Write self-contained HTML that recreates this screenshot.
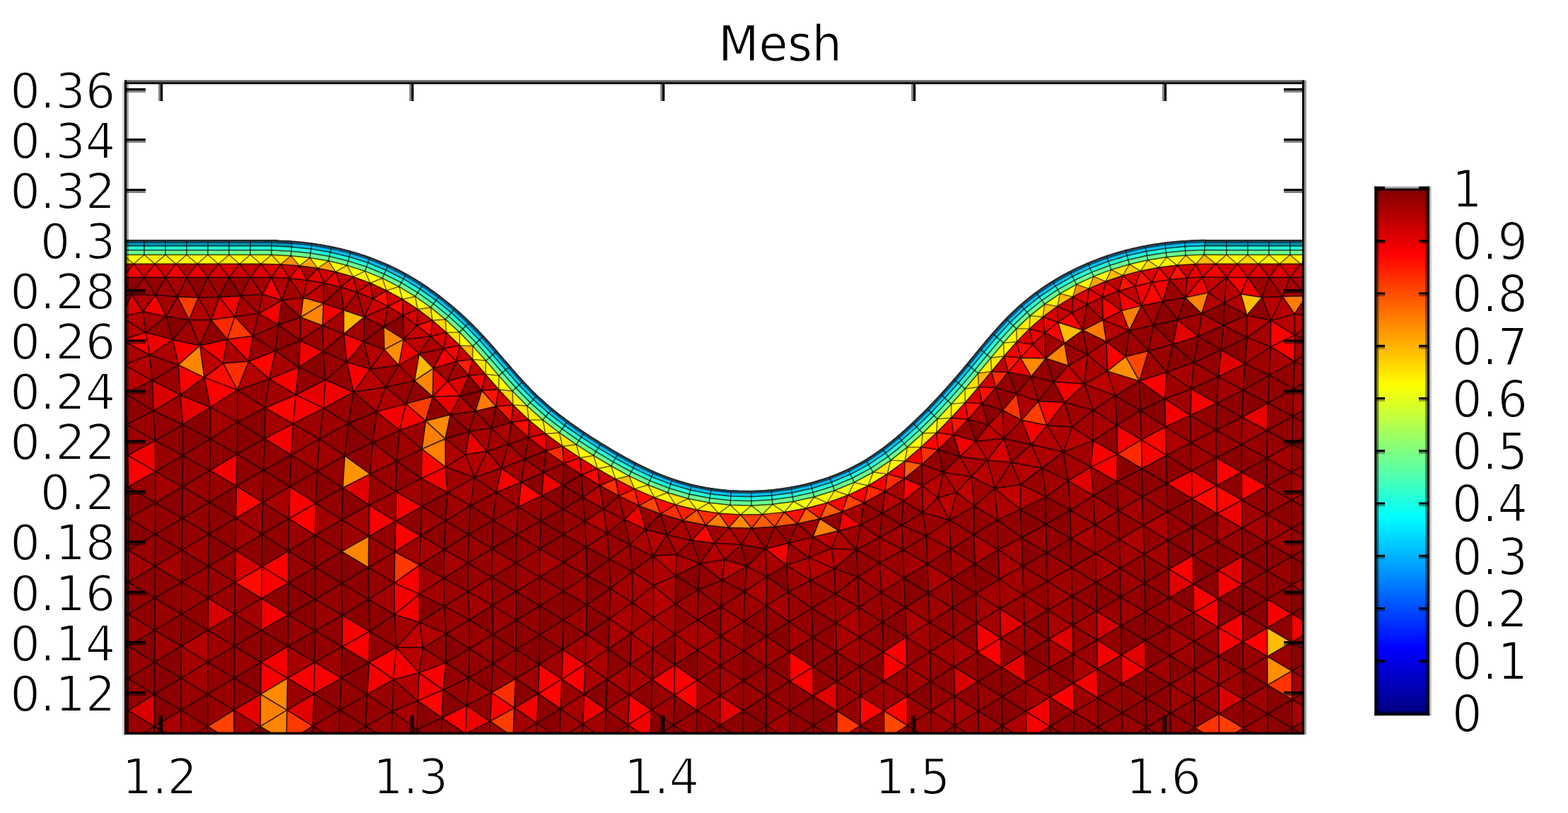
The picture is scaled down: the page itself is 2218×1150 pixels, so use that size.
<!DOCTYPE html>
<html lang="en">
<head>
<meta charset="utf-8">
<title>Mesh</title>
<style>
html,body{margin:0;padding:0;background:#fff;}
body{width:2218px;height:1150px;overflow:hidden;}
svg{display:block;}
</style>
</head>
<body>
<svg width="2218" height="1150" viewBox="0 0 2218 1150">
<defs>
<clipPath id="axclip"><rect x="177.5" y="117" width="1667" height="920.5"/></clipPath>
<filter id="softm" filterUnits="userSpaceOnUse" x="0" y="0" width="2218" height="1150" color-interpolation-filters="sRGB"><feGaussianBlur stdDeviation="0.5"/></filter>
<filter id="soft" filterUnits="userSpaceOnUse" x="0" y="0" width="2218" height="1150" color-interpolation-filters="sRGB"><feGaussianBlur stdDeviation="0.65"/></filter>
<linearGradient id="jet" x1="0" y1="0" x2="0" y2="1">
<stop offset="0" stop-color="#800000"/>
<stop offset="0.125" stop-color="#ff0000"/>
<stop offset="0.375" stop-color="#ffff00"/>
<stop offset="0.625" stop-color="#00ffff"/>
<stop offset="0.875" stop-color="#0000ff"/>
<stop offset="1" stop-color="#000080"/>
</linearGradient>
</defs>
<rect width="2218" height="1150" fill="#fff"/>
<g filter="url(#softm)">
<g clip-path="url(#axclip)">
<polygon fill="#900000" points="-50,339.3 -46,339.3 -42,339.3 -38,339.3 -34,339.3 -30,339.3 -26,339.3 -22,339.3 -18,339.3 -14,339.3 -10,339.3 -6,339.3 -2,339.3 2,339.3 6,339.3 10,339.3 14,339.3 18,339.3 22,339.3 26,339.3 30,339.3 34,339.3 38,339.3 42,339.3 46,339.3 50,339.3 54,339.3 58,339.3 62,339.3 66,339.3 70,339.3 74,339.3 78,339.3 82,339.3 86,339.3 90,339.3 94,339.3 98,339.3 102,339.3 106,339.3 110,339.3 114,339.3 118,339.3 122,339.3 126,339.3 130,339.3 134,339.3 138,339.3 142,339.3 146,339.3 150,339.3 154,339.3 158,339.3 162,339.3 166,339.3 170,339.3 174,339.3 178,339.3 182,339.3 186,339.3 190,339.3 194,339.3 198,339.3 202,339.3 206,339.3 210,339.3 214,339.3 218,339.3 222,339.3 226,339.3 230,339.3 234,339.3 238,339.3 242,339.3 246,339.3 250,339.3 254,339.3 258,339.3 262,339.3 266,339.3 270,339.3 274,339.3 278,339.3 282,339.3 286,339.3 290,339.3 294,339.3 298,339.3 302,339.3 306,339.3 310,339.3 314,339.3 318,339.3 322,339.3 326,339.3 330,339.3 334,339.3 338,339.3 342,339.3 346,339.3 350,339.3 354,339.3 358,339.3 362,339.3 366,339.3 370,339.3 374,339.3 378,339.3 382,339.3 386,339.3 390,339.3 393.8,339.8 397.8,340 401.8,340.2 405.8,340.4 409.8,340.6 413.8,340.9 417.8,341.2 421.8,341.6 425.7,341.9 429.7,342.4 433.7,342.8 437.7,343.3 441.6,343.8 445.6,344.4 449.6,345 453.5,345.6 457.4,346.3 461.4,347 465.3,347.7 469.2,348.5 473.1,349.3 477.1,350.2 480.9,351.1 484.8,352.1 488.7,353 492.6,354.1 496.4,355.1 500.3,356.2 504.1,357.4 507.9,358.5 511.8,359.8 515.5,361 519.3,362.3 523.1,363.7 526.9,365 530.6,366.5 534.3,367.9 538,369.4 541.7,371 545.4,372.6 549,374.2 552.7,375.9 556.3,377.6 559.9,379.3 563.4,381.1 567,383 570.5,384.9 574,386.8 577.5,388.7 581,390.7 584.4,392.8 587.9,394.8 591.3,396.9 594.7,399.1 598,401.2 601.4,403.4 604.7,405.7 608,407.9 611.2,410.2 614.5,412.6 617.7,414.9 620.9,417.3 624.1,419.7 627.3,422.2 630.4,424.7 633.5,427.2 636.6,429.7 639.7,432.3 642.7,434.9 645.7,437.5 648.7,440.2 651.7,442.8 654.7,445.5 657.6,448.2 660.5,451 663.4,453.8 666.3,456.6 669.1,459.4 671.9,462.2 674.7,465.1 677.5,467.9 680.3,470.8 683,473.8 685.7,476.7 688.4,479.6 691.1,482.6 693.7,485.6 696.4,488.6 699,491.6 701.7,494.6 704.3,497.6 706.9,500.7 709.5,503.7 712.1,506.7 714.7,509.8 717.3,512.8 719.9,515.8 722.6,518.8 725.2,521.9 727.8,524.9 730.5,527.9 733.1,530.9 735.8,533.8 738.5,536.8 741.2,539.7 743.9,542.7 746.7,545.6 749.5,548.5 752.2,551.3 755.1,554.2 757.9,557 760.8,559.7 763.7,562.5 766.7,565.2 769.6,567.9 772.6,570.5 775.7,573.1 778.7,575.7 781.8,578.3 784.9,580.8 788,583.3 791.2,585.8 794.3,588.2 797.5,590.6 800.7,593 803.9,595.4 807.2,597.7 810.4,600.1 813.7,602.4 817,604.6 820.3,606.9 823.6,609.1 826.9,611.4 830.3,613.6 833.6,615.7 837,617.9 840.4,620 843.7,622.2 847.1,624.3 850.5,626.4 854,628.5 857.4,630.6 860.8,632.6 864.2,634.7 867.7,636.7 871.1,638.8 874.6,640.8 878.1,642.8 881.5,644.7 885,646.7 888.5,648.6 892,650.5 895.6,652.4 899.1,654.2 902.7,656.1 906.3,657.9 909.8,659.6 913.4,661.4 917.1,663.1 920.7,664.7 924.4,666.4 928,668 931.7,669.5 935.4,671 939.1,672.5 942.9,673.9 946.6,675.3 950.4,676.6 954.2,677.9 958,679.2 961.8,680.3 965.6,681.5 969.5,682.6 973.4,683.6 977.2,684.6 981.1,685.5 985,686.4 988.9,687.3 992.9,688.1 996.8,688.8 1000.7,689.5 1004.7,690.1 1008.6,690.7 1012.6,691.3 1016.6,691.8 1020.5,692.2 1024.5,692.6 1028.5,693 1032.5,693.3 1036.5,693.5 1040.5,693.7 1044.5,693.9 1048.5,694 1052.5,694.1 1056.5,694.1 1060.5,694.1 1064.5,694 1068.5,693.9 1072.5,693.8 1076.5,693.6 1080.4,693.3 1084.4,693 1088.4,692.7 1092.4,692.3 1096.4,691.9 1100.4,691.4 1104.3,690.9 1108.3,690.4 1112.2,689.8 1116.2,689.1 1120.1,688.4 1124.1,687.7 1128,686.9 1131.9,686.1 1135.8,685.2 1139.7,684.3 1143.6,683.3 1147.4,682.3 1151.3,681.2 1155.1,680.1 1159,679 1162.8,677.8 1166.6,676.5 1170.4,675.2 1174.1,673.9 1177.9,672.5 1181.6,671 1185.3,669.5 1189,668 1192.7,666.4 1196.3,664.7 1199.9,663 1203.5,661.3 1207.1,659.5 1210.7,657.6 1214.2,655.7 1217.7,653.8 1221.1,651.8 1224.5,649.7 1228,647.6 1231.3,645.5 1234.7,643.3 1238,641 1241.3,638.7 1244.5,636.4 1247.8,634.1 1251,631.7 1254.1,629.2 1257.3,626.8 1260.4,624.3 1263.5,621.7 1266.6,619.2 1269.6,616.6 1272.7,614 1275.7,611.4 1278.7,608.7 1281.7,606 1284.6,603.3 1287.5,600.6 1290.5,597.9 1293.4,595.1 1296.2,592.4 1299.1,589.6 1302,586.8 1304.8,584 1307.6,581.1 1310.4,578.3 1313.2,575.4 1316,572.6 1318.8,569.7 1321.6,566.8 1324.3,563.9 1327,560.9 1329.7,558 1332.4,555 1335.1,552.1 1337.8,549.1 1340.5,546.1 1343.1,543.1 1345.8,540.1 1348.4,537.1 1351,534.1 1353.6,531 1356.2,528 1358.8,524.9 1361.4,521.9 1363.9,518.8 1366.5,515.7 1369,512.7 1371.6,509.6 1374.1,506.5 1376.7,503.4 1379.2,500.3 1381.7,497.2 1384.3,494.1 1386.8,491 1389.4,488 1392,484.9 1394.5,481.8 1397.1,478.8 1399.7,475.7 1402.3,472.7 1404.9,469.7 1407.6,466.7 1410.3,463.7 1412.9,460.7 1415.7,457.8 1418.4,454.9 1421.1,452 1423.9,449.1 1426.7,446.3 1429.6,443.5 1432.5,440.7 1435.4,437.9 1438.3,435.2 1441.3,432.5 1444.3,429.9 1447.3,427.3 1450.4,424.7 1453.5,422.2 1456.6,419.7 1459.8,417.3 1463,414.8 1466.2,412.5 1469.4,410.1 1472.7,407.8 1476,405.6 1479.3,403.3 1482.7,401.2 1486,399 1489.4,396.9 1492.9,394.8 1496.3,392.8 1499.8,390.8 1503.3,388.8 1506.8,386.9 1510.3,385.1 1513.9,383.2 1517.4,381.4 1521,379.6 1524.6,377.9 1528.3,376.2 1531.9,374.6 1535.6,373 1539.3,371.4 1542.9,369.9 1546.7,368.4 1550.4,366.9 1554.1,365.5 1557.9,364.1 1561.6,362.8 1565.4,361.5 1569.2,360.2 1573,359 1576.9,357.8 1580.7,356.7 1584.5,355.6 1588.4,354.5 1592.2,353.5 1596.1,352.5 1600,351.5 1603.9,350.6 1607.8,349.7 1611.7,348.9 1615.6,348.1 1619.6,347.3 1623.5,346.6 1627.4,345.9 1631.4,345.2 1635.3,344.6 1639.3,344 1643.2,343.5 1647.2,342.9 1651.2,342.5 1655.2,342 1659.1,341.6 1663.1,341.2 1667.1,340.9 1671.1,340.6 1675.1,340.3 1679.1,340 1683.1,339.8 1687.1,339.6 1691.1,339.5 1695.1,339.3 1699.1,339.2 1703.1,339.2 1707,339.3 1711,339.3 1715,339.3 1719,339.3 1723,339.3 1727,339.3 1731,339.3 1735,339.3 1739,339.3 1743,339.3 1747,339.3 1751,339.3 1755,339.3 1759,339.3 1763,339.3 1767,339.3 1771,339.3 1775,339.3 1779,339.3 1783,339.3 1787,339.3 1791,339.3 1795,339.3 1799,339.3 1803,339.3 1807,339.3 1811,339.3 1815,339.3 1819,339.3 1823,339.3 1827,339.3 1831,339.3 1835,339.3 1839,339.3 1843,339.3 1847,339.3 1851,339.3 1855,339.3 1859,339.3 1863,339.3 1867,339.3 1871,339.3 1875,339.3 1879,339.3 1883,339.3 1887,339.3 1891,339.3 1895,339.3 1899,339.3 1903,339.3 1907,339.3 1911,339.3 1915,339.3 1919,339.3 1923,339.3 1927,339.3 1931,339.3 1935,339.3 1939,339.3 1943,339.3 1947,339.3 1951,339.3 1955,339.3 1959,339.3 1963,339.3 1967,339.3 1971,339.3 1975,339.3 1979,339.3 1983,339.3 1987,339.3 1991,339.3 1995,339.3 1999,339.3 2003,339.3 2007,339.3 2011,339.3 2015,339.3 2019,339.3 2023,339.3 2027,339.3 2031,339.3 2035,339.3 2039,339.3 2043,339.3 2047,339.3 2051,339.3 2055,339.3 2059,339.3 2063,339.3 2067,339.3 2071,339.3 2071,1060 -50,1060"/>
<path fill="#ffbd00" d="M1792.7 928.5L1792.5 888L1827.2 908.4ZM1496.5 455.9L1531.7 467L1505.8 485.5ZM1755.3 415.9L1785.2 420.7L1763.8 445.9Z"/>
<path fill="#ffb800" d="M486.3 438.7L515.1 448.6L486.2 472.4ZM593 500.4L612.9 521L586.3 538.5Z"/>
<path fill="#ff9400" d="M487.7 644.5L523.4 670.4L484.9 690.1Z"/>
<path fill="#ff8f00" d="M425.4 448.7L429 421L457.6 429.3ZM543.5 494.4L571 480.1L564.1 516.7ZM1793 969.1L1792.7 928.5L1827.4 948.9ZM1592.5 504.5L1611.7 539L1566.3 525Z"/>
<path fill="#ff8a00" d="M571 480.1L543.5 494.4L542.8 462.3ZM405.9 1004.4L368.7 981.9L406.7 959.2ZM1443.5 506.1L1479.5 506.9L1458.7 532.5ZM602.1 595.5L637 586.6L629.9 620.6Z"/>
<path fill="#ff8500" d="M586.3 538.5L612.9 521L612.1 560.9ZM252.2 516.1L282.8 488.9L289 534ZM483.4 780.1L521.7 758.4L521.2 802.8ZM456.2 460.6L425.4 448.7L457.6 429.3ZM1511.2 517.3L1479.5 506.9L1505.8 485.5ZM1676.5 420.8L1709.2 414L1699.7 443.7ZM405.1 1050L368.3 1027.5L405.9 1004.4Z"/>
<path fill="#ff8000" d="M596.9 635.1L602.1 595.5L629.9 620.6ZM630.1 660.4L596.9 635.1L629.9 620.6ZM368.3 1027.5L368.7 981.9L405.9 1004.4ZM1186.4 750.9L1149.9 759.5L1159.9 733.8ZM1597.4 467.5L1586.5 439.5L1614.6 432.3Z"/>
<path fill="#ff7a00" d="M1531.7 467L1560.2 452.8L1565 483.3ZM701.4 574.8L672.6 581.6L681.5 552.4ZM1814.1 419.3L1848.1 418.6L1831.2 443.9Z"/>
<path fill="#ff4700" d="M1250.3 1005.4L1283.8 1026.2L1250.6 1047.1ZM1592.5 504.5L1624.6 496.4L1611.7 539Z"/>
<path fill="#ff4200" d="M331 1050.1L293.6 1027.4L331.1 1004.6Z"/>
<path fill="#ff3d00" d="M602.1 595.5L574.1 571.2L612.1 560.9ZM280.6 420.8L267.4 452.7L251.2 419.9ZM725.9 1042.5L693.3 1020.2L727.7 1001.3ZM1724.6 1050.2L1724.3 1009.4L1758.9 1029.9ZM1445 594.3L1468.6 567.4L1480.9 601.7Z"/>
<path fill="#ff3800" d="M593.6 799.3L557.8 824.5L558.5 780.5ZM332.3 447.7L357.9 475.4L321.3 479.8ZM1217.1 1026.2L1183.9 1047.2L1183.8 1005.6ZM405.1 1050L405.9 1004.4L442.6 1027.1Z"/>
<path fill="#ff3300" d="M1793 969.1L1827.4 948.9L1827.6 989.5ZM1724.6 1050.2L1690.1 1029.5L1724.3 1009.4ZM1438.2 557L1445 594.3L1418.3 580.3Z"/>
<path fill="#ff2e00" d="M315.6 513.8L351.8 511.1L335.8 551.7ZM727.7 1001.3L695.4 979.8L729.2 960Z"/>
<path fill="#ff2900" d="M332.3 447.7L321.3 479.8L298.5 452.5ZM1614.5 622L1615.5 662.8L1580.6 642.5Z"/>
<path fill="#ff0a00" d="M289 534L315.6 513.8L335.8 551.7ZM370 846.6L332.4 823.7L370.3 801.4ZM1686.1 705.5L1721 686.8L1721.5 726.4Z"/>
<path fill="#ff0500" d="M596.9 635.1L630.1 660.4L596 676.7ZM375 576.9L418.5 558.5L414.5 599.6ZM1644.9 426.4L1614.6 432.3L1629.7 399.3ZM389.7 496.2L381.1 536L351.8 511.1ZM761.4 981.2L794.7 960.6L793.1 1002.8ZM334.4 687.5L371.6 710.6L333.5 732.9ZM1250.3 1005.4L1283.4 984.6L1283.8 1026.2ZM1250.3 1005.4L1217.1 1026.2L1216.9 984.6ZM1614.5 622L1648.6 603.8L1649.8 643.9ZM626.9 975.8L625.1 1015.5L591 991.3ZM733.2 717L737.4 681.9L766.4 701.2ZM1468.6 567.4L1506.1 569.1L1480.9 601.7ZM633 539L650.9 560.2L612.1 560.9ZM1721.5 726.4L1721 686.8L1756.5 707.2ZM998.3 742.8L1010.8 768.3L978.5 764.3Z"/>
<path fill="#ff0000" d="M370.3 801.4L408 779.2L408 824.5ZM574.1 571.2L602.1 595.5L565.3 608.8ZM252.2 516.1L289 534L254.9 558.8ZM297.5 576.1L289 534L335.8 551.7ZM921.3 1004.4L888.6 1025.4L890.1 982.7ZM321.3 479.8L357.9 475.4L351.8 511.1ZM180.8 644.1L219.8 666.9L181.4 688.5ZM953.9 983.3L954.5 940.5L986.3 962.4ZM985.9 1004.9L953.9 983.3L986.3 962.4ZM1117.2 963.7L1116.8 921.8L1150.1 943.2ZM408.6 733.8L446.7 711.7L445.8 757.1ZM560.6 915.5L556.7 961.3L522.2 937ZM762.6 939.5L794.7 960.6L761.4 981.2ZM1687.4 785.7L1688 826.1L1653.2 805.1ZM1519 1007.4L1484.8 986.3L1518.5 966.2ZM1415.6 902.5L1416.5 943.9L1382.5 922.7ZM559.7 737.3L594.8 757.7L558.5 780.5ZM1586.5 439.5L1560.2 452.8L1559.4 420.4ZM514.6 483.4L490.5 512.1L486.2 472.4ZM826.2 982L794.7 960.6L827.8 939.5ZM1615.5 662.8L1614.5 622L1649.8 643.9ZM658.6 1038L625.1 1015.5L660.2 998.1ZM1647.6 564.2L1611.7 539L1650.3 526.4ZM1460.7 487.3L1479.5 506.9L1443.5 506.1ZM1496.5 455.9L1516.4 442.6L1531.7 467ZM1592.5 504.5L1566.3 525L1565 483.3ZM1831.5 474.1L1797.3 490.6L1797.6 453.5ZM1797.3 490.6L1831.5 474.1L1831.2 511.3ZM1304.6 687.4L1277.8 708.6L1279.2 676.8ZM1792.7 928.5L1758 908L1792.5 888ZM1756.5 707.2L1756.3 667.8L1791.8 687.6ZM1720.6 647.4L1756.3 667.8L1721 686.8ZM1580 681.6L1543.1 660.5L1580.6 642.5ZM1722.9 846.9L1688.6 866.7L1688 826.1Z"/>
<path fill="#fa0000" d="M370 846.6L370.3 801.4L408 824.5ZM522.9 893L484 914.7L484.2 870.3ZM484 914.7L522.9 893L522.2 937ZM1861.8 888.2L1827.2 908.4L1827.1 868ZM1282.8 942.9L1249.9 963.7L1249.3 922ZM1552.3 946.2L1552.8 987.2L1518.5 966.2ZM211.6 502.1L172.3 480.7L206.3 470.3ZM557.8 824.5L593.6 799.3L593.1 840.5ZM1654.3 395.5L1644.9 426.4L1629.7 399.3ZM315.6 513.8L282.8 488.9L321.3 479.8ZM422.6 519.3L418.5 558.5L381.1 536ZM1150.4 984.7L1117.2 963.7L1150.1 943.2ZM220.1 417.1L234.8 447.5L202.2 440.7ZM244.5 480.5L282.8 488.9L252.2 516.1ZM446.7 711.7L408.6 733.8L410 688.4ZM500.1 554.6L490.5 512.1L523.6 522.1ZM340.5 418.4L332.3 447.7L310.1 420.4ZM953.9 983.3L922.4 961.5L954.5 940.5ZM1792.5 888L1792.3 847.6L1827.1 868ZM1485.3 1027.5L1451.7 1047.9L1451.2 1006.5ZM522.1 714.6L559.7 737.3L521.7 758.4ZM630.9 937.2L626.9 975.8L592.6 951.8ZM445.1 936.8L444.1 981.6L406.7 959.2ZM444.1 981.6L445.1 936.8L482.8 959.1ZM693.3 1020.2L695.4 979.8L727.7 1001.3ZM1579.7 601.6L1614.5 622L1580.6 642.5ZM418.5 558.5L457.7 577.6L414.5 599.6ZM559.7 737.3L559.9 695.2L596.7 716.4ZM1478 470.8L1496.5 455.9L1505.8 485.5ZM1586.5 439.5L1582.2 411.8L1614.6 432.3ZM368.7 981.9L369.2 936.7L406.7 959.2ZM709.2 662.3L737.4 681.9L702.1 696.6ZM1755.3 415.9L1734.9 392.3L1764.9 392.3ZM1721.1 570.5L1684 587.5L1685.2 549.9ZM1506.1 569.1L1490.8 540.1L1534.1 543.2ZM1282 901.1L1282.8 942.9L1249.3 922ZM1721 686.8L1686.1 705.5L1685.4 665.7ZM1543.1 660.5L1546.2 623.3L1580.6 642.5ZM1723.7 928L1723.3 887.4L1758 908Z"/>
<path fill="#f50000" d="M761.4 981.2L759.7 1023L727.7 1001.3ZM407.8 869.4L369.6 891.6L370 846.6ZM888.6 1025.4L921.3 1004.4L920.1 1046.9ZM556.7 961.3L519.3 982.3L522.2 937ZM558 869.4L593.1 840.5L593.5 880.3ZM558 869.4L557.8 824.5L593.1 840.5ZM630.1 660.4L633.2 696.8L596 676.7ZM645.4 511.2L612.9 521L627.7 493ZM335.4 642.2L334.4 687.5L296.9 665.4ZM414.5 599.6L412 643.5L374.3 620.6ZM556.7 961.3L560.6 915.5L592.6 951.8ZM486.3 438.7L456.2 460.6L457.6 429.3ZM1614.6 432.3L1605.6 404.8L1629.7 399.3ZM827.8 939.5L794.7 960.6L795.9 918.7ZM532.7 582.3L574.1 571.2L565.3 608.8ZM398.8 424.7L371.4 416.2L384 392.3ZM365.8 443.5L398.8 424.7L393.6 459.5ZM422.6 519.3L424.4 481.7L457.2 497.2ZM1082.7 776.4L1115.8 768.2L1112.3 799.5ZM612.9 521L633 539L612.1 560.9ZM1586.2 926.3L1552.3 946.2L1551.7 905.3ZM1586.2 926.3L1620.7 947.2L1586.7 967.2ZM500.1 554.6L457.7 577.6L460.3 537.4ZM1709.2 414L1676.5 420.8L1700.8 392ZM406.7 959.2L369.2 936.7L407.4 914.3ZM1647.6 564.2L1684 587.5L1648.6 603.8ZM1757.4 827.2L1722.9 846.9L1722.4 806.6ZM1685.4 665.7L1686.1 705.5L1650.7 684.1ZM1191.4 724L1217.6 742.4L1186.4 750.9ZM1381.5 881.1L1415.6 902.5L1382.5 922.7ZM1458.7 628.9L1445 594.3L1480.9 601.7ZM1758 908L1723.3 887.4L1757.7 867.6ZM1723.3 887.4L1688.6 866.7L1722.9 846.9Z"/>
<path fill="#f00000" d="M1721.5 726.4L1756.5 707.2L1756.8 747ZM244.5 480.5L211.6 502.1L206.3 470.3ZM219.4 623.3L219.8 666.9L180.8 644.1ZM796.3 686.5L766.4 701.2L768.9 668.3ZM903.8 715.2L913.2 748.9L883.3 734.8ZM1484.8 986.3L1485.3 1027.5L1451.2 1006.5ZM592.6 951.8L626.9 975.8L591 991.3ZM1426.2 526.6L1443.5 506.1L1458.7 532.5ZM571 480.1L593 500.4L564.1 516.7ZM693.3 1020.2L658.6 1038L660.2 998.1ZM1380.5 624.1L1358 645.8L1348.7 615Z"/>
<path fill="#eb0000" d="M658.6 643.1L663.7 610.2L688.9 638.1ZM824.4 1024.5L826.2 982L857.4 1003.7ZM1785.2 420.7L1755.3 415.9L1764.9 392.3ZM650.9 560.2L637 586.6L612.1 560.9ZM1756.9 590.2L1793.6 570L1792.4 609Z"/>
<path fill="#e50000" d="M297.5 576.1L258.6 600.8L254.9 558.8ZM1051.3 1005.2L1018.4 1026L1018.6 984ZM1416.5 943.9L1449.8 923.9L1450.6 965.2ZM368.7 981.9L368.3 1027.5L331.1 1004.6ZM457.7 577.6L418.5 558.5L460.3 537.4ZM1665.7 452.3L1695.2 475.9L1659.2 486.7Z"/>
<path fill="#e00000" d="M1757.1 787L1757.4 827.2L1722.4 806.6ZM1183.5 964L1183.8 1005.6L1150.4 984.7ZM310.1 420.4L332.3 447.7L298.5 452.5ZM1688 826.1L1653.8 845.8L1653.2 805.1ZM1415.6 902.5L1414.6 861L1449 882.7ZM523.4 670.4L522.1 714.6L484.9 690.1ZM405.9 1004.4L444.1 981.6L442.6 1027.1ZM1517.8 925.2L1483.4 904L1517.2 884.2ZM1620.7 947.2L1586.2 926.3L1620.2 906.3ZM650.9 560.2L633 539L663.1 531.1ZM1727.4 495L1761.3 514.4L1723.4 532.8ZM1510.9 680.1L1543.1 660.5L1546.7 701.1Z"/>
<path fill="#db0000" d="M1350.1 984.8L1349.4 943.2L1383.3 964.3ZM171.8 448.4L185.9 416.6L202.2 440.7ZM217.1 581L215.6 538.4L254.9 558.8ZM1724.3 1009.4L1724 968.7L1758.6 989.3Z"/>
<path fill="#d60000" d="M294.5 846.1L332 868.9L294.1 891.4ZM218.4 1027.6L180.9 1005L218.5 982.2ZM332.4 823.7L332.9 778.4L370.3 801.4ZM1420 620.2L1430.3 653.8L1396.7 651.1Z"/>
<path fill="#d10000" d="M549 433.5L515.1 448.6L527.5 422.6ZM1551.1 864.4L1585.7 885.4L1551.7 905.3Z"/>
<path fill="#cc0000" d="M1676.5 420.8L1679.2 393.1L1700.8 392Z"/>
<path fill="#c70000" d="M429 421L434 396.3L458.3 400.4ZM609.2 476L571 480.1L589.9 460.3ZM1479.5 506.9L1460.7 487.3L1478 470.8Z"/>
<path fill="#c20000" d="M434 396.3L429 421L409.2 393.7ZM598.3 916.2L560.6 915.5L593.5 880.3ZM1443.1 720.8L1407.2 690.8L1443.8 685.3ZM175.2 516L137.5 491.5L172.3 480.7ZM1490.8 540.1L1511.2 517.3L1534.1 543.2ZM1614.6 432.3L1582.2 411.8L1605.6 404.8ZM1734.9 392.3L1709.2 414L1700.8 392ZM1420 620.2L1397.9 600.8L1418.3 580.3ZM1378.4 715.9L1353.2 696.5L1373.5 674.2Z"/>
<path fill="#bd0000" d="M429 421L458.3 400.4L457.6 429.3ZM282.8 488.9L315.6 513.8L289 534ZM140 455.1L171.8 448.4L172.3 480.7ZM486.3 438.7L482.1 406.1L505.2 413.6ZM955.8 814.3L923.6 786.7L956.9 784.2ZM1056.4 800.9L1021.3 820.9L1025 791.4ZM1149.9 759.5L1186.4 750.9L1176.1 775.8ZM1566.3 525L1577.8 559.8L1534.1 543.2ZM1586.5 439.5L1597.4 467.5L1560.2 452.8ZM593 500.4L571 480.1L609.2 476ZM1865.1 450.5L1831.5 474.1L1831.2 443.9ZM1380.5 624.1L1397.9 600.8L1420 620.2ZM1358 645.8L1380.5 624.1L1396.7 651.1ZM1879.9 417.7L1848.1 418.6L1854.9 392.3ZM1353.2 696.5L1343.1 735.9L1326.6 704.1Z"/>
<path fill="#b80000" d="M924.4 828.3L955.3 854.2L924.3 873.9ZM688.9 638.1L709.2 662.3L671.2 675.4ZM560.6 915.5L598.3 916.2L592.6 951.8ZM543.5 494.4L564.1 516.7L523.6 522.1ZM545.6 547.7L500.1 554.6L523.6 522.1ZM848.4 686.8L853.5 719.8L824.5 703.7ZM515.1 448.6L549 433.5L542.8 462.3ZM1511.2 517.3L1538.4 501.6L1534.1 543.2ZM1679.2 393.1L1676.5 420.8L1654.3 395.5ZM589.9 460.3L571 480.1L569.8 446.1ZM425.4 448.7L398.8 424.7L429 421ZM1373.5 674.2L1396.7 651.1L1407.2 690.8ZM1180.3 804.2L1144.1 789L1176.1 775.8ZM177.3 556.4L175.2 516L215.6 538.4ZM1831.2 443.9L1831.5 474.1L1797.6 453.5ZM1734.9 392.3L1755.3 415.9L1731.9 428.4ZM1814.1 419.3L1831.2 443.9L1797.6 453.5ZM1785.2 420.7L1814.1 419.3L1797.6 453.5ZM1531.7 467L1516.4 442.6L1537.4 430.7ZM1516.3 604.2L1546.2 623.3L1504.3 639.4ZM1304.6 687.4L1334.3 668.1L1326.6 704.1ZM1884.9 392.3L1879.9 417.7L1854.9 392.3ZM1304.9 725.2L1304.6 687.4L1326.6 704.1ZM1879.9 417.7L1898.7 439.6L1865.1 450.5ZM1248 726.3L1251.8 695.2L1277.8 708.6Z"/>
<path fill="#b30000" d="M351.8 511.1L381.1 536L335.8 551.7ZM171.8 448.4L202.2 440.7L206.3 470.3ZM172.3 480.7L171.8 448.4L206.3 470.3ZM556.7 961.3L592.6 951.8L591 991.3ZM631.3 896.5L598.3 916.2L593.5 880.3ZM630.1 660.4L658.6 643.1L671.2 675.4ZM658.6 643.1L688.9 638.1L671.2 675.4ZM175.2 516L211.6 502.1L215.6 538.4ZM1560.2 452.8L1537.4 430.7L1559.4 420.4ZM923.6 786.7L913.2 748.9L943.4 756.7ZM1144.1 789L1146.9 821L1112.3 799.5ZM267.4 452.7L280.6 420.8L298.5 452.5ZM515.1 448.6L505.2 413.6L527.5 422.6ZM1566.3 525L1538.4 501.6L1565 483.3ZM514.6 483.4L543.5 494.4L523.6 522.1ZM398.8 424.7L384 392.3L409.2 393.7ZM371.4 416.2L398.8 424.7L365.8 443.5ZM990.2 797.3L1010.8 768.3L1025 791.4ZM1010.8 768.3L1048.3 770.4L1025 791.4ZM1115.8 768.2L1149.9 759.5L1144.1 789ZM1797.6 453.5L1764.1 477.5L1763.8 445.9ZM858.9 754.3L827.3 737.6L853.5 719.8ZM1611.7 539L1577.8 559.8L1566.3 525ZM1211.2 777.6L1180.3 804.2L1176.1 775.8ZM1144.1 789L1180.3 804.2L1146.9 821ZM1582.2 411.8L1586.5 439.5L1559.4 420.4ZM1560.2 452.8L1597.4 467.5L1565 483.3ZM1709.2 414L1731.9 428.4L1699.7 443.7ZM1709.2 414L1734.9 392.3L1731.9 428.4ZM1010.8 768.3L1030.9 746.3L1048.3 770.4ZM1731.9 428.4L1755.3 415.9L1763.8 445.9ZM1479.5 702.7L1443.1 720.8L1443.8 685.3ZM293.8 936.6L256.3 914L294.1 891.4ZM1504.3 639.4L1458.7 628.9L1480.9 601.7ZM1380.5 624.1L1420 620.2L1396.7 651.1ZM1353.2 696.5L1334.3 668.1L1373.5 674.2ZM1334.3 668.1L1358 645.8L1373.5 674.2ZM1430.3 653.8L1474 662.3L1443.8 685.3ZM1430.3 653.8L1458.7 628.9L1474 662.3Z"/>
<path fill="#ad0000" d="M280.6 420.8L310.1 420.4L298.5 452.5ZM315.6 513.8L321.3 479.8L351.8 511.1ZM886.9 1067.8L888.6 1025.4L920.1 1046.9ZM174 392.3L185.9 416.6L155.3 421ZM955.8 814.3L955.3 854.2L924.4 828.3ZM1021.3 820.9L990.2 797.3L1025 791.4ZM990.2 797.3L955.8 814.3L956.9 784.2ZM1215 859L1215.9 901.1L1182.4 881.1ZM658.6 643.1L630.1 660.4L629.9 620.6ZM549 433.5L569.8 446.1L542.8 462.3ZM1652.3 764.6L1617.2 743.3L1651.3 724.2ZM1451.7 1047.9L1417.8 1026.8L1451.2 1006.5ZM185.9 416.6L220.1 417.1L202.2 440.7ZM211.6 502.1L175.2 516L172.3 480.7ZM211.6 502.1L244.5 480.5L252.2 516.1ZM171.8 448.4L140 455.1L155.3 421ZM140 455.1L126.5 418.8L155.3 421ZM371.4 416.2L340.5 418.4L354 392.3ZM913.2 748.9L923.6 786.7L891.1 770.4ZM923.6 786.7L955.8 814.3L924.4 828.3ZM943.4 756.7L978.5 764.3L956.9 784.2ZM1082.7 776.4L1048.3 770.4L1063.4 747.1ZM1648.6 603.8L1684.6 626.2L1649.8 643.9ZM1617.2 743.3L1618.3 784.1L1583.5 763.1ZM1186.4 750.9L1211.2 777.6L1176.1 775.8ZM1349.4 943.2L1348.5 901.5L1382.5 922.7ZM140 575.4L179 600.3L141.6 620.4ZM282.8 488.9L267.4 452.7L298.5 452.5ZM545.6 547.7L532.7 582.3L500.1 554.6ZM532.7 582.3L545.6 547.7L574.1 571.2ZM456.2 460.6L424.4 481.7L425.4 448.7ZM143.5 982.5L180.9 1005L143.5 1028.1ZM1862.1 1009.9L1827.7 1030.1L1827.6 989.5ZM593 500.4L609.2 476L627.7 493ZM564.1 516.7L593 500.4L586.3 538.5ZM923.4 918.1L892.9 896.2L924.3 873.9ZM892.9 896.2L862.1 875.2L894.4 852.4ZM860.6 918.1L827.8 939.5L829.2 897.3ZM1053.2 837L1084.6 815.7L1084.3 856.9ZM1445 594.3L1420 620.2L1418.3 580.3ZM1445 594.3L1438.2 557L1468.6 567.4ZM1443.1 720.8L1411 735.5L1407.2 690.8ZM695.5 605.7L723.5 597.4L719.3 628.5ZM637 586.6L650.9 560.2L672.6 581.6ZM143.6 936.9L143.7 891.5L181.2 914.1ZM1848.1 418.6L1824.9 392.3L1854.9 392.3ZM1824.9 392.3L1814.1 419.3L1794.9 392.3ZM1516.3 604.2L1504.3 639.4L1480.9 601.7ZM1474 662.3L1458.7 628.9L1504.3 639.4ZM966 736.4L978.5 764.3L943.4 756.7ZM1730.7 460.3L1695.2 475.9L1699.7 443.7ZM1280.6 859.2L1314.6 880.4L1282 901.1ZM1396.7 651.1L1430.3 653.8L1407.2 690.8ZM1379.1 798L1377.6 756.3L1411.9 777.6ZM1311.8 797.9L1346.2 818.3L1313.2 838.8Z"/>
<path fill="#a80000" d="M894.4 852.4L924.4 828.3L924.3 873.9ZM954.9 897.4L986.9 876.9L986.6 919.7ZM1756.8 747L1791.8 727.3L1791.9 767.3ZM888.6 1025.4L857.4 1003.7L890.1 982.7ZM628.3 777.3L661.8 796.5L627.7 817.8ZM445.1 936.8L406.7 959.2L407.4 914.3ZM954.5 940.5L954.9 897.4L986.6 919.7ZM955.3 854.2L954.9 897.4L924.3 873.9ZM1862.2 687L1862.7 647.1L1897.3 666.3ZM1514.7 762.1L1548.8 742.2L1549.6 782.9ZM1584.3 803.8L1550.4 823.7L1549.6 782.9ZM202.2 440.7L234.8 447.5L206.3 470.3ZM458.3 400.4L482.1 406.1L457.6 429.3ZM894.4 852.4L894.5 808.3L924.4 828.3ZM593.6 799.3L594.8 757.7L628.3 777.3ZM757.8 1064.8L725.9 1042.5L759.7 1023ZM1018.6 984L985.9 1004.9L986.3 962.4ZM954.9 897.4L923.4 918.1L924.3 873.9ZM986.9 876.9L1019.1 899.8L986.6 919.7ZM1215.9 901.1L1183.1 922.5L1182.4 881.1ZM1721.9 766.4L1721.5 726.4L1756.8 747ZM1517.8 925.2L1552.3 946.2L1518.5 966.2ZM456.2 460.6L486.2 472.4L457.2 497.2ZM545.6 547.7L564.1 516.7L586.3 538.5ZM332.3 447.7L340.5 418.4L365.8 443.5ZM357.9 475.4L332.3 447.7L365.8 443.5ZM389.7 496.2L422.6 519.3L381.1 536ZM763.7 776.2L797.1 795.5L763.6 816.5ZM665.7 715.2L633.2 696.8L671.2 675.4ZM853.5 1089L855.6 1046.4L886.9 1067.8ZM1827 707.4L1827.2 667.7L1862.2 687ZM903.8 715.2L883.3 734.8L875.3 701.6ZM709.2 662.3L719.3 628.5L742.5 649.6ZM1350.1 984.8L1383.9 1005.9L1350.6 1026.4ZM251.2 419.9L234 392.3L264 392.3ZM267.4 452.7L234.8 447.5L251.2 419.9ZM137.5 491.5L140 455.1L172.3 480.7ZM137.5 491.5L175.2 516L138.2 530.4ZM408.6 733.8L371.6 710.6L410 688.4ZM1538.4 501.6L1566.3 525L1534.1 543.2ZM1560.2 452.8L1531.7 467L1537.4 430.7ZM859 961L891.5 939.6L890.1 982.7ZM891.5 939.6L922.4 961.5L890.1 982.7ZM859 961L826.2 982L827.8 939.5ZM826.2 982L824.4 1024.5L793.1 1002.8ZM1018 1067.8L984.7 1089L985.3 1047.1ZM1115.4 837L1116.1 879.7L1084.3 856.9ZM1183.9 1047.2L1217.1 1026.2L1217.3 1067.7ZM1183.9 1047.2L1184 1088.8L1150.6 1067.8ZM1861.7 807.4L1861.8 847.8L1827 827.6ZM1685.2 549.9L1650.3 526.4L1688.8 512.7ZM663.7 610.2L695.5 605.7L688.9 638.1ZM1484.1 945.1L1483.4 904L1517.8 925.2ZM1517.2 884.2L1483.4 904L1482.6 863.1ZM175.2 516L177.3 556.4L138.2 530.4ZM523.4 670.4L527.4 625.9L561.3 652.5ZM612.9 521L593 500.4L627.7 493ZM1048.3 770.4L1030.9 746.3L1063.4 747.1ZM891.5 939.6L892.9 896.2L923.4 918.1ZM860.6 918.1L859 961L827.8 939.5ZM892.9 896.2L860.6 918.1L862.1 875.2ZM256 1004.6L256 1049.9L218.4 1027.6ZM657.5 1078.2L658.6 1038L691.8 1060.9ZM768.9 668.3L737.4 681.9L742.5 649.6ZM1084.6 815.7L1082.7 776.4L1112.3 799.5ZM1084.6 815.7L1056.4 800.9L1082.7 776.4ZM1831.5 474.1L1865.5 487L1831.2 511.3ZM1579.7 601.6L1546.2 623.3L1546.3 580.3ZM1397.9 600.8L1369.4 593.2L1389.2 570.9ZM1373.5 674.2L1358 645.8L1396.7 651.1ZM1631.5 460.1L1597.4 467.5L1614.6 432.3ZM589.9 1032.1L554.9 1006.1L591 991.3ZM1862.3 1050.6L1862.5 1091.4L1828 1070.8ZM1828.6 589L1829.9 550.1L1864.6 567.5ZM1831.5 474.1L1865.1 450.5L1865.5 487ZM1797.3 490.6L1831.2 511.3L1795.4 530.8ZM1797.3 490.6L1761.3 514.4L1764.1 477.5ZM1814.1 419.3L1824.9 392.3L1848.1 418.6ZM1506.1 569.1L1516.3 604.2L1480.9 601.7ZM1277.8 708.6L1251.8 695.2L1279.2 676.8ZM1217.6 742.4L1191.4 724L1222.1 711.2ZM1334.3 668.1L1353.2 696.5L1326.6 704.1ZM1411 735.5L1378.4 715.9L1407.2 690.8ZM966 736.4L998.3 742.8L978.5 764.3ZM1407.2 690.8L1430.3 653.8L1443.8 685.3ZM1413.4 819.4L1411.9 777.6L1446.6 800.7ZM1244.4 796.1L1278.4 817.6L1246.6 837.9ZM1378.4 715.9L1343.1 735.9L1353.2 696.5ZM1343.1 735.9L1304.9 725.2L1326.6 704.1ZM1688.6 866.7L1723.3 887.4L1689 907.3ZM1244.1 760.5L1277.4 777.8L1244.4 796.1Z"/>
<path fill="#a30000" d="M696 776.3L729.7 796.5L695.8 816.5ZM593.1 840.5L593.6 799.3L627.7 817.8ZM1018.6 984L1018.8 941.9L1051.4 963.2ZM1517.2 884.2L1551.1 864.4L1551.7 905.3ZM1447.9 841.6L1482.6 863.1L1449 882.7ZM1317 1005.5L1350.1 984.8L1350.6 1026.4ZM557.8 824.5L558 869.4L521.4 847.7ZM357.9 475.4L365.8 443.5L393.6 459.5ZM375 576.9L414.5 599.6L374.3 620.6ZM418.5 558.5L375 576.9L381.1 536ZM219.8 711.2L219.8 666.9L258.3 688.6ZM863.4 832.6L894.5 808.3L894.4 852.4ZM862.1 875.2L863.4 832.6L894.4 852.4ZM829.2 897.3L827.8 939.5L795.9 918.7ZM759.7 1023L725.9 1042.5L727.7 1001.3ZM369.6 891.6L332 868.9L370 846.6ZM257 823.5L219.4 800.9L257.4 778.3ZM1019.1 899.8L1018.8 941.9L986.6 919.7ZM1019.1 899.8L1019.8 858.3L1052.2 879.1ZM1827.4 948.9L1862 969.2L1827.6 989.5ZM1548.8 742.2L1546.7 701.1L1582 722.2ZM1615.8 702.8L1617.2 743.3L1582 722.2ZM1283.4 984.6L1282.8 942.9L1316.4 963.9ZM1117.4 1047.1L1084.2 1026.1L1117.3 1005.4ZM234.8 447.5L220.1 417.1L251.2 419.9ZM598.3 916.2L630.9 937.2L592.6 951.8ZM560.6 915.5L558 869.4L593.5 880.3ZM456.2 460.6L486.3 438.7L486.2 472.4ZM340.5 418.4L371.4 416.2L365.8 443.5ZM384 392.3L371.4 416.2L354 392.3ZM335.9 597.1L297.5 576.1L335.8 551.7ZM375 576.9L335.9 597.1L335.8 551.7ZM297.5 576.1L335.9 597.1L297.4 620.7ZM883.3 734.8L913.2 748.9L891.1 770.4ZM894.5 808.3L923.6 786.7L924.4 828.3ZM628.2 857.7L593.1 840.5L627.7 817.8ZM695.4 979.8L660.2 998.1L663 958.5ZM886.9 1067.8L855.6 1046.4L888.6 1025.4ZM219.4 800.9L181.5 823.4L181.7 778.3ZM1018.4 1026L985.9 1004.9L1018.6 984ZM922.4 961.5L923.4 918.1L954.5 940.5ZM1051.6 921.2L1019.1 899.8L1052.2 879.1ZM1215.9 901.1L1216.5 942.9L1183.1 922.5ZM1149.5 901.6L1116.8 921.8L1116.1 879.7ZM1827.7 628.2L1827.2 667.7L1791.9 648.2ZM1618.3 784.1L1584.3 803.8L1583.5 763.1ZM1618.3 784.1L1652.3 764.6L1653.2 805.1ZM1315.7 922.1L1348.5 901.5L1349.4 943.2ZM1450.6 965.2L1484.8 986.3L1451.2 1006.5ZM1484.1 945.1L1484.8 986.3L1450.6 965.2ZM1449.8 923.9L1415.6 902.5L1449 882.7ZM1553.3 1028.2L1553.7 1069.2L1519.5 1048.5ZM446.7 711.7L483.7 735.3L445.8 757.1ZM483.7 735.3L522.1 714.6L521.7 758.4ZM515.1 448.6L486.3 438.7L505.2 413.6ZM515.1 448.6L514.6 483.4L486.2 472.4ZM429 421L398.8 424.7L409.2 393.7ZM425.4 448.7L424.4 481.7L393.6 459.5ZM858.9 754.3L853.5 719.8L883.3 734.8ZM855.6 1046.4L824.4 1024.5L857.4 1003.7ZM370.7 756L332.9 778.4L333.5 732.9ZM143.9 800.7L143.9 755.4L181.7 778.3ZM1184 1088.8L1183.9 1047.2L1217.3 1067.7ZM695.5 605.7L719.3 628.5L688.9 638.1ZM645.4 511.2L633 539L612.9 521ZM663.1 531.1L633 539L645.4 511.2ZM1577.8 559.8L1546.3 580.3L1534.1 543.2ZM527.4 625.9L532.7 582.3L565.3 608.8ZM596.7 716.4L559.9 695.2L596 676.7ZM1479.5 506.9L1478 470.8L1505.8 485.5ZM892.9 896.2L894.4 852.4L924.3 873.9ZM696.8 856.6L663.9 876.5L662 836.7ZM791.2 1045.1L757.8 1064.8L759.7 1023ZM1056.4 800.9L1084.6 815.7L1053.2 837ZM1865.5 487L1865.6 527.6L1831.2 511.3ZM1758.5 552.1L1721.1 570.5L1723.4 532.8ZM1761.3 514.4L1758.5 552.1L1723.4 532.8ZM1546.3 580.3L1506.1 569.1L1534.1 543.2ZM1468.6 567.4L1438.2 557L1458.7 532.5ZM1631.5 460.1L1614.6 432.3L1644.9 426.4ZM293.7 1072.9L256 1049.9L293.6 1027.4ZM256.3 914L293.8 936.6L256.1 959.3ZM256.1 959.3L293.8 936.6L293.6 982ZM1848.1 418.6L1865.1 450.5L1831.2 443.9ZM1797.3 490.6L1764.1 477.5L1797.6 453.5ZM1756.9 590.2L1792.4 609L1756.3 628.7ZM1546.2 623.3L1516.3 604.2L1546.3 580.3ZM1415.6 902.5L1381.5 881.1L1414.6 861ZM1282 901.1L1314.6 880.4L1315.7 922.1ZM1510.9 680.1L1479.5 702.7L1474 662.3ZM1514.1 721.7L1510.9 680.1L1546.7 701.1ZM1445 594.3L1458.7 628.9L1420 620.2ZM1334.3 668.1L1304.6 687.4L1304.1 656.8ZM1411.9 777.6L1445.4 760.5L1446.6 800.7ZM1879.9 417.7L1865.1 450.5L1848.1 418.6ZM1764.1 477.5L1730.7 460.3L1763.8 445.9ZM1304.6 687.4L1304.9 725.2L1277.8 708.6ZM1546.2 623.3L1543.1 660.5L1504.3 639.4ZM1543.1 660.5L1510.9 680.1L1504.3 639.4ZM1413.4 819.4L1447.9 841.6L1414.6 861ZM1447.9 841.6L1413.4 819.4L1446.6 800.7ZM1380.4 839.6L1413.4 819.4L1414.6 861ZM1381.5 881.1L1380.4 839.6L1414.6 861ZM1689 907.3L1654.8 927.2L1654.3 886.5ZM1689.4 948L1723.7 928L1724 968.7ZM1688.6 866.7L1654.3 886.5L1653.8 845.8ZM1277.4 777.8L1311.8 797.9L1278.4 817.6ZM1217.6 742.4L1244.1 760.5L1211.2 777.6ZM1344.9 776.6L1379.1 798L1346.2 818.3ZM1343.1 735.9L1344.9 776.6L1310.5 758.4Z"/>
<path fill="#9e0000" d="M1516.4 843.4L1481.6 822.3L1515.6 802.7ZM1482.6 863.1L1481.6 822.3L1516.4 843.4ZM1317.4 1047.2L1317 1005.5L1350.6 1026.4ZM602.1 595.5L596.9 635.1L565.3 608.8ZM280.6 420.8L294 392.3L310.1 420.4ZM280.6 420.8L251.2 419.9L264 392.3ZM829.2 897.3L796.8 877.1L830.2 855.4ZM445.1 936.8L484 914.7L482.8 959.1ZM986.9 876.9L955.3 854.2L987.7 834.1ZM1549.6 782.9L1548.8 742.2L1583.5 763.1ZM1791.8 727.3L1826.9 747.3L1791.9 767.3ZM1826.9 747.3L1826.9 787.4L1791.9 767.3ZM1756.8 747L1756.5 707.2L1791.8 727.3ZM1517.2 884.2L1482.6 863.1L1516.4 843.4ZM1215 859L1182.4 881.1L1181.5 840.3ZM211.6 502.1L252.2 516.1L215.6 538.4ZM596.9 635.1L561.3 652.5L565.3 608.8ZM294 392.3L324 392.3L310.1 420.4ZM180.8 644.1L143 665.2L141.6 620.4ZM762.6 939.5L761.4 981.2L729.2 960ZM730 836.7L729.7 796.5L763.6 816.5ZM797.1 836.1L830.4 814.2L830.2 855.4ZM594.8 757.7L593.6 799.3L558.5 780.5ZM633.2 696.8L630.1 660.4L671.2 675.4ZM1051.3 1005.2L1018.6 984L1051.4 963.2ZM1052.2 879.1L1053.2 837L1084.3 856.9ZM1019.8 858.3L1053.2 837L1052.2 879.1ZM1183.8 1005.6L1183.5 964L1216.9 984.6ZM1861.8 888.2L1861.9 928.7L1827.2 908.4ZM671.2 675.4L709.2 662.3L702.1 696.6ZM1584.3 803.8L1619.1 824.8L1585 844.6ZM1282.8 942.9L1315.7 922.1L1316.4 963.9ZM1552.8 987.2L1519 1007.4L1518.5 966.2ZM1283.8 1026.2L1283.4 984.6L1317 1005.5ZM126.5 418.8L144 392.3L155.3 421ZM564.1 516.7L545.6 547.7L523.6 522.1ZM179 600.3L219.4 623.3L180.8 644.1ZM894.5 808.3L862.1 791.3L891.1 770.4ZM662 836.7L628.2 857.7L627.7 817.8ZM794.7 960.6L762.6 939.5L795.9 918.7ZM696.8 856.6L662 836.7L695.8 816.5ZM630.1 736.7L594.8 757.7L596.7 716.4ZM665.7 715.2L630.1 736.7L633.2 696.8ZM623.3 1096.3L589.1 1073.4L624 1055.7ZM295.5 755.6L294.9 800.9L257.4 778.3ZM181.4 868.8L218.9 891.4L181.2 914.1ZM181.5 823.4L181.4 868.8L143.8 846ZM953.9 983.3L953.1 1025.8L921.3 1004.4ZM1216.5 942.9L1215.9 901.1L1249.3 922ZM1793 969.1L1793.2 1009.8L1758.6 989.3ZM1656 1049.8L1690.5 1070.3L1656.3 1090.8ZM1862.2 687L1827.2 667.7L1862.7 647.1ZM883.3 734.8L853.5 719.8L875.3 701.6ZM719.3 628.5L709.2 662.3L688.9 638.1ZM1514.1 721.7L1548.8 742.2L1514.7 762.1ZM1384.4 1047.4L1383.9 1005.9L1417.8 1026.8ZM1553.3 1028.2L1519 1007.4L1552.8 987.2ZM220.1 417.1L234 392.3L251.2 419.9ZM204 392.3L220.1 417.1L185.9 416.6ZM244.5 480.5L267.4 452.7L282.8 488.9ZM371.6 710.6L370.7 756L333.5 732.9ZM451.9 621.1L412 643.5L414.5 599.6ZM412 643.5L451.9 621.1L448.7 666.3ZM483.4 780.1L483.7 735.3L521.7 758.4ZM1538.4 501.6L1511.2 517.3L1505.8 485.5ZM1538.4 501.6L1531.7 467L1565 483.3ZM258.6 600.8L217.1 581L254.9 558.8ZM858.9 754.3L862.1 791.3L829.5 774ZM368.3 1027.5L331 1050.1L331.1 1004.6ZM589.1 1073.4L589.9 1032.1L624 1055.7ZM693.3 1020.2L725.9 1042.5L691.8 1060.9ZM697.8 735.9L733.2 717L730.5 756.3ZM822.4 1067L824.4 1024.5L855.6 1046.4ZM181.5 823.4L143.9 800.7L181.7 778.3ZM1115.8 768.2L1082.7 776.4L1095.9 745.2ZM1115.8 768.2L1144.1 789L1112.3 799.5ZM1115.4 837L1146.9 821L1148.4 860.3ZM1146.9 821L1115.4 837L1112.3 799.5ZM1149.9 759.5L1128 740.8L1159.9 733.8ZM1144.1 789L1149.9 759.5L1176.1 775.8ZM1149.9 759.5L1115.8 768.2L1128 740.8ZM1084.2 900.1L1116.8 921.8L1084.2 942.4ZM1051.6 921.2L1084.2 900.1L1084.2 942.4ZM1249.9 963.7L1250.3 1005.4L1216.9 984.6ZM1283.4 984.6L1250.3 1005.4L1249.9 963.7ZM1759.2 1070.6L1724.6 1050.2L1758.9 1029.9ZM1723.4 532.8L1685.2 549.9L1688.8 512.7ZM827.3 737.6L858.9 754.3L829.5 774ZM1577.8 559.8L1579.7 601.6L1546.3 580.3ZM1648.6 603.8L1614.5 622L1613 580.6ZM1614.5 622L1579.7 601.6L1613 580.6ZM1580 681.6L1615.8 702.8L1582 722.2ZM1146.9 821L1180.3 804.2L1181.5 840.3ZM1351 1067.9L1317.6 1088.8L1317.4 1047.2ZM1552.3 946.2L1586.2 926.3L1586.7 967.2ZM1655.6 1008.9L1655.2 968L1689.8 988.7ZM177.3 556.4L140 575.4L138.2 530.4ZM457.7 577.6L451.9 621.1L414.5 599.6ZM451.9 621.1L457.7 577.6L493 598.9ZM451.9 621.1L487.7 644.5L448.7 666.3ZM559.9 695.2L559.7 737.3L522.1 714.6ZM1695.2 475.9L1665.7 452.3L1699.7 443.7ZM737.4 681.9L709.2 662.3L742.5 649.6ZM737.4 681.9L733.2 717L702.1 696.6ZM822.4 1067L791.2 1045.1L824.4 1024.5ZM824.4 1024.5L791.2 1045.1L793.1 1002.8ZM791.2 1045.1L788.9 1087.5L757.8 1064.8ZM256.3 914L218.7 936.8L218.9 891.4ZM1865.6 527.6L1829.9 550.1L1831.2 511.3ZM1794.9 392.3L1785.2 420.7L1764.9 392.3ZM1794.9 392.3L1814.1 419.3L1785.2 420.7ZM1685.2 549.9L1647.6 564.2L1650.3 526.4ZM1684 587.5L1647.6 564.2L1685.2 549.9ZM1619.7 865.6L1585.7 885.4L1585 844.6ZM998.3 742.8L1030.9 746.3L1010.8 768.3ZM405.1 1050L441.7 1073.1L404.9 1096ZM181.1 959.6L143.6 936.9L181.2 914.1ZM331.7 914L293.8 936.6L294.1 891.4ZM1761.3 514.4L1797.3 490.6L1795.4 530.8ZM1516.3 604.2L1506.1 569.1L1546.3 580.3ZM1217.6 742.4L1211.2 777.6L1186.4 750.9ZM1347.4 859.8L1314.6 880.4L1313.2 838.8ZM1378.4 715.9L1373.5 674.2L1407.2 690.8ZM1724 968.7L1758.3 948.6L1758.6 989.3ZM1720.6 647.4L1684.6 626.2L1720.3 608.6ZM1720.6 647.4L1685.4 665.7L1684.6 626.2ZM1624.6 496.4L1631.5 460.1L1659.2 486.7ZM1624.6 496.4L1592.5 504.5L1597.4 467.5ZM1611.7 539L1624.6 496.4L1650.3 526.4ZM1213.7 816L1244.4 796.1L1246.6 837.9ZM1689.4 948L1724 968.7L1689.8 988.7ZM1654.8 927.2L1655.2 968L1620.7 947.2ZM1654.8 927.2L1689 907.3L1689.4 948ZM1724 968.7L1723.7 928L1758.3 948.6ZM1244.1 760.5L1275.5 743L1277.4 777.8ZM1344.9 776.6L1311.8 797.9L1310.5 758.4ZM1344.9 776.6L1343.1 735.9L1377.6 756.3Z"/>
<path fill="#990000" d="M1549.6 782.9L1550.4 823.7L1515.6 802.7ZM1550.4 823.7L1516.4 843.4L1515.6 802.7ZM144 392.3L174 392.3L155.3 421ZM407.8 869.4L445.7 892.2L407.4 914.3ZM1621.6 1028.9L1587.6 1049.2L1587.2 1008.2ZM215.6 538.4L252.2 516.1L254.9 558.8ZM219.8 711.2L219.6 755.9L181.7 733.2ZM662 836.7L661.8 796.5L695.8 816.5ZM661.8 796.5L662.9 755.9L696 776.3ZM219.6 755.9L219.4 800.9L181.7 778.3ZM1018.8 941.9L986.3 962.4L986.6 919.7ZM1583.5 763.1L1548.8 742.2L1582 722.2ZM1826.9 787.4L1826.9 747.3L1861.8 767.2ZM1757.1 787L1721.9 766.4L1756.8 747ZM1584.3 803.8L1549.6 782.9L1583.5 763.1ZM1414.6 861L1447.9 841.6L1449 882.7ZM1447.9 841.6L1446.6 800.7L1481.6 822.3ZM1283.8 1026.2L1317 1005.5L1317.4 1047.2ZM1283.8 1026.2L1284.1 1067.7L1250.6 1047.1ZM1284.1 1067.7L1250.7 1088.7L1250.6 1047.1ZM185.9 416.6L171.8 448.4L155.3 421ZM521.2 802.8L521.7 758.4L558.5 780.5ZM557.8 824.5L521.2 802.8L558.5 780.5ZM219.8 666.9L219.8 711.2L181.4 688.5ZM143.6 710.3L143 665.2L181.4 688.5ZM696.8 938.7L730.1 918.6L729.2 960ZM695.4 979.8L696.8 938.7L729.2 960ZM918.8 1089.2L886.9 1067.8L920.1 1046.9ZM729.7 796.5L763.7 776.2L763.6 816.5ZM633.2 696.8L596.7 716.4L596 676.7ZM725.9 1042.5L724.2 1084L691.8 1060.9ZM725.9 1042.5L757.8 1064.8L724.2 1084ZM332 868.9L332.4 823.7L370 846.6ZM332.4 823.7L332 868.9L294.5 846.1ZM256.6 868.7L218.9 891.4L219.1 846.1ZM256.6 868.7L257 823.5L294.5 846.1ZM1019.8 858.3L986.9 876.9L987.7 834.1ZM1021.3 820.9L1019.8 858.3L987.7 834.1ZM1182.4 881.1L1148.4 860.3L1181.5 840.3ZM1862.2 687L1896.9 706.5L1861.9 727ZM1827 707.4L1862.2 687L1861.9 727ZM1827 707.4L1791.8 727.3L1791.8 687.6ZM1481.6 822.3L1480.7 781.9L1515.6 802.7ZM1792.1 807.4L1826.9 787.4L1827 827.6ZM1721.9 766.4L1687.4 785.7L1686.7 745.4ZM1517.8 925.2L1517.2 884.2L1551.7 905.3ZM1552.3 946.2L1517.8 925.2L1551.7 905.3ZM1417.8 1026.8L1451.7 1047.9L1418.2 1068.2ZM408 779.2L408.6 733.8L445.8 757.1ZM445.7 892.2L445.9 847.5L484.2 870.3ZM457.2 497.2L490.5 512.1L460.3 537.4ZM574.1 571.2L545.6 547.7L586.3 538.5ZM357.9 475.4L389.7 496.2L351.8 511.1ZM389.7 496.2L357.9 475.4L393.6 459.5ZM219.8 666.9L219.4 623.3L258.6 644.4ZM923.6 786.7L943.4 756.7L956.9 784.2ZM978.5 764.3L990.2 797.3L956.9 784.2ZM862.1 791.3L894.5 808.3L863.4 832.6ZM628.2 857.7L631.3 896.5L593.5 880.3ZM730.3 877.4L696.8 856.6L730 836.7ZM331.3 959.2L331.1 1004.6L293.6 982ZM764.8 736.8L766.4 701.2L796.4 719.9ZM830.4 814.2L797.1 795.5L829.5 774ZM665.7 715.2L671.2 675.4L702.1 696.6ZM218.7 936.8L181.1 959.6L181.2 914.1ZM294.9 800.9L332.4 823.7L294.5 846.1ZM257 823.5L294.9 800.9L294.5 846.1ZM953.1 1025.8L985.9 1004.9L985.3 1047.1ZM922.4 961.5L953.9 983.3L921.3 1004.4ZM1019.1 899.8L1051.6 921.2L1018.8 941.9ZM1018.8 941.9L1051.6 921.2L1051.4 963.2ZM1183.5 964L1216.5 942.9L1216.9 984.6ZM1084.3 984.3L1051.3 1005.2L1051.4 963.2ZM1793.7 1091.4L1793.4 1050.6L1828 1070.8ZM1793.2 1009.8L1793.4 1050.6L1758.9 1029.9ZM1827.2 667.7L1827.7 628.2L1862.7 647.1ZM1389.2 570.9L1408.2 548.5L1418.3 580.3ZM663.7 610.2L658.6 643.1L629.9 620.6ZM796.3 686.5L768.9 668.3L797.5 655.4ZM913.2 748.9L903.8 715.2L934.2 727.1ZM768.9 668.3L772.3 637.9L797.5 655.4ZM1514.1 721.7L1546.7 701.1L1548.8 742.2ZM1615.8 702.8L1650.7 684.1L1651.3 724.2ZM1248.3 880.1L1215.9 901.1L1215 859ZM1246.6 837.9L1248.3 880.1L1215 859ZM1383.9 1005.9L1384.4 1047.4L1350.6 1026.4ZM1417.2 985.4L1383.9 1005.9L1383.3 964.3ZM1449.8 923.9L1416.5 943.9L1415.6 902.5ZM296.2 710.4L258.3 688.6L296.9 665.4ZM334.4 687.5L296.2 710.4L296.9 665.4ZM371.6 710.6L334.4 687.5L372.9 665.3ZM408 779.2L445.7 802.3L408 824.5ZM660.2 998.1L626.9 975.8L663 958.5ZM1531.7 467L1538.4 501.6L1505.8 485.5ZM1676.5 420.8L1644.9 426.4L1654.3 395.5ZM490.5 512.1L514.6 483.4L523.6 522.1ZM424.4 481.7L456.2 460.6L457.2 497.2ZM217.1 581L219.4 623.3L179 600.3ZM862.1 791.3L858.9 754.3L891.1 770.4ZM922.4 961.5L891.5 939.6L923.4 918.1ZM794.7 960.6L826.2 982L793.1 1002.8ZM730.3 877.4L697.2 897.5L696.8 856.6ZM697.2 897.5L696.8 938.7L664.2 917.5ZM797.1 836.1L763.6 857.1L763.6 816.5ZM763.4 898.1L796.8 877.1L795.9 918.7ZM180.8 1050.4L180.9 1005L218.4 1027.6ZM331.1 1004.6L293.6 1027.4L293.6 982ZM444.1 981.6L405.9 1004.4L406.7 959.2ZM733.2 717L766.4 701.2L764.8 736.8ZM733.2 717L697.8 735.9L702.1 696.6ZM984.7 1089L952.2 1067.9L985.3 1047.1ZM657.5 1078.2L623.3 1096.3L624 1055.7ZM256 1004.6L256.1 959.3L293.6 982ZM294.9 800.9L332.9 778.4L332.4 823.7ZM1056.4 800.9L1053.2 837L1021.3 820.9ZM1115.4 837L1148.4 860.3L1116.1 879.7ZM1690.1 1029.5L1724.6 1050.2L1690.5 1070.3ZM1862.3 1050.6L1862.1 1009.9L1896.7 1030.1ZM1756.3 628.7L1792.4 609L1791.9 648.2ZM1490.8 540.1L1468.6 567.4L1458.7 532.5ZM1480.7 781.9L1445.4 760.5L1479.4 741.7ZM827.3 737.6L796.9 755.9L796.4 719.9ZM796.9 755.9L827.3 737.6L829.5 774ZM695.5 605.7L672.6 581.6L701.4 574.8ZM672.6 581.6L695.5 605.7L663.7 610.2ZM1792.7 928.5L1827.2 908.4L1827.4 948.9ZM1585.7 885.4L1551.1 864.4L1585 844.6ZM1483.4 904L1449.8 923.9L1449 882.7ZM140 575.4L177.3 556.4L179 600.3ZM493 598.9L457.7 577.6L500.1 554.6ZM559.9 695.2L523.4 670.4L561.3 652.5ZM523.4 670.4L559.9 695.2L522.1 714.6ZM1676.5 420.8L1665.7 452.3L1644.9 426.4ZM631.3 896.5L663.9 876.5L664.2 917.5ZM663.9 876.5L697.2 897.5L664.2 917.5ZM663.9 876.5L628.2 857.7L662 836.7ZM628.2 857.7L663.9 876.5L631.3 896.5ZM293.6 1027.4L256 1049.9L256 1004.6ZM331.7 914L369.2 936.7L331.3 959.2ZM658.6 1038L657.5 1078.2L624 1055.7ZM658.6 1038L693.3 1020.2L691.8 1060.9ZM1084.6 815.7L1115.4 837L1084.3 856.9ZM1865.6 527.6L1899.9 546L1864.6 567.5ZM1684 587.5L1684.6 626.2L1648.6 603.8ZM1684.6 626.2L1684 587.5L1720.3 608.6ZM822.8 671.6L848.4 686.8L824.5 703.7ZM1474 662.3L1479.5 702.7L1443.8 685.3ZM723.5 597.4L747.5 618.7L719.3 628.5ZM637 586.6L672.6 581.6L663.7 610.2ZM1758.3 948.6L1792.7 928.5L1793 969.1ZM1180.3 804.2L1213.7 816L1181.5 840.3ZM1213.7 816L1215 859L1181.5 840.3ZM1213.7 816L1246.6 837.9L1215 859ZM1451.7 1047.9L1452.1 1089.3L1418.2 1068.2ZM218.3 1072.9L180.8 1050.4L218.4 1027.6ZM368.1 1073.5L405.1 1050L404.9 1096ZM554.9 1006.1L556.7 961.3L591 991.3ZM556.7 961.3L554.9 1006.1L519.3 982.3ZM480.7 1004.3L479.2 1049.6L442.6 1027.1ZM441.7 1073.1L479.2 1049.6L478.2 1094.9ZM1756.9 590.2L1756.3 628.7L1720.3 608.6ZM1347.4 859.8L1381.5 881.1L1348.5 901.5ZM1479.5 702.7L1510.9 680.1L1514.1 721.7ZM1369.4 593.2L1380.5 624.1L1348.7 615ZM1689.8 988.7L1724 968.7L1724.3 1009.4ZM1758 908L1757.7 867.6L1792.5 888ZM1758.3 948.6L1758 908L1792.7 928.5ZM1756.3 628.7L1720.6 647.4L1720.3 608.6ZM1624.6 496.4L1659.2 486.7L1650.3 526.4ZM966 736.4L943.4 756.7L934.2 727.1ZM553.7 1050.1L554.9 1006.1L589.9 1032.1ZM554.9 1006.1L553.7 1050.1L517.4 1027.3ZM1865.1 450.5L1899.3 469.9L1865.5 487ZM1314.6 880.4L1280.6 859.2L1313.2 838.8ZM1543.1 660.5L1580 681.6L1546.7 701.1ZM1458.7 628.9L1430.3 653.8L1420 620.2ZM1655.2 968L1689.4 948L1689.8 988.7ZM1251.8 695.2L1248 726.3L1222.1 711.2ZM1304.9 725.2L1343.1 735.9L1310.5 758.4ZM1723.3 887.4L1723.7 928L1689 907.3ZM1277.4 777.8L1278.4 817.6L1244.4 796.1ZM1346.2 818.3L1347.4 859.8L1313.2 838.8ZM1275.5 743L1304.9 725.2L1310.5 758.4ZM1277.4 777.8L1275.5 743L1310.5 758.4ZM1248 726.3L1244.1 760.5L1217.6 742.4Z"/>
<path fill="#940000" d="M1586.7 967.2L1621.2 988L1587.2 1008.2ZM1621.9 1069.8L1588 1090.3L1587.6 1049.2ZM289 534L297.5 576.1L254.9 558.8ZM219.6 755.9L219.8 711.2L257.9 733.3ZM258.6 644.4L297.4 620.7L296.9 665.4ZM661.8 796.5L696 776.3L695.8 816.5ZM662.9 755.9L661.8 796.5L628.3 777.3ZM484 914.7L445.1 936.8L445.7 892.2ZM955.3 854.2L986.9 876.9L954.9 897.4ZM1018.8 941.9L1018.6 984L986.3 962.4ZM1826.9 747.3L1861.9 727L1861.8 767.2ZM1791.8 727.3L1756.5 707.2L1791.8 687.6ZM1652.3 764.6L1651.3 724.2L1686.7 745.4ZM1551.1 864.4L1517.2 884.2L1516.4 843.4ZM1482.6 863.1L1447.9 841.6L1481.6 822.3ZM1383.3 964.3L1349.4 943.2L1382.5 922.7ZM1350.1 984.8L1317 1005.5L1316.4 963.9ZM1552.8 987.2L1586.7 967.2L1587.2 1008.2ZM1552.8 987.2L1552.3 946.2L1586.7 967.2ZM1656 1049.8L1621.9 1069.8L1621.6 1028.9ZM1117.3 1088.8L1117.4 1047.1L1150.6 1067.8ZM561.3 652.5L596.9 635.1L596 676.7ZM448.7 666.3L446.7 711.7L410 688.4ZM521.2 802.8L557.8 824.5L521.4 847.7ZM483.4 825.2L521.4 847.7L484.2 870.3ZM340.5 418.4L324 392.3L354 392.3ZM381.1 536L375 576.9L335.8 551.7ZM418.5 558.5L422.6 519.3L460.3 537.4ZM143 665.2L180.8 644.1L181.4 688.5ZM990.2 797.3L1021.3 820.9L987.7 834.1ZM730.1 918.6L762.6 939.5L729.2 960ZM863.4 832.6L862.1 875.2L830.2 855.4ZM696.8 938.7L663 958.5L664.2 917.5ZM763.7 776.2L729.7 796.5L730.5 756.3ZM764.8 736.8L763.7 776.2L730.5 756.3ZM1053.2 837L1019.8 858.3L1021.3 820.9ZM1183.5 964L1150.4 984.7L1150.1 943.2ZM1861.9 928.7L1861.8 888.2L1896.5 908.4ZM1861.9 928.7L1862 969.2L1827.4 948.9ZM1826.9 747.3L1827 707.4L1861.9 727ZM1446.6 800.7L1480.7 781.9L1481.6 822.3ZM1514.7 762.1L1480.7 781.9L1479.4 741.7ZM1792.3 847.6L1827 827.6L1827.1 868ZM1792.1 807.4L1792.3 847.6L1757.4 827.2ZM1687.4 785.7L1721.9 766.4L1722.4 806.6ZM1653.8 845.8L1619.1 824.8L1653.2 805.1ZM1617.2 743.3L1615.8 702.8L1651.3 724.2ZM1617.2 743.3L1583.5 763.1L1582 722.2ZM1315.7 922.1L1349.4 943.2L1316.4 963.9ZM1417.2 985.4L1450.6 965.2L1451.2 1006.5ZM1283.4 984.6L1249.9 963.7L1282.8 942.9ZM1250.7 1088.7L1217.3 1067.7L1250.6 1047.1ZM1117.3 1088.8L1084.1 1067.8L1117.4 1047.1ZM1084.1 1067.8L1084.2 1026.1L1117.4 1047.1ZM234.8 447.5L244.5 480.5L206.3 470.3ZM295.5 755.6L257.4 778.3L257.9 733.3ZM412 643.5L372.9 665.3L374.3 620.6ZM445.9 847.5L483.4 825.2L484.2 870.3ZM663 958.5L630.9 937.2L664.2 917.5ZM631.3 896.5L630.9 937.2L598.3 916.2ZM522.9 893L560.6 915.5L522.2 937ZM558 869.4L560.6 915.5L522.9 893ZM519.3 982.3L480.7 1004.3L482.8 959.1ZM482.1 406.1L486.3 438.7L457.6 429.3ZM490.5 512.1L500.1 554.6L460.3 537.4ZM335.9 597.1L335.4 642.2L297.4 620.7ZM143.9 755.4L181.7 733.2L181.7 778.3ZM143.9 755.4L143.6 710.3L181.7 733.2ZM923.6 786.7L894.5 808.3L891.1 770.4ZM830.4 814.2L862.1 791.3L863.4 832.6ZM857.4 1003.7L859 961L890.1 982.7ZM730 836.7L696.8 856.6L695.8 816.5ZM797.1 836.1L797.1 795.5L830.4 814.2ZM630.1 736.7L662.9 755.9L628.3 777.3ZM630.1 736.7L665.7 715.2L662.9 755.9ZM697.8 735.9L665.7 715.2L702.1 696.6ZM143.7 891.5L181.4 868.8L181.2 914.1ZM181.4 868.8L181.5 823.4L219.1 846.1ZM953.1 1025.8L952.2 1067.9L920.1 1046.9ZM1095.9 745.2L1082.7 776.4L1063.4 747.1ZM1148.4 860.3L1146.9 821L1181.5 840.3ZM1216.5 942.9L1249.9 963.7L1216.9 984.6ZM1149.5 901.6L1183.1 922.5L1150.1 943.2ZM1148.4 860.3L1149.5 901.6L1116.1 879.7ZM1084.3 984.3L1117.2 963.7L1117.3 1005.4ZM1084.2 1026.1L1084.3 984.3L1117.3 1005.4ZM1084.2 942.4L1084.3 984.3L1051.4 963.2ZM1117.2 963.7L1084.3 984.3L1084.2 942.4ZM1217.1 1026.2L1183.8 1005.6L1216.9 984.6ZM1217.3 1067.7L1217.1 1026.2L1250.6 1047.1ZM1117.4 1047.1L1150.6 1026.3L1150.6 1067.8ZM1861.7 807.4L1826.9 787.4L1861.8 767.2ZM1827.2 667.7L1827 707.4L1791.8 687.6ZM853.5 719.8L848.4 686.8L875.3 701.6ZM1650.7 684.1L1615.5 662.8L1649.8 643.9ZM1618.3 784.1L1619.1 824.8L1584.3 803.8ZM1618.3 784.1L1617.2 743.3L1652.3 764.6ZM1215.9 901.1L1248.3 880.1L1249.3 922ZM1384.7 1089L1384.4 1047.4L1418.2 1068.2ZM1587.6 1049.2L1553.3 1028.2L1587.2 1008.2ZM1485.3 1027.5L1519 1007.4L1519.5 1048.5ZM1485.3 1027.5L1484.8 986.3L1519 1007.4ZM204 392.3L234 392.3L220.1 417.1ZM258.3 688.6L296.2 710.4L257.9 733.3ZM296.2 710.4L295.5 755.6L257.9 733.3ZM370.7 756L408.6 733.8L408 779.2ZM483.7 735.3L446.7 711.7L484.9 690.1ZM521.7 758.4L559.7 737.3L558.5 780.5ZM483.4 780.1L445.7 802.3L445.8 757.1ZM626.9 975.8L630.9 937.2L663 958.5ZM389.7 496.2L424.4 481.7L422.6 519.3ZM219.4 623.3L217.1 581L258.6 600.8ZM978.5 764.3L1010.8 768.3L990.2 797.3ZM763.6 857.1L730 836.7L763.6 816.5ZM763.6 857.1L763.4 898.1L730.3 877.4ZM180.9 1005L181.1 959.6L218.5 982.2ZM181.1 959.6L180.9 1005L143.5 982.5ZM332 868.9L331.7 914L294.1 891.4ZM693.3 1020.2L660.2 998.1L695.4 979.8ZM733.2 717L764.8 736.8L730.5 756.3ZM822.4 1067L855.6 1046.4L853.5 1089ZM1050.9 1088.9L1018 1067.8L1051.1 1047.1ZM143.9 800.7L181.5 823.4L143.8 846ZM1128 740.8L1115.8 768.2L1095.9 745.2ZM1048.3 770.4L1056.4 800.9L1025 791.4ZM1116.1 879.7L1084.2 900.1L1084.3 856.9ZM1217.1 1026.2L1250.3 1005.4L1250.6 1047.1ZM1150.6 1026.3L1183.9 1047.2L1150.6 1067.8ZM1827.7 1030.1L1862.3 1050.6L1828 1070.8ZM1862.1 1009.9L1862.3 1050.6L1827.7 1030.1ZM1864.6 567.5L1899 586L1863.4 607.3ZM1792.4 609L1827.7 628.2L1791.9 648.2ZM824.5 703.7L827.3 737.6L796.4 719.9ZM747.5 618.7L772.3 637.9L742.5 649.6ZM719.3 628.5L747.5 618.7L742.5 649.6ZM1684.6 626.2L1685.4 665.7L1649.8 643.9ZM1351 1067.9L1317.4 1047.2L1350.6 1026.4ZM1384.4 1047.4L1351 1067.9L1350.6 1026.4ZM1585.7 885.4L1586.2 926.3L1551.7 905.3ZM1655.6 1008.9L1690.1 1029.5L1656 1049.8ZM217.1 581L177.3 556.4L215.6 538.4ZM448.7 666.3L487.7 644.5L484.9 690.1ZM487.7 644.5L451.9 621.1L493 598.9ZM559.9 695.2L561.3 652.5L596 676.7ZM1479.5 506.9L1490.8 540.1L1458.7 532.5ZM860.6 918.1L892.9 896.2L891.5 939.6ZM331 1050.1L368.1 1073.5L331.2 1095.6ZM791.2 1045.1L822.4 1067L788.9 1087.5ZM1831.2 511.3L1829.9 550.1L1795.4 530.8ZM1865.6 527.6L1865.5 487L1900.4 506.1ZM1684 587.5L1721.1 570.5L1720.3 608.6ZM1408.2 548.5L1438.2 557L1418.3 580.3ZM1426.2 526.6L1438.2 557L1408.2 548.5ZM1546.2 623.3L1579.7 601.6L1580.6 642.5ZM1282 901.1L1315.7 922.1L1282.8 942.9ZM1445.4 760.5L1411 735.5L1443.1 720.8ZM1686.1 705.5L1721.5 726.4L1686.7 745.4ZM1654.3 886.5L1619.7 865.6L1653.8 845.8ZM1619.1 824.8L1619.7 865.6L1585 844.6ZM1519.9 1089.8L1485.8 1068.7L1519.5 1048.5ZM1597.4 467.5L1592.5 504.5L1565 483.3ZM293.7 1072.9L293.6 1027.4L331 1050.1ZM554.9 1006.1L517.4 1027.3L519.3 982.3ZM516.1 1072.1L479.2 1049.6L517.4 1027.3ZM479.2 1049.6L516.1 1072.1L478.2 1094.9ZM293.8 936.6L331.3 959.2L293.6 982ZM1896.8 1070.7L1862.5 1091.4L1862.3 1050.6ZM1792.4 609L1828.6 589L1827.7 628.2ZM1827.7 628.2L1828.6 589L1863.4 607.3ZM1727.4 495L1723.4 532.8L1688.8 512.7ZM1314.6 880.4L1347.4 859.8L1348.5 901.5ZM1314.6 880.4L1348.5 901.5L1315.7 922.1ZM1510.9 680.1L1474 662.3L1504.3 639.4ZM1334.3 668.1L1304.1 656.8L1327.1 636.1ZM1411.9 777.6L1411 735.5L1445.4 760.5ZM1756.3 667.8L1756.3 628.7L1791.9 648.2ZM1720.6 647.4L1721 686.8L1685.4 665.7ZM1631.5 460.1L1624.6 496.4L1597.4 467.5ZM1793.6 570L1828.6 589L1792.4 609ZM1793.6 570L1758.5 552.1L1795.4 530.8ZM1829.9 550.1L1793.6 570L1795.4 530.8ZM1828.6 589L1793.6 570L1829.9 550.1ZM1727.4 495L1730.7 460.3L1764.1 477.5ZM1244.4 796.1L1213.7 816L1211.2 777.6ZM1280.6 859.2L1248.3 880.1L1246.6 837.9ZM1377.6 756.3L1378.4 715.9L1411 735.5ZM1411.9 777.6L1377.6 756.3L1411 735.5ZM1278.4 817.6L1280.6 859.2L1246.6 837.9ZM1248 726.3L1217.6 742.4L1222.1 711.2ZM1377.6 756.3L1343.1 735.9L1378.4 715.9ZM1304.9 725.2L1275.5 743L1277.8 708.6ZM1275.5 743L1248 726.3L1277.8 708.6ZM1311.8 797.9L1277.4 777.8L1310.5 758.4ZM1275.5 743L1244.1 760.5L1248 726.3ZM1244.1 760.5L1244.4 796.1L1211.2 777.6Z"/>
<path fill="#8f0000" d="M1550.4 823.7L1551.1 864.4L1516.4 843.4ZM696 776.3L697.8 735.9L730.5 756.3ZM407.8 869.4L370 846.6L408 824.5ZM1514.7 762.1L1549.6 782.9L1515.6 802.7ZM1621.6 1028.9L1621.9 1069.8L1587.6 1049.2ZM574.1 571.2L586.3 538.5L612.1 560.9ZM294 392.3L280.6 420.8L264 392.3ZM257.4 778.3L219.6 755.9L257.9 733.3ZM258.3 688.6L258.6 644.4L296.9 665.4ZM796.8 877.1L829.2 897.3L795.9 918.7ZM593.6 799.3L628.3 777.3L627.7 817.8ZM696 776.3L662.9 755.9L697.8 735.9ZM661.8 796.5L662 836.7L627.7 817.8ZM759.7 1023L761.4 981.2L793.1 1002.8ZM369.6 891.6L407.8 869.4L407.4 914.3ZM219.4 800.9L219.6 755.9L257.4 778.3ZM484 914.7L445.7 892.2L484.2 870.3ZM1861.9 727L1896.7 746.8L1861.8 767.2ZM1757.1 787L1756.8 747L1791.9 767.3ZM1550.4 823.7L1584.3 803.8L1585 844.6ZM1349.4 943.2L1350.1 984.8L1316.4 963.9ZM297.4 620.7L335.4 642.2L296.9 665.4ZM372.9 665.3L335.4 642.2L374.3 620.6ZM483.4 825.2L521.2 802.8L521.4 847.7ZM558 869.4L522.9 893L521.4 847.7ZM321.3 479.8L282.8 488.9L298.5 452.5ZM219.8 666.9L258.6 644.4L258.3 688.6ZM729.7 796.5L730 836.7L695.8 816.5ZM952.2 1067.9L918.8 1089.2L920.1 1046.9ZM256.6 868.7L294.5 846.1L294.1 891.4ZM257 823.5L219.1 846.1L219.4 800.9ZM257 823.5L256.6 868.7L219.1 846.1ZM954.5 940.5L923.4 918.1L954.9 897.4ZM1019.8 858.3L1019.1 899.8L986.9 876.9ZM1117.2 963.7L1150.4 984.7L1117.3 1005.4ZM1827.2 908.4L1861.9 928.7L1827.4 948.9ZM1862 969.2L1861.9 928.7L1896.5 948.9ZM1827 707.4L1826.9 747.3L1791.8 727.3ZM1480.7 781.9L1514.7 762.1L1515.6 802.7ZM1792.3 847.6L1792.1 807.4L1827 827.6ZM1757.1 787L1792.1 807.4L1757.4 827.2ZM1687.4 785.7L1652.3 764.6L1686.7 745.4ZM1317.6 1088.8L1284.1 1067.7L1317.4 1047.2ZM1588 1090.3L1553.7 1069.2L1587.6 1049.2ZM1724.3 1009.4L1758.6 989.3L1758.9 1029.9ZM1084.2 1026.1L1084.1 1067.8L1051.1 1047.1ZM334.4 687.5L335.4 642.2L372.9 665.3ZM412 643.5L448.7 666.3L410 688.4ZM486.2 472.4L490.5 512.1L457.2 497.2ZM219.4 623.3L258.6 600.8L258.6 644.4ZM943.4 756.7L913.2 748.9L934.2 727.1ZM797.1 795.5L797.1 836.1L763.6 816.5ZM797.1 795.5L763.7 776.2L796.9 755.9ZM594.8 757.7L630.1 736.7L628.3 777.3ZM662.9 755.9L665.7 715.2L697.8 735.9ZM888.6 1025.4L855.6 1046.4L857.4 1003.7ZM181.1 959.6L218.7 936.8L218.5 982.2ZM218.9 891.4L181.4 868.8L219.1 846.1ZM219.1 846.1L181.5 823.4L219.4 800.9ZM953.1 1025.8L953.9 983.3L985.9 1004.9ZM952.2 1067.9L953.1 1025.8L985.3 1047.1ZM1018.4 1026L1051.3 1005.2L1051.1 1047.1ZM985.9 1004.9L1018.4 1026L985.3 1047.1ZM1018.4 1026L1018 1067.8L985.3 1047.1ZM922.4 961.5L921.3 1004.4L890.1 982.7ZM1216.5 942.9L1183.5 964L1183.1 922.5ZM1183.1 922.5L1149.5 901.6L1182.4 881.1ZM1149.5 901.6L1148.4 860.3L1182.4 881.1ZM1150.6 1026.3L1117.4 1047.1L1117.3 1005.4ZM1150.4 984.7L1150.6 1026.3L1117.3 1005.4ZM1758.6 989.3L1793.2 1009.8L1758.9 1029.9ZM1793.4 1050.6L1793.2 1009.8L1827.7 1030.1ZM1863.4 607.3L1898 626.1L1862.7 647.1ZM1791.9 648.2L1827.2 667.7L1791.8 687.6ZM772.3 637.9L768.9 668.3L742.5 649.6ZM1191.4 724L1186.4 750.9L1159.9 733.8ZM1827.2 908.4L1792.5 888L1827.1 868ZM1615.5 662.8L1650.7 684.1L1615.8 702.8ZM1619.1 824.8L1618.3 784.1L1653.2 805.1ZM1383.9 1005.9L1350.1 984.8L1383.3 964.3ZM1484.8 986.3L1484.1 945.1L1518.5 966.2ZM1553.3 1028.2L1552.8 987.2L1587.2 1008.2ZM1519 1007.4L1553.3 1028.2L1519.5 1048.5ZM1485.8 1068.7L1485.3 1027.5L1519.5 1048.5ZM1485.3 1027.5L1485.8 1068.7L1451.7 1047.9ZM1690.1 1029.5L1690.5 1070.3L1656 1049.8ZM1690.1 1029.5L1689.8 988.7L1724.3 1009.4ZM204 392.3L185.9 416.6L174 392.3ZM295.5 755.6L296.2 710.4L333.5 732.9ZM370.7 756L371.6 710.6L408.6 733.8ZM371.6 710.6L372.9 665.3L410 688.4ZM483.7 735.3L483.4 780.1L445.8 757.1ZM594.8 757.7L559.7 737.3L596.7 716.4ZM445.9 847.5L445.7 802.3L483.4 825.2ZM543.5 494.4L514.6 483.4L542.8 462.3ZM514.6 483.4L515.1 448.6L542.8 462.3ZM532.7 582.3L493 598.9L500.1 554.6ZM424.4 481.7L389.7 496.2L393.6 459.5ZM858.9 754.3L883.3 734.8L891.1 770.4ZM697.2 897.5L730.3 877.4L730.1 918.6ZM696.8 938.7L697.2 897.5L730.1 918.6ZM763.6 857.1L797.1 836.1L796.8 877.1ZM730.3 877.4L763.4 898.1L730.1 918.6ZM293.6 1027.4L256 1004.6L293.6 982ZM444.1 981.6L480.7 1004.3L442.6 1027.1ZM480.7 1004.3L444.1 981.6L482.8 959.1ZM331.7 914L332 868.9L369.6 891.6ZM331.3 959.2L368.7 981.9L331.1 1004.6ZM143.4 1073.9L180.8 1050.4L180.7 1095.7ZM256.1 959.3L256 1004.6L218.5 982.2ZM332.9 778.4L370.7 756L370.3 801.4ZM332.9 778.4L295.5 755.6L333.5 732.9ZM1082.7 776.4L1056.4 800.9L1048.3 770.4ZM1084.2 900.1L1051.6 921.2L1052.2 879.1ZM1084.2 900.1L1052.2 879.1L1084.3 856.9ZM1183.9 1047.2L1150.6 1026.3L1183.8 1005.6ZM1862 969.2L1862.1 1009.9L1827.6 989.5ZM1861.8 847.8L1861.7 807.4L1896.5 827.5ZM1827 827.6L1861.8 847.8L1827.1 868ZM1785.2 420.7L1797.6 453.5L1763.8 445.9ZM853.5 719.8L827.3 737.6L824.5 703.7ZM1579.7 601.6L1577.8 559.8L1613 580.6ZM1685.4 665.7L1650.7 684.1L1649.8 643.9ZM1580 681.6L1615.5 662.8L1615.8 702.8ZM1577.8 559.8L1611.7 539L1613 580.6ZM1655.6 1008.9L1621.6 1028.9L1621.2 988ZM1655.2 968L1655.6 1008.9L1621.2 988ZM1655.6 1008.9L1689.8 988.7L1690.1 1029.5ZM1655.6 1008.9L1656 1049.8L1621.6 1028.9ZM177.3 556.4L217.1 581L179 600.3ZM532.7 582.3L527.4 625.9L493 598.9ZM561.3 652.5L527.4 625.9L565.3 608.8ZM487.7 644.5L527.4 625.9L523.4 670.4ZM1490.8 540.1L1479.5 506.9L1511.2 517.3ZM1659.2 486.7L1695.2 475.9L1688.8 512.7ZM860.6 918.1L891.5 939.6L859 961ZM862.1 875.2L860.6 918.1L829.2 897.3ZM368.3 1027.5L368.1 1073.5L331 1050.1ZM369.2 936.7L369.6 891.6L407.4 914.3ZM369.2 936.7L331.7 914L369.6 891.6ZM589.9 1032.1L625.1 1015.5L624 1055.7ZM517.4 1027.3L480.7 1004.3L519.3 982.3ZM625.1 1015.5L658.6 1038L624 1055.7ZM256.6 868.7L256.3 914L218.9 891.4ZM1721.1 570.5L1685.2 549.9L1723.4 532.8ZM1758.5 552.1L1761.3 514.4L1795.4 530.8ZM1506.1 569.1L1468.6 567.4L1490.8 540.1ZM1248.3 880.1L1282 901.1L1249.3 922ZM1479.5 702.7L1514.1 721.7L1479.4 741.7ZM637 586.6L602.1 595.5L612.1 560.9ZM1651.3 724.2L1686.1 705.5L1686.7 745.4ZM1213.7 816L1180.3 804.2L1211.2 777.6ZM1485.8 1068.7L1452.1 1089.3L1451.7 1047.9ZM1665.7 452.3L1631.5 460.1L1644.9 426.4ZM256 1049.9L218.3 1072.9L218.4 1027.6ZM180.8 1050.4L218.3 1072.9L180.7 1095.7ZM405.1 1050L368.1 1073.5L368.3 1027.5ZM441.7 1073.1L405.1 1050L442.6 1027.1ZM517.4 1027.3L479.2 1049.6L480.7 1004.3ZM293.8 936.6L331.7 914L331.3 959.2ZM1828.6 589L1864.6 567.5L1863.4 607.3ZM1721.1 570.5L1756.9 590.2L1720.3 608.6ZM1756.9 590.2L1721.1 570.5L1758.5 552.1ZM1695.2 475.9L1727.4 495L1688.8 512.7ZM1348.5 901.5L1381.5 881.1L1382.5 922.7ZM1721 686.8L1756.3 667.8L1756.5 707.2ZM256 1094.8L218.3 1072.9L256 1049.9ZM293.7 1072.9L256 1094.8L256 1049.9ZM553.7 1050.1L516.1 1072.1L517.4 1027.3ZM553.7 1050.1L589.9 1032.1L589.1 1073.4ZM1730.7 460.3L1731.9 428.4L1763.8 445.9ZM1730.7 460.3L1727.4 495L1695.2 475.9ZM552.9 1093.6L553.7 1050.1L589.1 1073.4ZM553.7 1050.1L552.9 1093.6L516.1 1072.1ZM1380.4 839.6L1381.5 881.1L1347.4 859.8ZM1654.8 927.2L1620.2 906.3L1654.3 886.5ZM1346.2 818.3L1380.4 839.6L1347.4 859.8ZM1688.6 866.7L1689 907.3L1654.3 886.5ZM1379.1 798L1344.9 776.6L1377.6 756.3ZM1311.8 797.9L1344.9 776.6L1346.2 818.3Z"/>
<path fill="#8a0000" d="M1551.1 864.4L1550.4 823.7L1585 844.6ZM1621.2 988L1621.6 1028.9L1587.2 1008.2ZM522.2 937L519.3 982.3L482.8 959.1ZM521.4 847.7L522.9 893L484.2 870.3ZM219.8 711.2L181.7 733.2L181.4 688.5ZM219.8 711.2L258.3 688.6L257.9 733.3ZM181.7 733.2L219.6 755.9L181.7 778.3ZM761.4 981.2L727.7 1001.3L729.2 960ZM830.4 814.2L863.4 832.6L830.2 855.4ZM729.7 796.5L696 776.3L730.5 756.3ZM445.7 892.2L445.1 936.8L407.4 914.3ZM484 914.7L522.2 937L482.8 959.1ZM986.3 962.4L954.5 940.5L986.6 919.7ZM1721.9 766.4L1757.1 787L1722.4 806.6ZM1621.9 1069.8L1656 1049.8L1656.3 1090.8ZM1284.1 1067.7L1283.8 1026.2L1317.4 1047.2ZM446.7 711.7L448.7 666.3L484.9 690.1ZM324 392.3L340.5 418.4L310.1 420.4ZM422.6 519.3L457.2 497.2L460.3 537.4ZM258.6 644.4L258.6 600.8L297.4 620.7ZM258.6 600.8L297.5 576.1L297.4 620.7ZM181.7 733.2L143.6 710.3L181.4 688.5ZM955.3 854.2L955.8 814.3L987.7 834.1ZM955.8 814.3L990.2 797.3L987.7 834.1ZM862.1 875.2L829.2 897.3L830.2 855.4ZM696.8 938.7L695.4 979.8L663 958.5ZM796.9 755.9L764.8 736.8L796.4 719.9ZM796.8 877.1L797.1 836.1L830.2 855.4ZM763.7 776.2L764.8 736.8L796.9 755.9ZM1183.1 922.5L1183.5 964L1150.1 943.2ZM1116.8 921.8L1117.2 963.7L1084.2 942.4ZM1826.9 787.4L1792.1 807.4L1791.9 767.3ZM1792.1 807.4L1757.1 787L1791.9 767.3ZM1652.3 764.6L1687.4 785.7L1653.2 805.1ZM1721.5 726.4L1721.9 766.4L1686.7 745.4ZM1417.8 1026.8L1417.2 985.4L1451.2 1006.5ZM1317 1005.5L1283.4 984.6L1316.4 963.9ZM1051.3 1005.2L1084.2 1026.1L1051.1 1047.1ZM372.9 665.3L412 643.5L410 688.4ZM483.4 825.2L483.4 780.1L521.2 802.8ZM445.9 847.5L445.7 892.2L407.8 869.4ZM445.9 847.5L407.8 869.4L408 824.5ZM630.9 937.2L631.3 896.5L664.2 917.5ZM335.4 642.2L335.9 597.1L374.3 620.6ZM335.9 597.1L375 576.9L374.3 620.6ZM179 600.3L180.8 644.1L141.6 620.4ZM862.1 791.3L830.4 814.2L829.5 774ZM593.1 840.5L628.2 857.7L593.5 880.3ZM797.1 795.5L796.9 755.9L829.5 774ZM633.2 696.8L630.1 736.7L596.7 716.4ZM218.9 891.4L218.7 936.8L181.2 914.1ZM294.9 800.9L257 823.5L257.4 778.3ZM143.8 846L181.4 868.8L143.7 891.5ZM921.3 1004.4L953.1 1025.8L920.1 1046.9ZM1018 1067.8L1018.4 1026L1051.1 1047.1ZM1051.6 921.2L1084.2 942.4L1051.4 963.2ZM1249.9 963.7L1216.5 942.9L1249.3 922ZM1116.8 921.8L1149.5 901.6L1150.1 943.2ZM1084.3 984.3L1084.2 1026.1L1051.3 1005.2ZM1183.8 1005.6L1150.6 1026.3L1150.4 984.7ZM1827.7 1030.1L1793.2 1009.8L1827.6 989.5ZM1793.2 1009.8L1793 969.1L1827.6 989.5ZM1793.4 1050.6L1827.7 1030.1L1828 1070.8ZM1793.4 1050.6L1793.7 1091.4L1759.2 1070.6ZM1793.4 1050.6L1759.2 1070.6L1758.9 1029.9ZM1896.5 787.1L1861.7 807.4L1861.8 767.2ZM1826.9 787.4L1861.7 807.4L1827 827.6ZM1827.7 628.2L1863.4 607.3L1862.7 647.1ZM796.3 686.5L824.5 703.7L796.4 719.9ZM766.4 701.2L796.3 686.5L796.4 719.9ZM1514.1 721.7L1514.7 762.1L1479.4 741.7ZM1688 826.1L1687.4 785.7L1722.4 806.6ZM1384.4 1047.4L1417.8 1026.8L1418.2 1068.2ZM1417.8 1026.8L1383.9 1005.9L1417.2 985.4ZM1484.1 945.1L1517.8 925.2L1518.5 966.2ZM1449.8 923.9L1484.1 945.1L1450.6 965.2ZM1416.5 943.9L1417.2 985.4L1383.3 964.3ZM1416.5 943.9L1450.6 965.2L1417.2 985.4ZM1416.5 943.9L1383.3 964.3L1382.5 922.7ZM1553.7 1069.2L1553.3 1028.2L1587.6 1049.2ZM1586.7 967.2L1620.7 947.2L1621.2 988ZM267.4 452.7L244.5 480.5L234.8 447.5ZM296.2 710.4L334.4 687.5L333.5 732.9ZM370.7 756L408 779.2L370.3 801.4ZM522.1 714.6L483.7 735.3L484.9 690.1ZM445.7 802.3L483.4 780.1L483.4 825.2ZM445.7 802.3L445.9 847.5L408 824.5ZM445.7 802.3L408 779.2L445.8 757.1ZM1650.3 526.4L1659.2 486.7L1688.8 512.7ZM569.8 446.1L571 480.1L542.8 462.3ZM398.8 424.7L425.4 448.7L393.6 459.5ZM826.2 982L859 961L857.4 1003.7ZM763.6 857.1L730.3 877.4L730 836.7ZM763.4 898.1L763.6 857.1L796.8 877.1ZM762.6 939.5L763.4 898.1L795.9 918.7ZM763.4 898.1L762.6 939.5L730.1 918.6ZM180.9 1005L180.8 1050.4L143.5 1028.1ZM256 1004.6L218.4 1027.6L218.5 982.2ZM1084.1 1067.8L1050.9 1088.9L1051.1 1047.1ZM180.8 1050.4L143.4 1073.9L143.5 1028.1ZM218.7 936.8L256.1 959.3L218.5 982.2ZM332.9 778.4L294.9 800.9L295.5 755.6ZM1116.8 921.8L1084.2 900.1L1116.1 879.7ZM1724.9 1091.2L1724.6 1050.2L1759.2 1070.6ZM1724.6 1050.2L1724.9 1091.2L1690.5 1070.3ZM1862.1 1009.9L1862 969.2L1896.6 989.5ZM1861.8 847.8L1861.8 888.2L1827.1 868ZM1861.8 847.8L1896.4 867.9L1861.8 888.2ZM1445.4 760.5L1443.1 720.8L1479.4 741.7ZM1445.4 760.5L1480.7 781.9L1446.6 800.7ZM1792.3 847.6L1757.7 867.6L1757.4 827.2ZM1792.5 888L1757.7 867.6L1792.3 847.6ZM1615.5 662.8L1580 681.6L1580.6 642.5ZM1546.7 701.1L1580 681.6L1582 722.2ZM1351 1067.9L1384.4 1047.4L1384.7 1089ZM1449.8 923.9L1483.4 904L1484.1 945.1ZM1482.6 863.1L1483.4 904L1449 882.7ZM1586.2 926.3L1585.7 885.4L1620.2 906.3ZM1620.7 947.2L1655.2 968L1621.2 988ZM527.4 625.9L487.7 644.5L493 598.9ZM1665.7 452.3L1676.5 420.8L1699.7 443.7ZM697.2 897.5L663.9 876.5L696.8 856.6ZM369.2 936.7L368.7 981.9L331.3 959.2ZM625.1 1015.5L589.9 1032.1L591 991.3ZM625.1 1015.5L626.9 975.8L660.2 998.1ZM766.4 701.2L737.4 681.9L768.9 668.3ZM791.2 1045.1L759.7 1023L793.1 1002.8ZM256.3 914L256.1 959.3L218.7 936.8ZM256.3 914L256.6 868.7L294.1 891.4ZM1115.4 837L1084.6 815.7L1112.3 799.5ZM1829.9 550.1L1865.6 527.6L1864.6 567.5ZM1647.6 564.2L1648.6 603.8L1613 580.6ZM1611.7 539L1647.6 564.2L1613 580.6ZM822.8 671.6L796.3 686.5L797.5 655.4ZM796.3 686.5L822.8 671.6L824.5 703.7ZM1438.2 557L1426.2 526.6L1458.7 532.5ZM1443.1 720.8L1479.5 702.7L1479.4 741.7ZM1397.9 600.8L1389.2 570.9L1418.3 580.3ZM1358 645.8L1327.1 636.1L1348.7 615ZM723.5 597.4L695.5 605.7L701.4 574.8ZM637 586.6L663.7 610.2L629.9 620.6ZM672.6 581.6L650.9 560.2L681.5 552.4ZM650.9 560.2L663.1 531.1L681.5 552.4ZM1758.3 948.6L1793 969.1L1758.6 989.3ZM1757.7 867.6L1722.9 846.9L1757.4 827.2ZM1722.9 846.9L1688 826.1L1722.4 806.6ZM1650.7 684.1L1686.1 705.5L1651.3 724.2ZM1620.2 906.3L1619.7 865.6L1654.3 886.5ZM1585.7 885.4L1619.7 865.6L1620.2 906.3ZM1619.7 865.6L1619.1 824.8L1653.8 845.8ZM1553.7 1069.2L1519.9 1089.8L1519.5 1048.5ZM1631.5 460.1L1665.7 452.3L1659.2 486.7ZM293.7 1072.9L331 1050.1L331.2 1095.6ZM479.2 1049.6L441.7 1073.1L442.6 1027.1ZM143.6 936.9L181.1 959.6L143.5 982.5ZM1761.3 514.4L1727.4 495L1764.1 477.5ZM1304.1 656.8L1304.6 687.4L1279.2 676.8ZM1397.9 600.8L1380.5 624.1L1369.4 593.2ZM1358 645.8L1334.3 668.1L1327.1 636.1ZM1756.3 667.8L1791.9 648.2L1791.8 687.6ZM1756.3 667.8L1720.6 647.4L1756.3 628.7ZM1793.6 570L1756.9 590.2L1758.5 552.1ZM1731.9 428.4L1730.7 460.3L1699.7 443.7ZM1280.6 859.2L1282 901.1L1248.3 880.1ZM1280.6 859.2L1278.4 817.6L1313.2 838.8ZM1654.8 927.2L1689.4 948L1655.2 968ZM1654.8 927.2L1620.7 947.2L1620.2 906.3ZM1723.7 928L1758 908L1758.3 948.6ZM1689 907.3L1723.7 928L1689.4 948ZM1723.3 887.4L1722.9 846.9L1757.7 867.6ZM1688 826.1L1688.6 866.7L1653.8 845.8ZM1413.4 819.4L1379.1 798L1411.9 777.6ZM1380.4 839.6L1379.1 798L1413.4 819.4ZM1346.2 818.3L1379.1 798L1380.4 839.6ZM1278.4 817.6L1311.8 797.9L1313.2 838.8Z"/>
<path fill="#ffff00" d="M-36 360.3L-6 360.3L-21 373.3ZM-6 360.3L24 360.3L9 373.3ZM24 360.3L54 360.3L39 373.3ZM84 360.3L114 360.3L99 373.3ZM144 360.3L174 360.3L159 373.3ZM174 360.3L204 360.3L189 373.3ZM234 360.3L264 360.3L249 373.3ZM264 360.3L294 360.3L279 373.3ZM294 360.3L324 360.3L309 373.3ZM324 360.3L354 360.3L339 373.3ZM411.5 361.8L438.3 364.6L423.6 375.9ZM438.3 364.6L464.7 369L449.4 379.4ZM464.7 369L490.8 375.3L474.8 384.6ZM490.8 375.3L516.2 383.5L499.6 391.5ZM516.2 383.5L540.8 393.5L523.7 400.3ZM564.5 405.5L587.3 419.3L569.3 423.3ZM587.3 419.3L609.2 434.8L590.9 437.5ZM630.1 451.8L650 470L631.4 470.3ZM650 470L668.9 489.5L650.3 488.7ZM668.9 489.5L687.3 510.1L668.4 508.3ZM687.3 510.1L705.7 531.5L686.6 529.2ZM705.7 531.5L724.9 553.1L705.5 550.9ZM815.2 628.8L839.6 644.3L820.4 647.6ZM890 673.2L916.7 685.9L897.6 691.5ZM973.6 705.3L1003.1 711.1L985.8 721.3ZM1003.1 711.1L1033 714.3L1016.6 726ZM1033 714.3L1062.9 715.1L1047.6 728ZM1122.4 709.3L1151.7 702.9L1139.9 719.1ZM1151.7 702.9L1180.5 693.9L1170 711.2ZM1283.4 632.5L1305.2 612.9L1303.1 632.4ZM1305.2 612.9L1325.9 592.5L1324.7 612.1ZM1345.8 571.5L1365 550L1365.2 569.5ZM1419.4 485L1437.7 465L1438.1 483.6ZM1477.6 430.2L1499.6 415.3L1495.7 433.3ZM1499.6 415.3L1522.8 402.3L1517.4 419.9ZM1522.8 402.3L1546.9 391L1540.2 408.2ZM1546.9 391L1571.9 381.5L1563.9 398.1ZM1597.5 373.8L1623.7 367.9L1613.4 383.3ZM1623.7 367.9L1650.3 363.7L1639 378.4ZM1650.3 363.7L1677.1 361.2L1664.9 375.2ZM1677.1 361.2L1703.3 360.1L1691.6 373.5ZM1734.9 360.3L1764.9 360.3L1749.9 373.3ZM1764.9 360.3L1794.9 360.3L1779.9 373.3ZM1794.9 360.3L1824.9 360.3L1809.9 373.3ZM1824.9 360.3L1854.9 360.3L1839.9 373.3ZM1854.9 360.3L1884.9 360.3L1869.9 373.3ZM1884.9 360.3L1914.9 360.3L1899.9 373.3ZM1914.9 360.3L1944.9 360.3L1929.9 373.3ZM1944.9 360.3L1974.9 360.3L1959.9 373.3ZM1974.9 360.3L2004.9 360.3L1989.9 373.3ZM2034.9 360.3L2064.9 360.3L2049.9 373.3Z"/>
<path fill="#fff500" d="M-21 373.3L9 373.3L-6 360.3ZM159 373.3L189 373.3L174 360.3ZM189 373.3L219 373.3L204 360.3ZM219 373.3L249 373.3L234 360.3ZM249 373.3L279 373.3L264 360.3ZM279 373.3L309 373.3L294 360.3ZM546.9 410.9L569.3 423.3L564.5 405.5ZM686.6 529.2L705.5 550.9L705.7 531.5ZM748 594.1L771.5 613.5L767.9 594ZM845.2 662.9L870.8 677.7L864.4 659.1ZM1078.6 727.5L1109.4 724.5L1092.8 713.4ZM1199.5 700.4L1228.1 686.9L1208.4 682.3ZM1255.1 670.5L1280.1 652.1L1260.1 651ZM1365.2 569.5L1384.3 547.4L1365 550ZM1779.9 373.3L1809.9 373.3L1794.9 360.3ZM1869.9 373.3L1899.9 373.3L1884.9 360.3ZM1929.9 373.3L1959.9 373.3L1944.9 360.3ZM2019.9 373.3L2049.9 373.3L2034.9 360.3Z"/>
<path fill="#ffe500" d="M9 373.3L39 373.3L24 360.3ZM99 373.3L129 373.3L114 360.3ZM129 373.3L159 373.3L144 360.3ZM309 373.3L339 373.3L324 360.3ZM523.7 400.3L546.9 410.9L540.8 393.5ZM569.3 423.3L590.9 437.5L587.3 419.3ZM631.4 470.3L650.3 488.7L650 470ZM795.7 631.3L820.4 647.6L815.2 628.8ZM955.3 713.9L985.8 721.3L973.6 705.3ZM1280.1 652.1L1303.1 632.4L1283.4 632.5ZM1303.1 632.4L1324.7 612.1L1305.2 612.9ZM1402.6 525.3L1420.4 503.9L1401.5 506.2ZM1719.9 373.3L1749.9 373.3L1734.9 360.3ZM1959.9 373.3L1989.9 373.3L1974.9 360.3ZM1989.9 373.3L2019.9 373.3L2004.9 360.3Z"/>
<path fill="#ffb800" d="M39 373.3L69 373.3L54 360.3ZM650.3 488.7L668.4 508.3L668.9 489.5ZM1691.6 373.5L1719.9 373.3L1703.3 360.1ZM1839.9 373.3L1869.9 373.3L1854.9 360.3Z"/>
<path fill="#ffe000" d="M54 360.3L84 360.3L69 373.3ZM384 360.3L411.5 361.8L396.8 374ZM944.6 696.9L973.6 705.3L955.3 713.9ZM1235.1 667.9L1260.1 651L1255.1 670.5ZM1571.9 381.5L1597.5 373.8L1588.4 389.9Z"/>
<path fill="#ffd600" d="M69 373.3L99 373.3L84 360.3ZM590.9 437.5L611.6 453.2L609.2 434.8ZM611.6 453.2L631.4 470.3L630.1 451.8ZM705.5 550.9L725.7 572.8L724.9 553.1ZM1664.9 375.2L1691.6 373.5L1677.1 361.2ZM1749.9 373.3L1779.9 373.3L1764.9 360.3ZM1809.9 373.3L1839.9 373.3L1824.9 360.3ZM1899.9 373.3L1929.9 373.3L1914.9 360.3Z"/>
<path fill="#fff000" d="M114 360.3L144 360.3L129 373.3ZM204 360.3L234 360.3L219 373.3ZM354 360.3L384 360.3L369 373.3ZM540.8 393.5L564.5 405.5L546.9 410.9ZM609.2 434.8L630.1 451.8L611.6 453.2ZM724.9 553.1L745.6 574.2L725.7 572.8ZM745.6 574.2L767.9 594L748 594.1ZM767.9 594L791.2 612.1L771.5 613.5ZM916.7 685.9L944.6 696.9L925.7 703.8ZM1383.6 528L1401.5 506.2L1402.6 525.3ZM1401.5 506.2L1419.4 485L1420.4 503.9ZM1437.7 465L1456.9 446.7L1456.2 465ZM1456.9 446.7L1477.6 430.2L1475.2 448.4ZM1703.3 360.1L1734.9 360.3L1719.9 373.3ZM2004.9 360.3L2034.9 360.3L2019.9 373.3Z"/>
<path fill="#fff400" d="M339 373.3L369 373.3L354 360.3Z"/>
<path fill="#ffde00" d="M369 373.3L396.8 374L384 360.3ZM1438.1 483.6L1456.2 465L1437.7 465Z"/>
<path fill="#ff8f00" d="M396.8 374L423.6 375.9L411.5 361.8Z"/>
<path fill="#ffa500" d="M423.6 375.9L449.4 379.4L438.3 364.6ZM449.4 379.4L474.8 384.6L464.7 369Z"/>
<path fill="#ffdd00" d="M474.8 384.6L499.6 391.5L490.8 375.3Z"/>
<path fill="#fff100" d="M499.6 391.5L523.7 400.3L516.2 383.5Z"/>
<path fill="#ffe600" d="M668.4 508.3L686.6 529.2L687.3 510.1ZM725.7 572.8L748 594.1L745.6 574.2Z"/>
<path fill="#ffe700" d="M771.5 613.5L795.7 631.3L791.2 612.1ZM1324.7 612.1L1345.4 591.1L1325.9 592.5Z"/>
<path fill="#ffe300" d="M791.2 612.1L815.2 628.8L795.7 631.3ZM1456.2 465L1475.2 448.4L1456.9 446.7Z"/>
<path fill="#ffe800" d="M820.4 647.6L845.2 662.9L839.6 644.3ZM1170 711.2L1199.5 700.4L1180.5 693.9Z"/>
<path fill="#fff800" d="M839.6 644.3L864.4 659.1L845.2 662.9Z"/>
<path fill="#f9ff06" d="M864.4 659.1L890 673.2L870.8 677.7Z"/>
<path fill="#ffbe00" d="M870.8 677.7L897.6 691.5L890 673.2Z"/>
<path fill="#ffe900" d="M897.6 691.5L925.7 703.8L916.7 685.9Z"/>
<path fill="#fbff04" d="M925.7 703.8L955.3 713.9L944.6 696.9Z"/>
<path fill="#ffee00" d="M985.8 721.3L1016.6 726L1003.1 711.1Z"/>
<path fill="#edff12" d="M1016.6 726L1047.6 728L1033 714.3Z"/>
<path fill="#dcff23" d="M1047.6 728L1078.6 727.5L1062.9 715.1Z"/>
<path fill="#c3ff3c" d="M1062.9 715.1L1092.8 713.4L1078.6 727.5Z"/>
<path fill="#e7ff18" d="M1092.8 713.4L1122.4 709.3L1109.4 724.5Z"/>
<path fill="#eeff11" d="M1109.4 724.5L1139.9 719.1L1122.4 709.3Z"/>
<path fill="#ffed00" d="M1139.9 719.1L1170 711.2L1151.7 702.9Z"/>
<path fill="#f2ff0d" d="M1180.5 693.9L1208.4 682.3L1199.5 700.4Z"/>
<path fill="#f6ff09" d="M1208.4 682.3L1235.1 667.9L1228.1 686.9Z"/>
<path fill="#fff700" d="M1228.1 686.9L1255.1 670.5L1235.1 667.9Z"/>
<path fill="#f8ff07" d="M1260.1 651L1283.4 632.5L1280.1 652.1Z"/>
<path fill="#feff01" d="M1325.9 592.5L1345.8 571.5L1345.4 591.1Z"/>
<path fill="#fff600" d="M1345.4 591.1L1365.2 569.5L1345.8 571.5Z"/>
<path fill="#ffe100" d="M1365 550L1383.6 528L1384.3 547.4Z"/>
<path fill="#ffb700" d="M1384.3 547.4L1402.6 525.3L1383.6 528Z"/>
<path fill="#fff200" d="M1420.4 503.9L1438.1 483.6L1419.4 485ZM1639 378.4L1664.9 375.2L1650.3 363.7Z"/>
<path fill="#ffc200" d="M1475.2 448.4L1495.7 433.3L1477.6 430.2Z"/>
<path fill="#ffba00" d="M1495.7 433.3L1517.4 419.9L1499.6 415.3ZM1563.9 398.1L1588.4 389.9L1571.9 381.5Z"/>
<path fill="#ff8800" d="M1517.4 419.9L1540.2 408.2L1522.8 402.3Z"/>
<path fill="#ffa600" d="M1540.2 408.2L1563.9 398.1L1546.9 391Z"/>
<path fill="#ffc600" d="M1588.4 389.9L1613.4 383.3L1597.5 373.8Z"/>
<path fill="#ffda00" d="M1613.4 383.3L1639 378.4L1623.7 367.9Z"/>
<path fill="#e50000" d="M-21 373.3L9 373.3L-6 392.3ZM84 392.3L114 392.3L99 373.3ZM384 392.3L409.2 393.7L396.8 374ZM1324.7 612.1L1345.4 591.1L1348.7 615ZM1537.4 430.7L1559.4 420.4L1540.2 408.2ZM1764.9 392.3L1794.9 392.3L1779.9 373.3ZM1794.9 392.3L1824.9 392.3L1809.9 373.3Z"/>
<path fill="#ff0500" d="M-6 392.3L24 392.3L9 373.3ZM822.8 671.6L848.4 686.8L845.2 662.9ZM897.6 691.5L925.7 703.8L903.8 715.2ZM1170 711.2L1199.5 700.4L1191.4 724ZM1303.1 632.4L1324.7 612.1L1327.1 636.1ZM1629.7 399.3L1654.3 395.5L1639 378.4ZM1944.9 392.3L1974.9 392.3L1959.9 373.3Z"/>
<path fill="#d60000" d="M9 373.3L39 373.3L24 392.3ZM569.8 446.1L589.9 460.3L590.9 437.5ZM631.4 470.3L650.3 488.7L627.7 493ZM705.5 550.9L725.7 572.8L701.4 574.8ZM1365.2 569.5L1384.3 547.4L1389.2 570.9ZM1749.9 373.3L1779.9 373.3L1764.9 392.3ZM1899.9 373.3L1929.9 373.3L1914.9 392.3ZM1989.9 373.3L2019.9 373.3L2004.9 392.3Z"/>
<path fill="#fa0000" d="M24 392.3L54 392.3L39 373.3ZM54 392.3L84 392.3L69 373.3ZM627.7 493L645.4 511.2L650.3 488.7ZM797.5 655.4L822.8 671.6L820.4 647.6ZM1734.9 392.3L1764.9 392.3L1749.9 373.3Z"/>
<path fill="#d10000" d="M39 373.3L69 373.3L54 392.3ZM189 373.3L219 373.3L204 392.3ZM219 373.3L249 373.3L234 392.3ZM324 392.3L354 392.3L339 373.3ZM449.4 379.4L474.8 384.6L458.3 400.4ZM546.9 410.9L569.3 423.3L549 433.5ZM611.6 453.2L631.4 470.3L609.2 476ZM1384.3 547.4L1402.6 525.3L1408.2 548.5ZM1809.9 373.3L1839.9 373.3L1824.9 392.3ZM1959.9 373.3L1989.9 373.3L1974.9 392.3Z"/>
<path fill="#db0000" d="M69 373.3L99 373.3L84 392.3ZM294 392.3L324 392.3L309 373.3ZM309 373.3L339 373.3L324 392.3ZM369 373.3L396.8 374L384 392.3ZM482.1 406.1L505.2 413.6L499.6 391.5ZM505.2 413.6L527.5 422.6L523.7 400.3ZM795.7 631.3L820.4 647.6L797.5 655.4ZM820.4 647.6L845.2 662.9L822.8 671.6ZM1438.1 483.6L1456.2 465L1460.7 487.3ZM1456.2 465L1475.2 448.4L1478 470.8ZM1475.2 448.4L1495.7 433.3L1496.5 455.9ZM1517.4 419.9L1540.2 408.2L1537.4 430.7ZM1540.2 408.2L1563.9 398.1L1559.4 420.4ZM1588.4 389.9L1613.4 383.3L1605.6 404.8ZM1639 378.4L1664.9 375.2L1654.3 395.5ZM1884.9 392.3L1914.9 392.3L1899.9 373.3Z"/>
<path fill="#c70000" d="M99 373.3L129 373.3L114 392.3ZM396.8 374L423.6 375.9L409.2 393.7ZM650.3 488.7L668.4 508.3L645.4 511.2ZM725.7 572.8L748 594.1L723.5 597.4ZM845.2 662.9L870.8 677.7L848.4 686.8ZM1496.5 455.9L1516.4 442.6L1495.7 433.3Z"/>
<path fill="#ff1a00" d="M114 392.3L144 392.3L129 373.3ZM1016.6 726L1047.6 728L1030.9 746.3Z"/>
<path fill="#cc0000" d="M129 373.3L159 373.3L144 392.3ZM569.3 423.3L590.9 437.5L569.8 446.1ZM748 594.1L771.5 613.5L747.5 618.7ZM1516.4 442.6L1537.4 430.7L1517.4 419.9ZM1664.9 375.2L1691.6 373.5L1679.2 393.1ZM1719.9 373.3L1749.9 373.3L1734.9 392.3ZM1824.9 392.3L1854.9 392.3L1839.9 373.3ZM1869.9 373.3L1899.9 373.3L1884.9 392.3ZM1929.9 373.3L1959.9 373.3L1944.9 392.3Z"/>
<path fill="#ff0a00" d="M144 392.3L174 392.3L159 373.3ZM549 433.5L569.8 446.1L569.3 423.3ZM589.9 460.3L609.2 476L611.6 453.2ZM723.5 597.4L747.5 618.7L748 594.1ZM925.7 703.8L955.3 713.9L934.2 727.1ZM1443.5 506.1L1460.7 487.3L1438.1 483.6Z"/>
<path fill="#b30000" d="M159 373.3L189 373.3L174 392.3ZM249 373.3L279 373.3L264 392.3ZM1839.9 373.3L1869.9 373.3L1854.9 392.3Z"/>
<path fill="#ff0000" d="M174 392.3L204 392.3L189 373.3ZM409.2 393.7L434 396.3L423.6 375.9ZM1199.5 700.4L1228.1 686.9L1222.1 711.2ZM1700.8 392L1734.9 392.3L1719.9 373.3ZM1854.9 392.3L1884.9 392.3L1869.9 373.3Z"/>
<path fill="#f50000" d="M204 392.3L234 392.3L219 373.3ZM234 392.3L264 392.3L249 373.3ZM663.1 531.1L681.5 552.4L686.6 529.2ZM1228.1 686.9L1255.1 670.5L1251.8 695.2Z"/>
<path fill="#f00000" d="M264 392.3L294 392.3L279 373.3ZM458.3 400.4L482.1 406.1L474.8 384.6ZM747.5 618.7L772.3 637.9L771.5 613.5ZM1255.1 670.5L1280.1 652.1L1279.2 676.8ZM1280.1 652.1L1303.1 632.4L1304.1 656.8ZM1345.4 591.1L1365.2 569.5L1369.4 593.2ZM1420.4 503.9L1438.1 483.6L1443.5 506.1ZM1478 470.8L1496.5 455.9L1475.2 448.4Z"/>
<path fill="#bd0000" d="M279 373.3L309 373.3L294 392.3ZM474.8 384.6L499.6 391.5L482.1 406.1ZM771.5 613.5L795.7 631.3L772.3 637.9ZM1402.6 525.3L1420.4 503.9L1426.2 526.6ZM1779.9 373.3L1809.9 373.3L1794.9 392.3Z"/>
<path fill="#c20000" d="M339 373.3L369 373.3L354 392.3ZM499.6 391.5L523.7 400.3L505.2 413.6ZM590.9 437.5L611.6 453.2L589.9 460.3ZM668.4 508.3L686.6 529.2L663.1 531.1ZM686.6 529.2L705.5 550.9L681.5 552.4ZM1495.7 433.3L1517.4 419.9L1516.4 442.6ZM1563.9 398.1L1588.4 389.9L1582.2 411.8Z"/>
<path fill="#e00000" d="M354 392.3L384 392.3L369 373.3ZM609.2 476L627.7 493L631.4 470.3ZM1613.4 383.3L1639 378.4L1629.7 399.3ZM1691.6 373.5L1719.9 373.3L1700.8 392Z"/>
<path fill="#a80000" d="M423.6 375.9L449.4 379.4L434 396.3ZM2019.9 373.3L2049.9 373.3L2034.9 392.3Z"/>
<path fill="#eb0000" d="M434 396.3L458.3 400.4L449.4 379.4ZM870.8 677.7L897.6 691.5L875.3 701.6ZM1460.7 487.3L1478 470.8L1456.2 465ZM1559.4 420.4L1582.2 411.8L1563.9 398.1ZM1679.2 393.1L1700.8 392L1691.6 373.5ZM1914.9 392.3L1944.9 392.3L1929.9 373.3Z"/>
<path fill="#b80000" d="M523.7 400.3L546.9 410.9L527.5 422.6Z"/>
<path fill="#ff0f00" d="M527.5 422.6L549 433.5L546.9 410.9ZM701.4 574.8L723.5 597.4L725.7 572.8ZM1109.4 724.5L1139.9 719.1L1128 740.8ZM1327.1 636.1L1348.7 615L1324.7 612.1ZM1369.4 593.2L1389.2 570.9L1365.2 569.5ZM1389.2 570.9L1408.2 548.5L1384.3 547.4ZM1605.6 404.8L1629.7 399.3L1613.4 383.3Z"/>
<path fill="#ff1f00" d="M645.4 511.2L663.1 531.1L668.4 508.3ZM955.3 713.9L985.8 721.3L966 736.4ZM2004.9 392.3L2034.9 392.3L2019.9 373.3Z"/>
<path fill="#ff1400" d="M681.5 552.4L701.4 574.8L705.5 550.9ZM1139.9 719.1L1170 711.2L1159.9 733.8ZM1348.7 615L1369.4 593.2L1345.4 591.1ZM1426.2 526.6L1443.5 506.1L1420.4 503.9ZM1582.2 411.8L1605.6 404.8L1588.4 389.9ZM1654.3 395.5L1679.2 393.1L1664.9 375.2ZM1974.9 392.3L2004.9 392.3L1989.9 373.3Z"/>
<path fill="#ff2900" d="M772.3 637.9L797.5 655.4L795.7 631.3ZM1222.1 711.2L1251.8 695.2L1228.1 686.9ZM1251.8 695.2L1279.2 676.8L1255.1 670.5ZM1408.2 548.5L1426.2 526.6L1402.6 525.3Z"/>
<path fill="#ff2e00" d="M848.4 686.8L875.3 701.6L870.8 677.7ZM934.2 727.1L966 736.4L955.3 713.9ZM985.8 721.3L1016.6 726L998.3 742.8ZM1304.1 656.8L1327.1 636.1L1303.1 632.4Z"/>
<path fill="#ff2400" d="M875.3 701.6L903.8 715.2L897.6 691.5Z"/>
<path fill="#ff4700" d="M903.8 715.2L934.2 727.1L925.7 703.8Z"/>
<path fill="#ff5700" d="M966 736.4L998.3 742.8L985.8 721.3ZM1095.9 745.2L1128 740.8L1109.4 724.5Z"/>
<path fill="#ff8000" d="M998.3 742.8L1030.9 746.3L1016.6 726Z"/>
<path fill="#ff8a00" d="M1030.9 746.3L1063.4 747.1L1047.6 728Z"/>
<path fill="#ff3d00" d="M1047.6 728L1078.6 727.5L1063.4 747.1Z"/>
<path fill="#ff5c00" d="M1063.4 747.1L1095.9 745.2L1078.6 727.5ZM1159.9 733.8L1191.4 724L1170 711.2ZM1279.2 676.8L1304.1 656.8L1280.1 652.1Z"/>
<path fill="#ff4200" d="M1078.6 727.5L1109.4 724.5L1095.9 745.2ZM1191.4 724L1222.1 711.2L1199.5 700.4Z"/>
<path fill="#ff6600" d="M1128 740.8L1159.9 733.8L1139.9 719.1Z"/>
<polygon fill="#00607f" points="-36,339.3 -6,339.3 24,339.3 54,339.3 84,339.3 114,339.3 144,339.3 174,339.3 204,339.3 234,339.3 264,339.3 294,339.3 324,339.3 354,339.3 384,339.3 413,340.9 412.8,344.4 384,342.8 354,342.8 324,342.8 294,342.8 264,342.8 234,342.8 204,342.8 174,342.8 144,342.8 114,342.8 84,342.8 54,342.8 24,342.8 -6,342.8 -36,342.8"/>
<polygon fill="#0078b4" points="413,340.9 441.1,343.7 469,348.5 496.4,355.1 523.3,363.7 549.5,374.4 574.7,387.1 598.9,401.8 621.9,418.1 643.9,435.9 664.7,455 684.4,475.2 703.2,496.3 721.6,517.7 740.4,538.9 760.1,559.1 781.2,577.8 803.6,595.1 826.8,611.2 850.6,626.4 874.9,640.9 899.6,654.5 925.1,666.7 951.4,677 978.5,684.9 1006.2,690.4 1034.3,693.4 1062.6,694.1 1090.8,692.5 1118.8,688.7 1146.3,682.6 1173.3,674.2 1199.4,663.3 1224.2,649.9 1247.7,634.1 1269.7,616.5 1290.7,597.6 1310.9,577.8 1330.4,557.3 1349.1,536.2 1367.4,514.7 1385.4,492.8 1403.6,471.3 1422.7,450.4 1443.1,430.9 1465.1,413.2 1488.5,397.4 1513.2,383.6 1538.7,371.6 1565.2,361.6 1592.2,353.5 1619.8,347.3 1647.7,342.9 1675.8,340.2 1704.9,339.2 1704.6,342.7 1676,343.7 1648.1,346.4 1620.4,350.7 1593.1,356.9 1566.3,364.9 1540.1,374.8 1514.8,386.7 1490.4,400.4 1467.2,416.1 1445.4,433.6 1425.2,452.9 1406.2,473.6 1388,495.1 1370.1,516.9 1351.8,538.5 1332.9,559.7 1313.4,580.3 1293.1,600.2 1272,619.2 1249.7,636.9 1226.1,652.9 1200.9,666.5 1174.5,677.5 1147.2,686 1119.4,692.1 1091.1,696 1062.6,697.6 1034.1,696.9 1005.7,693.8 977.7,688.3 950.3,680.3 923.7,669.9 898,657.6 873.1,644 848.8,629.4 824.8,614.2 801.5,598 779,580.5 757.7,561.6 737.8,541.2 719,520 700.5,498.6 681.8,477.6 662.2,457.5 641.6,438.5 619.8,420.9 596.9,404.7 573,390.2 548,377.6 522.1,367 495.5,358.5 468.3,351.9 440.6,347.2 412.8,344.4"/>
<polygon fill="#00607f" points="1704.9,339.2 1734.9,339.3 1764.9,339.3 1794.9,339.3 1824.9,339.3 1854.9,339.3 1884.9,339.3 1914.9,339.3 1944.9,339.3 1974.9,339.3 2004.9,339.3 2034.9,339.3 2064.9,339.3 2064.9,342.8 2034.9,342.8 2004.9,342.8 1974.9,342.8 1944.9,342.8 1914.9,342.8 1884.9,342.8 1854.9,342.8 1824.9,342.8 1794.9,342.8 1764.9,342.8 1734.9,342.8 1704.6,342.7"/>
<polygon fill="#0092b4" points="-36,342.8 -6,342.8 24,342.8 54,342.8 84,342.8 114,342.8 144,342.8 174,342.8 204,342.8 234,342.8 264,342.8 294,342.8 324,342.8 354,342.8 384,342.8 412.8,344.4 412.4,349.3 384,347.8 354,347.8 324,347.8 294,347.8 264,347.8 234,347.8 204,347.8 174,347.8 144,347.8 114,347.8 84,347.8 54,347.8 24,347.8 -6,347.8 -36,347.8"/>
<polygon fill="#00bff0" points="412.8,344.4 440.6,347.2 468.3,351.9 495.5,358.5 522.1,367 548,377.6 573,390.2 596.9,404.7 619.8,420.9 641.6,438.5 662.2,457.5 681.8,477.6 700.5,498.6 719,520 737.8,541.2 757.7,561.6 779,580.5 801.5,598 824.8,614.2 848.8,629.4 873.1,644 898,657.6 923.7,669.9 950.3,680.3 977.7,688.3 1005.7,693.8 1034.1,696.9 1062.6,697.6 1091.1,696 1119.4,692.1 1147.2,686 1174.5,677.5 1200.9,666.5 1226.1,652.9 1249.7,636.9 1272,619.2 1293.1,600.2 1313.4,580.3 1332.9,559.7 1351.8,538.5 1370.1,516.9 1388,495.1 1406.2,473.6 1425.2,452.9 1445.4,433.6 1467.2,416.1 1490.4,400.4 1514.8,386.7 1540.1,374.8 1566.3,364.9 1593.1,356.9 1620.4,350.7 1648.1,346.4 1676,343.7 1704.6,342.7 1704.3,347.7 1676.3,348.7 1648.7,351.3 1621.4,355.6 1594.4,361.7 1567.9,369.6 1542.1,379.5 1517,391.1 1493,404.7 1470.2,420.1 1448.7,437.3 1428.8,456.3 1410,476.8 1391.9,498.3 1373.9,520.1 1355.6,541.8 1336.6,563.1 1317,583.8 1296.6,603.8 1275.3,623 1252.7,641 1228.6,657.2 1203,671 1176.2,682.2 1148.5,690.8 1120.2,697 1091.6,700.9 1062.7,702.6 1033.8,701.9 1005,698.8 976.5,693.2 948.7,685 921.7,674.5 895.7,662 870.6,648.3 846.1,633.7 822.1,618.3 798.6,602 775.8,584.4 754.2,565.2 734.1,544.6 715.2,523.3 696.7,501.9 678.1,481 658.7,461.1 638.3,442.3 616.8,424.9 594.2,408.9 570.6,394.6 545.9,382.1 520.4,371.7 494.1,363.3 467.3,356.8 440,352.2 412.4,349.3"/>
<polygon fill="#0092b4" points="1704.6,342.7 1734.9,342.8 1764.9,342.8 1794.9,342.8 1824.9,342.8 1854.9,342.8 1884.9,342.8 1914.9,342.8 1944.9,342.8 1974.9,342.8 2004.9,342.8 2034.9,342.8 2064.9,342.8 2064.9,347.8 2034.9,347.8 2004.9,347.8 1974.9,347.8 1944.9,347.8 1914.9,347.8 1884.9,347.8 1854.9,347.8 1824.9,347.8 1794.9,347.8 1764.9,347.8 1734.9,347.8 1704.3,347.7"/>
<polygon fill="#25ffda" points="-36,347.8 -6,347.8 24,347.8 54,347.8 84,347.8 114,347.8 144,347.8 174,347.8 204,347.8 234,347.8 264,347.8 294,347.8 324,347.8 354,347.8 384,347.8 412.4,349.3 412,355.3 384,353.8 354,353.8 324,353.8 294,353.8 264,353.8 234,353.8 204,353.8 174,353.8 144,353.8 114,353.8 84,353.8 54,353.8 24,353.8 -6,353.8 -36,353.8"/>
<polygon fill="#25ffda" points="412.4,349.3 440,352.2 467.3,356.8 494.1,363.3 520.4,371.7 545.9,382.1 570.6,394.6 594.2,408.9 616.8,424.9 638.3,442.3 658.7,461.1 678.1,481 696.7,501.9 715.2,523.3 734.1,544.6 754.2,565.2 775.8,584.4 798.6,602 822.1,618.3 846.1,633.7 870.6,648.3 895.7,662 921.7,674.5 948.7,685 976.5,693.2 1005,698.8 1033.8,701.9 1062.7,702.6 1091.6,700.9 1120.2,697 1148.5,690.8 1176.2,682.2 1203,671 1228.6,657.2 1252.7,641 1275.3,623 1296.6,603.8 1317,583.8 1336.6,563.1 1355.6,541.8 1373.9,520.1 1391.9,498.3 1410,476.8 1428.8,456.3 1448.7,437.3 1470.2,420.1 1493,404.7 1517,391.1 1542.1,379.5 1567.9,369.6 1594.4,361.7 1621.4,355.6 1648.7,351.3 1676.3,348.7 1704.3,347.7 1703.8,353.7 1676.7,354.7 1649.5,357.3 1622.5,361.5 1595.9,367.5 1569.8,375.3 1544.4,385 1519.8,396.5 1496.2,409.8 1473.7,424.9 1452.7,441.8 1433.1,460.5 1414.5,480.8 1396.5,502.1 1378.6,523.9 1360.1,545.7 1341,567.1 1321.2,588 1300.7,608.1 1279.2,627.6 1256.3,645.8 1231.8,662.3 1205.6,676.4 1178.2,687.8 1150,696.6 1121.3,702.9 1092.2,706.9 1062.8,708.6 1033.4,707.9 1004.1,704.7 975.1,699 946.7,690.7 919.3,680 893,667.4 867.6,653.5 843,638.8 818.8,623.3 795,606.8 772,589 750.1,569.5 729.7,548.7 710.6,527.2 692.2,505.8 673.7,485.1 654.6,465.4 634.4,446.9 613.1,429.6 590.9,413.9 567.6,399.8 543.5,387.6 518.4,377.4 492.5,369.1 466.1,362.7 439.2,358.1 412,355.3"/>
<polygon fill="#25ffda" points="1704.3,347.7 1734.9,347.8 1764.9,347.8 1794.9,347.8 1824.9,347.8 1854.9,347.8 1884.9,347.8 1914.9,347.8 1944.9,347.8 1974.9,347.8 2004.9,347.8 2034.9,347.8 2064.9,347.8 2064.9,353.8 2034.9,353.8 2004.9,353.8 1974.9,353.8 1944.9,353.8 1914.9,353.8 1884.9,353.8 1854.9,353.8 1824.9,353.8 1794.9,353.8 1764.9,353.8 1734.9,353.8 1703.8,353.7"/>
<polygon fill="#6dff92" points="-36,353.8 -6,353.8 24,353.8 54,353.8 84,353.8 114,353.8 144,353.8 174,353.8 204,353.8 234,353.8 264,353.8 294,353.8 324,353.8 354,353.8 384,353.8 412,355.3 411.5,361.8 384,360.3 354,360.3 324,360.3 294,360.3 264,360.3 234,360.3 204,360.3 174,360.3 144,360.3 114,360.3 84,360.3 54,360.3 24,360.3 -6,360.3 -36,360.3"/>
<polygon fill="#6dff92" points="412,355.3 439.2,358.1 466.1,362.7 492.5,369.1 518.4,377.4 543.5,387.6 567.6,399.8 590.9,413.9 613.1,429.6 634.4,446.9 654.6,465.4 673.7,485.1 692.2,505.8 710.6,527.2 729.7,548.7 750.1,569.5 772,589 795,606.8 818.8,623.3 843,638.8 867.6,653.5 893,667.4 919.3,680 946.7,690.7 975.1,699 1004.1,704.7 1033.4,707.9 1062.8,708.6 1092.2,706.9 1121.3,702.9 1150,696.6 1178.2,687.8 1205.6,676.4 1231.8,662.3 1256.3,645.8 1279.2,627.6 1300.7,608.1 1321.2,588 1341,567.1 1360.1,545.7 1378.6,523.9 1396.5,502.1 1414.5,480.8 1433.1,460.5 1452.7,441.8 1473.7,424.9 1496.2,409.8 1519.8,396.5 1544.4,385 1569.8,375.3 1595.9,367.5 1622.5,361.5 1649.5,357.3 1676.7,354.7 1703.8,353.7 1703.3,360.1 1677.1,361.2 1650.3,363.7 1623.7,367.9 1597.5,373.8 1571.9,381.5 1546.9,391 1522.8,402.3 1499.6,415.3 1477.6,430.2 1456.9,446.7 1437.7,465 1419.4,485 1401.5,506.2 1383.6,528 1365,550 1345.8,571.5 1325.9,592.5 1305.2,612.9 1283.4,632.5 1260.1,651 1235.1,667.9 1208.4,682.3 1180.5,693.9 1151.7,702.9 1122.4,709.3 1092.8,713.4 1062.9,715.1 1033,714.3 1003.1,711.1 973.6,705.3 944.6,696.9 916.7,685.9 890,673.2 864.4,659.1 839.6,644.3 815.2,628.8 791.2,612.1 767.9,594 745.6,574.2 724.9,553.1 705.7,531.5 687.3,510.1 668.9,489.5 650,470 630.1,451.8 609.2,434.8 587.3,419.3 564.5,405.5 540.8,393.5 516.2,383.5 490.8,375.3 464.7,369 438.3,364.6 411.5,361.8"/>
<polygon fill="#6dff92" points="1703.8,353.7 1734.9,353.8 1764.9,353.8 1794.9,353.8 1824.9,353.8 1854.9,353.8 1884.9,353.8 1914.9,353.8 1944.9,353.8 1974.9,353.8 2004.9,353.8 2034.9,353.8 2064.9,353.8 2064.9,360.3 2034.9,360.3 2004.9,360.3 1974.9,360.3 1944.9,360.3 1914.9,360.3 1884.9,360.3 1854.9,360.3 1824.9,360.3 1794.9,360.3 1764.9,360.3 1734.9,360.3 1703.3,360.1"/>
<path fill="none" stroke="#000" stroke-opacity="0.72" stroke-width="1.7" d="M144 392.3L174 392.3M144 392.3L155.3 421M174 392.3L204 392.3M174 392.3L155.3 421M174 392.3L185.9 416.6M204 392.3L234 392.3M204 392.3L185.9 416.6M204 392.3L220.1 417.1M234 392.3L264 392.3M234 392.3L220.1 417.1M234 392.3L251.2 419.9M264 392.3L294 392.3M264 392.3L251.2 419.9M264 392.3L280.6 420.8M294 392.3L324 392.3M294 392.3L280.6 420.8M294 392.3L310.1 420.4M324 392.3L354 392.3M324 392.3L310.1 420.4M324 392.3L340.5 418.4M354 392.3L384 392.3M354 392.3L340.5 418.4M354 392.3L371.4 416.2M384 392.3L409.2 393.7M384 392.3L371.4 416.2M384 392.3L398.8 424.7M409.2 393.7L434 396.3M409.2 393.7L398.8 424.7M409.2 393.7L429 421M434 396.3L458.3 400.4M434 396.3L429 421M458.3 400.4L482.1 406.1M458.3 400.4L429 421M458.3 400.4L457.6 429.3M482.1 406.1L505.2 413.6M482.1 406.1L457.6 429.3M482.1 406.1L486.3 438.7M505.2 413.6L527.5 422.6M505.2 413.6L486.3 438.7M505.2 413.6L515.1 448.6M527.5 422.6L549 433.5M527.5 422.6L515.1 448.6M549 433.5L569.8 446.1M549 433.5L515.1 448.6M549 433.5L542.8 462.3M569.8 446.1L589.9 460.3M569.8 446.1L542.8 462.3M569.8 446.1L571 480.1M589.9 460.3L609.2 476M589.9 460.3L571 480.1M609.2 476L627.7 493M609.2 476L571 480.1M609.2 476L593 500.4M627.7 493L645.4 511.2M627.7 493L593 500.4M627.7 493L612.9 521M645.4 511.2L663.1 531.1M645.4 511.2L612.9 521M645.4 511.2L633 539M663.1 531.1L681.5 552.4M663.1 531.1L633 539M663.1 531.1L650.9 560.2M681.5 552.4L701.4 574.8M681.5 552.4L650.9 560.2M681.5 552.4L672.6 581.6M701.4 574.8L723.5 597.4M701.4 574.8L672.6 581.6M701.4 574.8L695.5 605.7M723.5 597.4L747.5 618.7M723.5 597.4L695.5 605.7M723.5 597.4L719.3 628.5M747.5 618.7L772.3 637.9M747.5 618.7L719.3 628.5M747.5 618.7L742.5 649.6M772.3 637.9L797.5 655.4M772.3 637.9L742.5 649.6M772.3 637.9L768.9 668.3M797.5 655.4L822.8 671.6M797.5 655.4L768.9 668.3M797.5 655.4L796.3 686.5M822.8 671.6L848.4 686.8M822.8 671.6L796.3 686.5M822.8 671.6L824.5 703.7M848.4 686.8L875.3 701.6M848.4 686.8L824.5 703.7M848.4 686.8L853.5 719.8M875.3 701.6L903.8 715.2M875.3 701.6L853.5 719.8M875.3 701.6L883.3 734.8M903.8 715.2L934.2 727.1M903.8 715.2L883.3 734.8M903.8 715.2L913.2 748.9M934.2 727.1L966 736.4M934.2 727.1L913.2 748.9M934.2 727.1L943.4 756.7M966 736.4L998.3 742.8M966 736.4L943.4 756.7M966 736.4L978.5 764.3M998.3 742.8L1030.9 746.3M998.3 742.8L978.5 764.3M998.3 742.8L1010.8 768.3M1030.9 746.3L1063.4 747.1M1030.9 746.3L1010.8 768.3M1030.9 746.3L1048.3 770.4M1063.4 747.1L1095.9 745.2M1063.4 747.1L1048.3 770.4M1063.4 747.1L1082.7 776.4M1095.9 745.2L1128 740.8M1095.9 745.2L1082.7 776.4M1095.9 745.2L1115.8 768.2M1128 740.8L1159.9 733.8M1128 740.8L1115.8 768.2M1128 740.8L1149.9 759.5M1159.9 733.8L1191.4 724M1159.9 733.8L1149.9 759.5M1159.9 733.8L1186.4 750.9M1191.4 724L1222.1 711.2M1191.4 724L1186.4 750.9M1191.4 724L1217.6 742.4M1222.1 711.2L1251.8 695.2M1222.1 711.2L1217.6 742.4M1222.1 711.2L1248 726.3M1251.8 695.2L1279.2 676.8M1251.8 695.2L1248 726.3M1251.8 695.2L1277.8 708.6M1279.2 676.8L1304.1 656.8M1279.2 676.8L1277.8 708.6M1279.2 676.8L1304.6 687.4M1304.1 656.8L1327.1 636.1M1304.1 656.8L1304.6 687.4M1304.1 656.8L1334.3 668.1M1327.1 636.1L1348.7 615M1327.1 636.1L1334.3 668.1M1327.1 636.1L1358 645.8M1348.7 615L1369.4 593.2M1348.7 615L1358 645.8M1348.7 615L1380.5 624.1M1369.4 593.2L1389.2 570.9M1369.4 593.2L1380.5 624.1M1369.4 593.2L1397.9 600.8M1389.2 570.9L1408.2 548.5M1389.2 570.9L1397.9 600.8M1389.2 570.9L1418.3 580.3M1408.2 548.5L1426.2 526.6M1408.2 548.5L1418.3 580.3M1408.2 548.5L1438.2 557M1426.2 526.6L1443.5 506.1M1426.2 526.6L1438.2 557M1426.2 526.6L1458.7 532.5M1443.5 506.1L1460.7 487.3M1443.5 506.1L1458.7 532.5M1443.5 506.1L1479.5 506.9M1460.7 487.3L1478 470.8M1460.7 487.3L1479.5 506.9M1478 470.8L1496.5 455.9M1478 470.8L1479.5 506.9M1478 470.8L1505.8 485.5M1496.5 455.9L1516.4 442.6M1496.5 455.9L1505.8 485.5M1496.5 455.9L1531.7 467M1516.4 442.6L1537.4 430.7M1516.4 442.6L1531.7 467M1537.4 430.7L1559.4 420.4M1537.4 430.7L1531.7 467M1537.4 430.7L1560.2 452.8M1559.4 420.4L1582.2 411.8M1559.4 420.4L1560.2 452.8M1559.4 420.4L1586.5 439.5M1582.2 411.8L1605.6 404.8M1582.2 411.8L1586.5 439.5M1582.2 411.8L1614.6 432.3M1605.6 404.8L1629.7 399.3M1605.6 404.8L1614.6 432.3M1629.7 399.3L1654.3 395.5M1629.7 399.3L1614.6 432.3M1629.7 399.3L1644.9 426.4M1654.3 395.5L1679.2 393.1M1654.3 395.5L1644.9 426.4M1654.3 395.5L1676.5 420.8M1679.2 393.1L1700.8 392M1679.2 393.1L1676.5 420.8M1700.8 392L1734.9 392.3M1700.8 392L1676.5 420.8M1700.8 392L1709.2 414M1734.9 392.3L1764.9 392.3M1734.9 392.3L1709.2 414M1734.9 392.3L1731.9 428.4M1734.9 392.3L1755.3 415.9M1764.9 392.3L1794.9 392.3M1764.9 392.3L1755.3 415.9M1764.9 392.3L1785.2 420.7M1794.9 392.3L1824.9 392.3M1794.9 392.3L1785.2 420.7M1794.9 392.3L1814.1 419.3M1824.9 392.3L1854.9 392.3M1824.9 392.3L1814.1 419.3M1824.9 392.3L1848.1 418.6M1854.9 392.3L1884.9 392.3M1854.9 392.3L1848.1 418.6M1854.9 392.3L1879.9 417.7M1884.9 392.3L1879.9 417.7M126.5 418.8L155.3 421M155.3 421L185.9 416.6M155.3 421L140 455.1M155.3 421L171.8 448.4M185.9 416.6L202.2 440.7M185.9 416.6L220.1 417.1M185.9 416.6L171.8 448.4M202.2 440.7L220.1 417.1M202.2 440.7L171.8 448.4M202.2 440.7L206.3 470.3M202.2 440.7L234.8 447.5M220.1 417.1L251.2 419.9M220.1 417.1L234.8 447.5M251.2 419.9L280.6 420.8M251.2 419.9L234.8 447.5M251.2 419.9L267.4 452.7M280.6 420.8L310.1 420.4M280.6 420.8L267.4 452.7M280.6 420.8L298.5 452.5M310.1 420.4L340.5 418.4M310.1 420.4L298.5 452.5M310.1 420.4L332.3 447.7M340.5 418.4L371.4 416.2M340.5 418.4L332.3 447.7M340.5 418.4L365.8 443.5M371.4 416.2L398.8 424.7M371.4 416.2L365.8 443.5M398.8 424.7L429 421M398.8 424.7L393.6 459.5M398.8 424.7L365.8 443.5M398.8 424.7L425.4 448.7M429 421L457.6 429.3M429 421L425.4 448.7M457.6 429.3L486.3 438.7M457.6 429.3L425.4 448.7M457.6 429.3L456.2 460.6M486.3 438.7L515.1 448.6M486.3 438.7L456.2 460.6M486.3 438.7L486.2 472.4M515.1 448.6L542.8 462.3M515.1 448.6L486.2 472.4M515.1 448.6L514.6 483.4M542.8 462.3L571 480.1M542.8 462.3L514.6 483.4M542.8 462.3L543.5 494.4M571 480.1L593 500.4M571 480.1L543.5 494.4M571 480.1L564.1 516.7M593 500.4L612.9 521M593 500.4L564.1 516.7M593 500.4L586.3 538.5M612.9 521L633 539M612.9 521L586.3 538.5M612.9 521L612.1 560.9M633 539L650.9 560.2M633 539L612.1 560.9M650.9 560.2L672.6 581.6M650.9 560.2L612.1 560.9M650.9 560.2L637 586.6M672.6 581.6L695.5 605.7M672.6 581.6L637 586.6M672.6 581.6L663.7 610.2M695.5 605.7L719.3 628.5M695.5 605.7L663.7 610.2M695.5 605.7L688.9 638.1M719.3 628.5L742.5 649.6M719.3 628.5L688.9 638.1M719.3 628.5L709.2 662.3M742.5 649.6L768.9 668.3M742.5 649.6L709.2 662.3M742.5 649.6L737.4 681.9M768.9 668.3L796.3 686.5M768.9 668.3L737.4 681.9M768.9 668.3L766.4 701.2M796.3 686.5L824.5 703.7M796.3 686.5L766.4 701.2M796.3 686.5L796.4 719.9M824.5 703.7L853.5 719.8M824.5 703.7L796.4 719.9M824.5 703.7L827.3 737.6M853.5 719.8L883.3 734.8M853.5 719.8L827.3 737.6M853.5 719.8L858.9 754.3M883.3 734.8L913.2 748.9M883.3 734.8L858.9 754.3M883.3 734.8L891.1 770.4M913.2 748.9L943.4 756.7M913.2 748.9L891.1 770.4M913.2 748.9L923.6 786.7M943.4 756.7L978.5 764.3M943.4 756.7L923.6 786.7M943.4 756.7L956.9 784.2M978.5 764.3L1010.8 768.3M978.5 764.3L956.9 784.2M978.5 764.3L990.2 797.3M1010.8 768.3L1025 791.4M1010.8 768.3L1048.3 770.4M1010.8 768.3L990.2 797.3M1025 791.4L1048.3 770.4M1025 791.4L990.2 797.3M1025 791.4L1021.3 820.9M1025 791.4L1056.4 800.9M1048.3 770.4L1082.7 776.4M1048.3 770.4L1056.4 800.9M1082.7 776.4L1115.8 768.2M1082.7 776.4L1056.4 800.9M1082.7 776.4L1084.6 815.7M1082.7 776.4L1112.3 799.5M1115.8 768.2L1149.9 759.5M1115.8 768.2L1112.3 799.5M1115.8 768.2L1144.1 789M1149.9 759.5L1176.1 775.8M1149.9 759.5L1186.4 750.9M1149.9 759.5L1144.1 789M1176.1 775.8L1186.4 750.9M1176.1 775.8L1144.1 789M1176.1 775.8L1180.3 804.2M1176.1 775.8L1211.2 777.6M1186.4 750.9L1217.6 742.4M1186.4 750.9L1211.2 777.6M1217.6 742.4L1248 726.3M1217.6 742.4L1211.2 777.6M1217.6 742.4L1244.1 760.5M1248 726.3L1277.8 708.6M1248 726.3L1244.1 760.5M1248 726.3L1275.5 743M1277.8 708.6L1304.6 687.4M1277.8 708.6L1275.5 743M1277.8 708.6L1304.9 725.2M1304.6 687.4L1334.3 668.1M1304.6 687.4L1304.9 725.2M1304.6 687.4L1326.6 704.1M1334.3 668.1L1358 645.8M1334.3 668.1L1326.6 704.1M1334.3 668.1L1353.2 696.5M1334.3 668.1L1373.5 674.2M1358 645.8L1380.5 624.1M1358 645.8L1373.5 674.2M1358 645.8L1396.7 651.1M1380.5 624.1L1397.9 600.8M1380.5 624.1L1396.7 651.1M1380.5 624.1L1420 620.2M1397.9 600.8L1418.3 580.3M1397.9 600.8L1420 620.2M1418.3 580.3L1438.2 557M1418.3 580.3L1420 620.2M1418.3 580.3L1445 594.3M1438.2 557L1458.7 532.5M1438.2 557L1445 594.3M1438.2 557L1468.6 567.4M1458.7 532.5L1479.5 506.9M1458.7 532.5L1468.6 567.4M1458.7 532.5L1490.8 540.1M1479.5 506.9L1505.8 485.5M1479.5 506.9L1490.8 540.1M1479.5 506.9L1511.2 517.3M1505.8 485.5L1531.7 467M1505.8 485.5L1511.2 517.3M1505.8 485.5L1538.4 501.6M1531.7 467L1560.2 452.8M1531.7 467L1538.4 501.6M1531.7 467L1565 483.3M1560.2 452.8L1586.5 439.5M1560.2 452.8L1565 483.3M1560.2 452.8L1597.4 467.5M1586.5 439.5L1614.6 432.3M1586.5 439.5L1597.4 467.5M1614.6 432.3L1644.9 426.4M1614.6 432.3L1597.4 467.5M1614.6 432.3L1631.5 460.1M1644.9 426.4L1676.5 420.8M1644.9 426.4L1631.5 460.1M1644.9 426.4L1665.7 452.3M1676.5 420.8L1709.2 414M1676.5 420.8L1665.7 452.3M1676.5 420.8L1699.7 443.7M1709.2 414L1731.9 428.4M1709.2 414L1699.7 443.7M1731.9 428.4L1755.3 415.9M1731.9 428.4L1699.7 443.7M1731.9 428.4L1730.7 460.3M1731.9 428.4L1763.8 445.9M1755.3 415.9L1785.2 420.7M1755.3 415.9L1763.8 445.9M1785.2 420.7L1814.1 419.3M1785.2 420.7L1763.8 445.9M1785.2 420.7L1797.6 453.5M1814.1 419.3L1848.1 418.6M1814.1 419.3L1797.6 453.5M1814.1 419.3L1831.2 443.9M1848.1 418.6L1879.9 417.7M1848.1 418.6L1831.2 443.9M1848.1 418.6L1865.1 450.5M1879.9 417.7L1865.1 450.5M140 455.1L171.8 448.4M140 455.1L137.5 491.5M140 455.1L172.3 480.7M171.8 448.4L206.3 470.3M171.8 448.4L172.3 480.7M206.3 470.3L234.8 447.5M206.3 470.3L172.3 480.7M206.3 470.3L211.6 502.1M206.3 470.3L244.5 480.5M234.8 447.5L267.4 452.7M234.8 447.5L244.5 480.5M267.4 452.7L298.5 452.5M267.4 452.7L244.5 480.5M267.4 452.7L282.8 488.9M298.5 452.5L332.3 447.7M298.5 452.5L282.8 488.9M298.5 452.5L321.3 479.8M332.3 447.7L365.8 443.5M332.3 447.7L321.3 479.8M332.3 447.7L357.9 475.4M393.6 459.5L365.8 443.5M393.6 459.5L425.4 448.7M393.6 459.5L357.9 475.4M393.6 459.5L389.7 496.2M393.6 459.5L424.4 481.7M365.8 443.5L357.9 475.4M425.4 448.7L456.2 460.6M425.4 448.7L424.4 481.7M456.2 460.6L486.2 472.4M456.2 460.6L424.4 481.7M456.2 460.6L457.2 497.2M486.2 472.4L514.6 483.4M486.2 472.4L457.2 497.2M486.2 472.4L490.5 512.1M514.6 483.4L543.5 494.4M514.6 483.4L490.5 512.1M514.6 483.4L523.6 522.1M543.5 494.4L564.1 516.7M543.5 494.4L523.6 522.1M564.1 516.7L586.3 538.5M564.1 516.7L523.6 522.1M564.1 516.7L545.6 547.7M586.3 538.5L612.1 560.9M586.3 538.5L545.6 547.7M586.3 538.5L574.1 571.2M612.1 560.9L637 586.6M612.1 560.9L574.1 571.2M612.1 560.9L602.1 595.5M637 586.6L663.7 610.2M637 586.6L602.1 595.5M637 586.6L629.9 620.6M663.7 610.2L688.9 638.1M663.7 610.2L629.9 620.6M663.7 610.2L658.6 643.1M688.9 638.1L709.2 662.3M688.9 638.1L658.6 643.1M688.9 638.1L671.2 675.4M709.2 662.3L737.4 681.9M709.2 662.3L702.1 696.6M709.2 662.3L671.2 675.4M737.4 681.9L766.4 701.2M737.4 681.9L702.1 696.6M737.4 681.9L733.2 717M766.4 701.2L796.4 719.9M766.4 701.2L733.2 717M766.4 701.2L764.8 736.8M796.4 719.9L827.3 737.6M796.4 719.9L764.8 736.8M796.4 719.9L796.9 755.9M827.3 737.6L858.9 754.3M827.3 737.6L796.9 755.9M827.3 737.6L829.5 774M858.9 754.3L891.1 770.4M858.9 754.3L829.5 774M858.9 754.3L862.1 791.3M891.1 770.4L923.6 786.7M891.1 770.4L862.1 791.3M891.1 770.4L894.5 808.3M923.6 786.7L956.9 784.2M923.6 786.7L894.5 808.3M923.6 786.7L924.4 828.3M923.6 786.7L955.8 814.3M956.9 784.2L990.2 797.3M956.9 784.2L955.8 814.3M990.2 797.3L1021.3 820.9M990.2 797.3L955.8 814.3M990.2 797.3L987.7 834.1M1021.3 820.9L1056.4 800.9M1021.3 820.9L987.7 834.1M1021.3 820.9L1019.8 858.3M1021.3 820.9L1053.2 837M1056.4 800.9L1084.6 815.7M1056.4 800.9L1053.2 837M1084.6 815.7L1112.3 799.5M1084.6 815.7L1053.2 837M1084.6 815.7L1084.3 856.9M1084.6 815.7L1115.4 837M1112.3 799.5L1144.1 789M1112.3 799.5L1115.4 837M1112.3 799.5L1146.9 821M1144.1 789L1180.3 804.2M1144.1 789L1146.9 821M1180.3 804.2L1211.2 777.6M1180.3 804.2L1146.9 821M1180.3 804.2L1181.5 840.3M1180.3 804.2L1213.7 816M1211.2 777.6L1244.1 760.5M1211.2 777.6L1213.7 816M1211.2 777.6L1244.4 796.1M1244.1 760.5L1275.5 743M1244.1 760.5L1244.4 796.1M1244.1 760.5L1277.4 777.8M1275.5 743L1304.9 725.2M1275.5 743L1277.4 777.8M1275.5 743L1310.5 758.4M1304.9 725.2L1326.6 704.1M1304.9 725.2L1310.5 758.4M1304.9 725.2L1343.1 735.9M1326.6 704.1L1353.2 696.5M1326.6 704.1L1343.1 735.9M1353.2 696.5L1373.5 674.2M1353.2 696.5L1343.1 735.9M1353.2 696.5L1378.4 715.9M1373.5 674.2L1396.7 651.1M1373.5 674.2L1378.4 715.9M1373.5 674.2L1407.2 690.8M1396.7 651.1L1420 620.2M1396.7 651.1L1407.2 690.8M1396.7 651.1L1430.3 653.8M1420 620.2L1445 594.3M1420 620.2L1430.3 653.8M1420 620.2L1458.7 628.9M1445 594.3L1468.6 567.4M1445 594.3L1458.7 628.9M1445 594.3L1480.9 601.7M1468.6 567.4L1490.8 540.1M1468.6 567.4L1480.9 601.7M1468.6 567.4L1506.1 569.1M1490.8 540.1L1511.2 517.3M1490.8 540.1L1506.1 569.1M1490.8 540.1L1534.1 543.2M1511.2 517.3L1538.4 501.6M1511.2 517.3L1534.1 543.2M1538.4 501.6L1565 483.3M1538.4 501.6L1534.1 543.2M1538.4 501.6L1566.3 525M1565 483.3L1597.4 467.5M1565 483.3L1566.3 525M1565 483.3L1592.5 504.5M1597.4 467.5L1631.5 460.1M1597.4 467.5L1592.5 504.5M1597.4 467.5L1624.6 496.4M1631.5 460.1L1665.7 452.3M1631.5 460.1L1624.6 496.4M1631.5 460.1L1659.2 486.7M1665.7 452.3L1699.7 443.7M1665.7 452.3L1659.2 486.7M1665.7 452.3L1695.2 475.9M1699.7 443.7L1730.7 460.3M1699.7 443.7L1695.2 475.9M1730.7 460.3L1763.8 445.9M1730.7 460.3L1695.2 475.9M1730.7 460.3L1727.4 495M1730.7 460.3L1764.1 477.5M1763.8 445.9L1797.6 453.5M1763.8 445.9L1764.1 477.5M1797.6 453.5L1831.2 443.9M1797.6 453.5L1764.1 477.5M1797.6 453.5L1797.3 490.6M1797.6 453.5L1831.5 474.1M1831.2 443.9L1865.1 450.5M1831.2 443.9L1831.5 474.1M1865.1 450.5L1898.7 439.6M1865.1 450.5L1831.5 474.1M1865.1 450.5L1865.5 487M1865.1 450.5L1899.3 469.9M137.5 491.5L172.3 480.7M137.5 491.5L175.2 516M137.5 491.5L138.2 530.4M172.3 480.7L211.6 502.1M172.3 480.7L175.2 516M211.6 502.1L244.5 480.5M211.6 502.1L175.2 516M211.6 502.1L252.2 516.1M211.6 502.1L215.6 538.4M244.5 480.5L282.8 488.9M244.5 480.5L252.2 516.1M282.8 488.9L321.3 479.8M282.8 488.9L252.2 516.1M282.8 488.9L315.6 513.8M282.8 488.9L289 534M321.3 479.8L357.9 475.4M321.3 479.8L351.8 511.1M321.3 479.8L315.6 513.8M357.9 475.4L351.8 511.1M357.9 475.4L389.7 496.2M351.8 511.1L389.7 496.2M351.8 511.1L315.6 513.8M351.8 511.1L335.8 551.7M351.8 511.1L381.1 536M389.7 496.2L424.4 481.7M389.7 496.2L422.6 519.3M389.7 496.2L381.1 536M424.4 481.7L457.2 497.2M424.4 481.7L422.6 519.3M457.2 497.2L490.5 512.1M457.2 497.2L422.6 519.3M457.2 497.2L460.3 537.4M490.5 512.1L523.6 522.1M490.5 512.1L460.3 537.4M490.5 512.1L500.1 554.6M523.6 522.1L545.6 547.7M523.6 522.1L500.1 554.6M545.6 547.7L574.1 571.2M545.6 547.7L500.1 554.6M545.6 547.7L532.7 582.3M574.1 571.2L602.1 595.5M574.1 571.2L532.7 582.3M574.1 571.2L565.3 608.8M602.1 595.5L629.9 620.6M602.1 595.5L565.3 608.8M602.1 595.5L596.9 635.1M629.9 620.6L658.6 643.1M629.9 620.6L596.9 635.1M629.9 620.6L630.1 660.4M658.6 643.1L630.1 660.4M658.6 643.1L671.2 675.4M702.1 696.6L733.2 717M702.1 696.6L671.2 675.4M702.1 696.6L665.7 715.2M702.1 696.6L697.8 735.9M733.2 717L764.8 736.8M733.2 717L697.8 735.9M733.2 717L730.5 756.3M764.8 736.8L796.9 755.9M764.8 736.8L730.5 756.3M764.8 736.8L763.7 776.2M796.9 755.9L829.5 774M796.9 755.9L763.7 776.2M796.9 755.9L797.1 795.5M829.5 774L862.1 791.3M829.5 774L797.1 795.5M829.5 774L830.4 814.2M862.1 791.3L894.5 808.3M862.1 791.3L830.4 814.2M862.1 791.3L863.4 832.6M894.5 808.3L924.4 828.3M894.5 808.3L863.4 832.6M894.5 808.3L894.4 852.4M924.4 828.3L955.8 814.3M924.4 828.3L894.4 852.4M924.4 828.3L955.3 854.2M924.4 828.3L924.3 873.9M955.8 814.3L987.7 834.1M955.8 814.3L955.3 854.2M987.7 834.1L1019.8 858.3M987.7 834.1L955.3 854.2M987.7 834.1L986.9 876.9M1019.8 858.3L1053.2 837M1019.8 858.3L986.9 876.9M1019.8 858.3L1019.1 899.8M1019.8 858.3L1052.2 879.1M1053.2 837L1084.3 856.9M1053.2 837L1052.2 879.1M1084.3 856.9L1115.4 837M1084.3 856.9L1052.2 879.1M1084.3 856.9L1084.2 900.1M1084.3 856.9L1116.1 879.7M1115.4 837L1146.9 821M1115.4 837L1148.4 860.3M1115.4 837L1116.1 879.7M1146.9 821L1181.5 840.3M1146.9 821L1148.4 860.3M1181.5 840.3L1213.7 816M1181.5 840.3L1148.4 860.3M1181.5 840.3L1215 859M1181.5 840.3L1182.4 881.1M1213.7 816L1244.4 796.1M1213.7 816L1215 859M1213.7 816L1246.6 837.9M1244.4 796.1L1277.4 777.8M1244.4 796.1L1278.4 817.6M1244.4 796.1L1246.6 837.9M1277.4 777.8L1310.5 758.4M1277.4 777.8L1278.4 817.6M1277.4 777.8L1311.8 797.9M1310.5 758.4L1343.1 735.9M1310.5 758.4L1344.9 776.6M1310.5 758.4L1311.8 797.9M1343.1 735.9L1378.4 715.9M1343.1 735.9L1344.9 776.6M1343.1 735.9L1377.6 756.3M1378.4 715.9L1407.2 690.8M1378.4 715.9L1411 735.5M1378.4 715.9L1377.6 756.3M1407.2 690.8L1430.3 653.8M1407.2 690.8L1443.8 685.3M1407.2 690.8L1411 735.5M1407.2 690.8L1443.1 720.8M1430.3 653.8L1458.7 628.9M1430.3 653.8L1474 662.3M1430.3 653.8L1443.8 685.3M1458.7 628.9L1480.9 601.7M1458.7 628.9L1474 662.3M1458.7 628.9L1504.3 639.4M1480.9 601.7L1506.1 569.1M1480.9 601.7L1516.3 604.2M1480.9 601.7L1504.3 639.4M1506.1 569.1L1534.1 543.2M1506.1 569.1L1546.3 580.3M1506.1 569.1L1516.3 604.2M1534.1 543.2L1566.3 525M1534.1 543.2L1546.3 580.3M1534.1 543.2L1577.8 559.8M1566.3 525L1592.5 504.5M1566.3 525L1611.7 539M1566.3 525L1577.8 559.8M1592.5 504.5L1624.6 496.4M1592.5 504.5L1611.7 539M1624.6 496.4L1659.2 486.7M1624.6 496.4L1611.7 539M1624.6 496.4L1650.3 526.4M1659.2 486.7L1695.2 475.9M1659.2 486.7L1688.8 512.7M1659.2 486.7L1650.3 526.4M1695.2 475.9L1727.4 495M1695.2 475.9L1688.8 512.7M1727.4 495L1764.1 477.5M1727.4 495L1688.8 512.7M1727.4 495L1761.3 514.4M1727.4 495L1723.4 532.8M1764.1 477.5L1797.3 490.6M1764.1 477.5L1761.3 514.4M1797.3 490.6L1831.5 474.1M1797.3 490.6L1761.3 514.4M1797.3 490.6L1831.2 511.3M1797.3 490.6L1795.4 530.8M1831.5 474.1L1865.5 487M1831.5 474.1L1831.2 511.3M1865.5 487L1899.3 469.9M1865.5 487L1831.2 511.3M1865.5 487L1900.4 506.1M1865.5 487L1865.6 527.6M175.2 516L138.2 530.4M175.2 516L177.3 556.4M175.2 516L215.6 538.4M252.2 516.1L215.6 538.4M252.2 516.1L254.9 558.8M252.2 516.1L289 534M315.6 513.8L289 534M315.6 513.8L335.8 551.7M422.6 519.3L381.1 536M422.6 519.3L418.5 558.5M422.6 519.3L460.3 537.4M138.2 530.4L177.3 556.4M138.2 530.4L140 575.4M177.3 556.4L215.6 538.4M177.3 556.4L140 575.4M177.3 556.4L179 600.3M177.3 556.4L217.1 581M215.6 538.4L254.9 558.8M215.6 538.4L217.1 581M254.9 558.8L289 534M254.9 558.8L217.1 581M254.9 558.8L258.6 600.8M254.9 558.8L297.5 576.1M289 534L335.8 551.7M289 534L297.5 576.1M335.8 551.7L381.1 536M335.8 551.7L297.5 576.1M335.8 551.7L335.9 597.1M335.8 551.7L375 576.9M381.1 536L418.5 558.5M381.1 536L375 576.9M418.5 558.5L460.3 537.4M418.5 558.5L375 576.9M418.5 558.5L414.5 599.6M418.5 558.5L457.7 577.6M460.3 537.4L500.1 554.6M460.3 537.4L457.7 577.6M500.1 554.6L457.7 577.6M500.1 554.6L493 598.9M500.1 554.6L532.7 582.3M140 575.4L179 600.3M140 575.4L141.6 620.4M179 600.3L217.1 581M179 600.3L141.6 620.4M179 600.3L180.8 644.1M179 600.3L219.4 623.3M217.1 581L258.6 600.8M217.1 581L219.4 623.3M258.6 600.8L297.5 576.1M258.6 600.8L219.4 623.3M258.6 600.8L258.6 644.4M258.6 600.8L297.4 620.7M297.5 576.1L335.9 597.1M297.5 576.1L297.4 620.7M335.9 597.1L375 576.9M335.9 597.1L297.4 620.7M335.9 597.1L335.4 642.2M335.9 597.1L374.3 620.6M375 576.9L414.5 599.6M375 576.9L374.3 620.6M414.5 599.6L457.7 577.6M414.5 599.6L374.3 620.6M414.5 599.6L412 643.5M414.5 599.6L451.9 621.1M457.7 577.6L493 598.9M457.7 577.6L451.9 621.1M493 598.9L532.7 582.3M493 598.9L451.9 621.1M493 598.9L487.7 644.5M493 598.9L527.4 625.9M532.7 582.3L565.3 608.8M532.7 582.3L527.4 625.9M565.3 608.8L527.4 625.9M565.3 608.8L561.3 652.5M565.3 608.8L596.9 635.1M141.6 620.4L180.8 644.1M141.6 620.4L143 665.2M180.8 644.1L219.4 623.3M180.8 644.1L143 665.2M180.8 644.1L181.4 688.5M180.8 644.1L219.8 666.9M219.4 623.3L258.6 644.4M219.4 623.3L219.8 666.9M258.6 644.4L297.4 620.7M258.6 644.4L219.8 666.9M258.6 644.4L258.3 688.6M258.6 644.4L296.9 665.4M297.4 620.7L335.4 642.2M297.4 620.7L296.9 665.4M335.4 642.2L374.3 620.6M335.4 642.2L296.9 665.4M335.4 642.2L334.4 687.5M335.4 642.2L372.9 665.3M374.3 620.6L412 643.5M374.3 620.6L372.9 665.3M412 643.5L451.9 621.1M412 643.5L372.9 665.3M412 643.5L410 688.4M412 643.5L448.7 666.3M451.9 621.1L487.7 644.5M451.9 621.1L448.7 666.3M487.7 644.5L527.4 625.9M487.7 644.5L448.7 666.3M487.7 644.5L484.9 690.1M487.7 644.5L523.4 670.4M527.4 625.9L561.3 652.5M527.4 625.9L523.4 670.4M561.3 652.5L523.4 670.4M561.3 652.5L559.9 695.2M561.3 652.5L596.9 635.1M561.3 652.5L596 676.7M143 665.2L181.4 688.5M143 665.2L143.6 710.3M181.4 688.5L219.8 666.9M181.4 688.5L143.6 710.3M181.4 688.5L181.7 733.2M181.4 688.5L219.8 711.2M219.8 666.9L258.3 688.6M219.8 666.9L219.8 711.2M258.3 688.6L296.9 665.4M258.3 688.6L219.8 711.2M258.3 688.6L257.9 733.3M258.3 688.6L296.2 710.4M296.9 665.4L334.4 687.5M296.9 665.4L296.2 710.4M334.4 687.5L372.9 665.3M334.4 687.5L296.2 710.4M334.4 687.5L333.5 732.9M334.4 687.5L371.6 710.6M372.9 665.3L410 688.4M372.9 665.3L371.6 710.6M410 688.4L448.7 666.3M410 688.4L371.6 710.6M410 688.4L408.6 733.8M410 688.4L446.7 711.7M448.7 666.3L484.9 690.1M448.7 666.3L446.7 711.7M484.9 690.1L523.4 670.4M484.9 690.1L446.7 711.7M484.9 690.1L483.7 735.3M484.9 690.1L522.1 714.6M523.4 670.4L559.9 695.2M523.4 670.4L522.1 714.6M559.9 695.2L522.1 714.6M559.9 695.2L559.7 737.3M559.9 695.2L596 676.7M559.9 695.2L596.7 716.4M143.6 710.3L181.7 733.2M143.6 710.3L143.9 755.4M181.7 733.2L219.8 711.2M181.7 733.2L143.9 755.4M181.7 733.2L181.7 778.3M181.7 733.2L219.6 755.9M219.8 711.2L257.9 733.3M219.8 711.2L219.6 755.9M257.9 733.3L296.2 710.4M257.9 733.3L219.6 755.9M257.9 733.3L257.4 778.3M257.9 733.3L295.5 755.6M296.2 710.4L333.5 732.9M296.2 710.4L295.5 755.6M333.5 732.9L371.6 710.6M333.5 732.9L295.5 755.6M333.5 732.9L332.9 778.4M333.5 732.9L370.7 756M371.6 710.6L408.6 733.8M371.6 710.6L370.7 756M408.6 733.8L446.7 711.7M408.6 733.8L370.7 756M408.6 733.8L408 779.2M408.6 733.8L445.8 757.1M446.7 711.7L483.7 735.3M446.7 711.7L445.8 757.1M483.7 735.3L522.1 714.6M483.7 735.3L445.8 757.1M483.7 735.3L483.4 780.1M483.7 735.3L521.7 758.4M522.1 714.6L559.7 737.3M522.1 714.6L521.7 758.4M559.7 737.3L521.7 758.4M559.7 737.3L558.5 780.5M559.7 737.3L596.7 716.4M559.7 737.3L594.8 757.7M143.9 755.4L181.7 778.3M143.9 755.4L143.9 800.7M181.7 778.3L219.6 755.9M181.7 778.3L143.9 800.7M181.7 778.3L181.5 823.4M181.7 778.3L219.4 800.9M219.6 755.9L257.4 778.3M219.6 755.9L219.4 800.9M257.4 778.3L295.5 755.6M257.4 778.3L219.4 800.9M257.4 778.3L257 823.5M257.4 778.3L294.9 800.9M295.5 755.6L332.9 778.4M295.5 755.6L294.9 800.9M332.9 778.4L370.7 756M332.9 778.4L294.9 800.9M332.9 778.4L332.4 823.7M332.9 778.4L370.3 801.4M370.7 756L408 779.2M370.7 756L370.3 801.4M408 779.2L445.8 757.1M408 779.2L370.3 801.4M408 779.2L408 824.5M408 779.2L445.7 802.3M445.8 757.1L483.4 780.1M445.8 757.1L445.7 802.3M483.4 780.1L521.7 758.4M483.4 780.1L445.7 802.3M483.4 780.1L483.4 825.2M483.4 780.1L521.2 802.8M521.7 758.4L558.5 780.5M521.7 758.4L521.2 802.8M558.5 780.5L521.2 802.8M558.5 780.5L557.8 824.5M558.5 780.5L594.8 757.7M558.5 780.5L593.6 799.3M143.9 800.7L181.5 823.4M143.9 800.7L143.8 846M181.5 823.4L219.4 800.9M181.5 823.4L143.8 846M181.5 823.4L181.4 868.8M181.5 823.4L219.1 846.1M219.4 800.9L257 823.5M219.4 800.9L219.1 846.1M257 823.5L294.9 800.9M257 823.5L219.1 846.1M257 823.5L256.6 868.7M257 823.5L294.5 846.1M294.9 800.9L332.4 823.7M294.9 800.9L294.5 846.1M332.4 823.7L370.3 801.4M332.4 823.7L294.5 846.1M332.4 823.7L332 868.9M332.4 823.7L370 846.6M370.3 801.4L408 824.5M370.3 801.4L370 846.6M408 824.5L445.7 802.3M408 824.5L370 846.6M408 824.5L407.8 869.4M408 824.5L445.9 847.5M445.7 802.3L483.4 825.2M445.7 802.3L445.9 847.5M483.4 825.2L521.2 802.8M483.4 825.2L445.9 847.5M483.4 825.2L484.2 870.3M483.4 825.2L521.4 847.7M521.2 802.8L557.8 824.5M521.2 802.8L521.4 847.7M557.8 824.5L521.4 847.7M557.8 824.5L558 869.4M557.8 824.5L593.6 799.3M557.8 824.5L593.1 840.5M143.8 846L181.4 868.8M143.8 846L143.7 891.5M181.4 868.8L219.1 846.1M181.4 868.8L143.7 891.5M181.4 868.8L181.2 914.1M181.4 868.8L218.9 891.4M219.1 846.1L256.6 868.7M219.1 846.1L218.9 891.4M256.6 868.7L294.5 846.1M256.6 868.7L218.9 891.4M256.6 868.7L256.3 914M256.6 868.7L294.1 891.4M294.5 846.1L332 868.9M294.5 846.1L294.1 891.4M332 868.9L370 846.6M332 868.9L294.1 891.4M332 868.9L331.7 914M332 868.9L369.6 891.6M370 846.6L407.8 869.4M370 846.6L369.6 891.6M407.8 869.4L445.9 847.5M407.8 869.4L369.6 891.6M407.8 869.4L407.4 914.3M407.8 869.4L445.7 892.2M445.9 847.5L484.2 870.3M445.9 847.5L445.7 892.2M484.2 870.3L521.4 847.7M484.2 870.3L445.7 892.2M484.2 870.3L484 914.7M484.2 870.3L522.9 893M521.4 847.7L558 869.4M521.4 847.7L522.9 893M558 869.4L522.9 893M558 869.4L560.6 915.5M558 869.4L593.1 840.5M558 869.4L593.5 880.3M143.7 891.5L181.2 914.1M143.7 891.5L143.6 936.9M181.2 914.1L218.9 891.4M181.2 914.1L143.6 936.9M181.2 914.1L181.1 959.6M181.2 914.1L218.7 936.8M218.9 891.4L256.3 914M218.9 891.4L218.7 936.8M256.3 914L294.1 891.4M256.3 914L218.7 936.8M256.3 914L256.1 959.3M256.3 914L293.8 936.6M294.1 891.4L331.7 914M294.1 891.4L293.8 936.6M331.7 914L369.6 891.6M331.7 914L293.8 936.6M331.7 914L331.3 959.2M331.7 914L369.2 936.7M369.6 891.6L407.4 914.3M369.6 891.6L369.2 936.7M407.4 914.3L445.7 892.2M407.4 914.3L369.2 936.7M407.4 914.3L406.7 959.2M407.4 914.3L445.1 936.8M445.7 892.2L484 914.7M445.7 892.2L445.1 936.8M484 914.7L522.9 893M484 914.7L445.1 936.8M484 914.7L482.8 959.1M484 914.7L522.2 937M522.9 893L560.6 915.5M522.9 893L522.2 937M560.6 915.5L522.2 937M560.6 915.5L556.7 961.3M560.6 915.5L593.5 880.3M560.6 915.5L598.3 916.2M560.6 915.5L592.6 951.8M143.6 936.9L181.1 959.6M143.6 936.9L143.5 982.5M181.1 959.6L218.7 936.8M181.1 959.6L143.5 982.5M181.1 959.6L180.9 1005M181.1 959.6L218.5 982.2M218.7 936.8L256.1 959.3M218.7 936.8L218.5 982.2M256.1 959.3L293.8 936.6M256.1 959.3L218.5 982.2M256.1 959.3L256 1004.6M256.1 959.3L293.6 982M293.8 936.6L331.3 959.2M293.8 936.6L293.6 982M331.3 959.2L369.2 936.7M331.3 959.2L293.6 982M331.3 959.2L331.1 1004.6M331.3 959.2L368.7 981.9M369.2 936.7L406.7 959.2M369.2 936.7L368.7 981.9M406.7 959.2L445.1 936.8M406.7 959.2L368.7 981.9M406.7 959.2L405.9 1004.4M406.7 959.2L444.1 981.6M445.1 936.8L482.8 959.1M445.1 936.8L444.1 981.6M482.8 959.1L522.2 937M482.8 959.1L444.1 981.6M482.8 959.1L480.7 1004.3M482.8 959.1L519.3 982.3M522.2 937L556.7 961.3M522.2 937L519.3 982.3M556.7 961.3L519.3 982.3M556.7 961.3L554.9 1006.1M556.7 961.3L592.6 951.8M556.7 961.3L591 991.3M143.5 982.5L180.9 1005M143.5 982.5L143.5 1028.1M180.9 1005L218.5 982.2M180.9 1005L143.5 1028.1M180.9 1005L180.8 1050.4M180.9 1005L218.4 1027.6M218.5 982.2L256 1004.6M218.5 982.2L218.4 1027.6M256 1004.6L293.6 982M256 1004.6L218.4 1027.6M256 1004.6L256 1049.9M256 1004.6L293.6 1027.4M293.6 982L331.1 1004.6M293.6 982L293.6 1027.4M331.1 1004.6L368.7 981.9M331.1 1004.6L293.6 1027.4M331.1 1004.6L331 1050.1M331.1 1004.6L368.3 1027.5M368.7 981.9L405.9 1004.4M368.7 981.9L368.3 1027.5M405.9 1004.4L444.1 981.6M405.9 1004.4L368.3 1027.5M405.9 1004.4L405.1 1050M405.9 1004.4L442.6 1027.1M444.1 981.6L480.7 1004.3M444.1 981.6L442.6 1027.1M480.7 1004.3L519.3 982.3M480.7 1004.3L442.6 1027.1M480.7 1004.3L479.2 1049.6M480.7 1004.3L517.4 1027.3M519.3 982.3L554.9 1006.1M519.3 982.3L517.4 1027.3M554.9 1006.1L517.4 1027.3M554.9 1006.1L553.7 1050.1M554.9 1006.1L591 991.3M554.9 1006.1L589.9 1032.1M143.5 1028.1L180.8 1050.4M143.5 1028.1L143.4 1073.9M180.8 1050.4L218.4 1027.6M180.8 1050.4L143.4 1073.9M180.8 1050.4L180.7 1095.7M180.8 1050.4L218.3 1072.9M218.4 1027.6L256 1049.9M218.4 1027.6L218.3 1072.9M256 1049.9L293.6 1027.4M256 1049.9L218.3 1072.9M256 1049.9L256 1094.8M256 1049.9L293.7 1072.9M293.6 1027.4L331 1050.1M293.6 1027.4L293.7 1072.9M331 1050.1L368.3 1027.5M331 1050.1L293.7 1072.9M331 1050.1L331.2 1095.6M331 1050.1L368.1 1073.5M368.3 1027.5L405.1 1050M368.3 1027.5L368.1 1073.5M405.1 1050L442.6 1027.1M405.1 1050L368.1 1073.5M405.1 1050L404.9 1096M405.1 1050L441.7 1073.1M442.6 1027.1L479.2 1049.6M442.6 1027.1L441.7 1073.1M479.2 1049.6L517.4 1027.3M479.2 1049.6L441.7 1073.1M479.2 1049.6L478.2 1094.9M479.2 1049.6L516.1 1072.1M517.4 1027.3L553.7 1050.1M517.4 1027.3L516.1 1072.1M553.7 1050.1L516.1 1072.1M553.7 1050.1L552.9 1093.6M553.7 1050.1L589.9 1032.1M553.7 1050.1L589.1 1073.4M1688.8 512.7L1650.3 526.4M1688.8 512.7L1685.2 549.9M1688.8 512.7L1723.4 532.8M1761.3 514.4L1723.4 532.8M1761.3 514.4L1758.5 552.1M1761.3 514.4L1795.4 530.8M1831.2 511.3L1795.4 530.8M1831.2 511.3L1829.9 550.1M1831.2 511.3L1865.6 527.6M1900.4 506.1L1865.6 527.6M1611.7 539L1650.3 526.4M1611.7 539L1577.8 559.8M1611.7 539L1613 580.6M1611.7 539L1647.6 564.2M1650.3 526.4L1685.2 549.9M1650.3 526.4L1647.6 564.2M1685.2 549.9L1723.4 532.8M1685.2 549.9L1647.6 564.2M1685.2 549.9L1684 587.5M1685.2 549.9L1721.1 570.5M1723.4 532.8L1758.5 552.1M1723.4 532.8L1721.1 570.5M1758.5 552.1L1795.4 530.8M1758.5 552.1L1721.1 570.5M1758.5 552.1L1756.9 590.2M1758.5 552.1L1793.6 570M1795.4 530.8L1829.9 550.1M1795.4 530.8L1793.6 570M1829.9 550.1L1865.6 527.6M1829.9 550.1L1793.6 570M1829.9 550.1L1828.6 589M1829.9 550.1L1864.6 567.5M1865.6 527.6L1899.9 546M1865.6 527.6L1864.6 567.5M1899.9 546L1864.6 567.5M1546.3 580.3L1577.8 559.8M1546.3 580.3L1516.3 604.2M1546.3 580.3L1546.2 623.3M1546.3 580.3L1579.7 601.6M1577.8 559.8L1613 580.6M1577.8 559.8L1579.7 601.6M1613 580.6L1647.6 564.2M1613 580.6L1579.7 601.6M1613 580.6L1614.5 622M1613 580.6L1648.6 603.8M1647.6 564.2L1684 587.5M1647.6 564.2L1648.6 603.8M1684 587.5L1721.1 570.5M1684 587.5L1648.6 603.8M1684 587.5L1684.6 626.2M1684 587.5L1720.3 608.6M1721.1 570.5L1756.9 590.2M1721.1 570.5L1720.3 608.6M1756.9 590.2L1793.6 570M1756.9 590.2L1720.3 608.6M1756.9 590.2L1756.3 628.7M1756.9 590.2L1792.4 609M1793.6 570L1828.6 589M1793.6 570L1792.4 609M1828.6 589L1864.6 567.5M1828.6 589L1792.4 609M1828.6 589L1827.7 628.2M1828.6 589L1863.4 607.3M1864.6 567.5L1899 586M1864.6 567.5L1863.4 607.3M1899 586L1863.4 607.3M1516.3 604.2L1546.2 623.3M1516.3 604.2L1504.3 639.4M1546.2 623.3L1579.7 601.6M1546.2 623.3L1504.3 639.4M1546.2 623.3L1543.1 660.5M1546.2 623.3L1580.6 642.5M1579.7 601.6L1614.5 622M1579.7 601.6L1580.6 642.5M1614.5 622L1648.6 603.8M1614.5 622L1580.6 642.5M1614.5 622L1615.5 662.8M1614.5 622L1649.8 643.9M1648.6 603.8L1684.6 626.2M1648.6 603.8L1649.8 643.9M1684.6 626.2L1720.3 608.6M1684.6 626.2L1649.8 643.9M1684.6 626.2L1685.4 665.7M1684.6 626.2L1720.6 647.4M1720.3 608.6L1756.3 628.7M1720.3 608.6L1720.6 647.4M1756.3 628.7L1792.4 609M1756.3 628.7L1720.6 647.4M1756.3 628.7L1756.3 667.8M1756.3 628.7L1791.9 648.2M1792.4 609L1827.7 628.2M1792.4 609L1791.9 648.2M1827.7 628.2L1863.4 607.3M1827.7 628.2L1791.9 648.2M1827.7 628.2L1827.2 667.7M1827.7 628.2L1862.7 647.1M1863.4 607.3L1898 626.1M1863.4 607.3L1862.7 647.1M1898 626.1L1862.7 647.1M596.9 635.1L630.1 660.4M596.9 635.1L596 676.7M630.1 660.4L596 676.7M630.1 660.4L633.2 696.8M630.1 660.4L671.2 675.4M1474 662.3L1504.3 639.4M1474 662.3L1443.8 685.3M1474 662.3L1479.5 702.7M1474 662.3L1510.9 680.1M1504.3 639.4L1543.1 660.5M1504.3 639.4L1510.9 680.1M1543.1 660.5L1580.6 642.5M1543.1 660.5L1510.9 680.1M1543.1 660.5L1546.7 701.1M1543.1 660.5L1580 681.6M1580.6 642.5L1615.5 662.8M1580.6 642.5L1580 681.6M1615.5 662.8L1649.8 643.9M1615.5 662.8L1580 681.6M1615.5 662.8L1615.8 702.8M1615.5 662.8L1650.7 684.1M1649.8 643.9L1685.4 665.7M1649.8 643.9L1650.7 684.1M1685.4 665.7L1720.6 647.4M1685.4 665.7L1650.7 684.1M1685.4 665.7L1686.1 705.5M1685.4 665.7L1721 686.8M1720.6 647.4L1756.3 667.8M1720.6 647.4L1721 686.8M1756.3 667.8L1791.9 648.2M1756.3 667.8L1721 686.8M1756.3 667.8L1756.5 707.2M1756.3 667.8L1791.8 687.6M1791.9 648.2L1827.2 667.7M1791.9 648.2L1791.8 687.6M1827.2 667.7L1862.7 647.1M1827.2 667.7L1791.8 687.6M1827.2 667.7L1827 707.4M1827.2 667.7L1862.2 687M1862.7 647.1L1897.3 666.3M1862.7 647.1L1862.2 687M1897.3 666.3L1862.2 687M596 676.7L633.2 696.8M596 676.7L596.7 716.4M633.2 696.8L671.2 675.4M633.2 696.8L596.7 716.4M633.2 696.8L630.1 736.7M633.2 696.8L665.7 715.2M671.2 675.4L665.7 715.2M1443.8 685.3L1479.5 702.7M1443.8 685.3L1443.1 720.8M1479.5 702.7L1510.9 680.1M1479.5 702.7L1443.1 720.8M1479.5 702.7L1479.4 741.7M1479.5 702.7L1514.1 721.7M1510.9 680.1L1546.7 701.1M1510.9 680.1L1514.1 721.7M1546.7 701.1L1580 681.6M1546.7 701.1L1514.1 721.7M1546.7 701.1L1548.8 742.2M1546.7 701.1L1582 722.2M1580 681.6L1615.8 702.8M1580 681.6L1582 722.2M1615.8 702.8L1650.7 684.1M1615.8 702.8L1582 722.2M1615.8 702.8L1617.2 743.3M1615.8 702.8L1651.3 724.2M1650.7 684.1L1686.1 705.5M1650.7 684.1L1651.3 724.2M1686.1 705.5L1721 686.8M1686.1 705.5L1651.3 724.2M1686.1 705.5L1686.7 745.4M1686.1 705.5L1721.5 726.4M1721 686.8L1756.5 707.2M1721 686.8L1721.5 726.4M1756.5 707.2L1791.8 687.6M1756.5 707.2L1721.5 726.4M1756.5 707.2L1756.8 747M1756.5 707.2L1791.8 727.3M1791.8 687.6L1827 707.4M1791.8 687.6L1791.8 727.3M1827 707.4L1862.2 687M1827 707.4L1791.8 727.3M1827 707.4L1826.9 747.3M1827 707.4L1861.9 727M1862.2 687L1896.9 706.5M1862.2 687L1861.9 727M1896.9 706.5L1861.9 727M596.7 716.4L630.1 736.7M596.7 716.4L594.8 757.7M630.1 736.7L665.7 715.2M630.1 736.7L594.8 757.7M630.1 736.7L628.3 777.3M630.1 736.7L662.9 755.9M665.7 715.2L697.8 735.9M665.7 715.2L662.9 755.9M697.8 735.9L662.9 755.9M697.8 735.9L696 776.3M697.8 735.9L730.5 756.3M1411 735.5L1443.1 720.8M1411 735.5L1377.6 756.3M1411 735.5L1411.9 777.6M1411 735.5L1445.4 760.5M1443.1 720.8L1479.4 741.7M1443.1 720.8L1445.4 760.5M1479.4 741.7L1514.1 721.7M1479.4 741.7L1445.4 760.5M1479.4 741.7L1480.7 781.9M1479.4 741.7L1514.7 762.1M1514.1 721.7L1548.8 742.2M1514.1 721.7L1514.7 762.1M1548.8 742.2L1582 722.2M1548.8 742.2L1514.7 762.1M1548.8 742.2L1549.6 782.9M1548.8 742.2L1583.5 763.1M1582 722.2L1617.2 743.3M1582 722.2L1583.5 763.1M1617.2 743.3L1651.3 724.2M1617.2 743.3L1583.5 763.1M1617.2 743.3L1618.3 784.1M1617.2 743.3L1652.3 764.6M1651.3 724.2L1686.7 745.4M1651.3 724.2L1652.3 764.6M1686.7 745.4L1721.5 726.4M1686.7 745.4L1652.3 764.6M1686.7 745.4L1687.4 785.7M1686.7 745.4L1721.9 766.4M1721.5 726.4L1756.8 747M1721.5 726.4L1721.9 766.4M1756.8 747L1791.8 727.3M1756.8 747L1721.9 766.4M1756.8 747L1757.1 787M1756.8 747L1791.9 767.3M1791.8 727.3L1826.9 747.3M1791.8 727.3L1791.9 767.3M1826.9 747.3L1861.9 727M1826.9 747.3L1791.9 767.3M1826.9 747.3L1826.9 787.4M1826.9 747.3L1861.8 767.2M1861.9 727L1896.7 746.8M1861.9 727L1861.8 767.2M1896.7 746.8L1861.8 767.2M594.8 757.7L628.3 777.3M594.8 757.7L593.6 799.3M628.3 777.3L662.9 755.9M628.3 777.3L593.6 799.3M628.3 777.3L627.7 817.8M628.3 777.3L661.8 796.5M662.9 755.9L696 776.3M662.9 755.9L661.8 796.5M696 776.3L730.5 756.3M696 776.3L661.8 796.5M696 776.3L695.8 816.5M696 776.3L729.7 796.5M730.5 756.3L763.7 776.2M730.5 756.3L729.7 796.5M763.7 776.2L729.7 796.5M763.7 776.2L763.6 816.5M763.7 776.2L797.1 795.5M1344.9 776.6L1377.6 756.3M1344.9 776.6L1311.8 797.9M1344.9 776.6L1346.2 818.3M1344.9 776.6L1379.1 798M1377.6 756.3L1411.9 777.6M1377.6 756.3L1379.1 798M1411.9 777.6L1445.4 760.5M1411.9 777.6L1379.1 798M1411.9 777.6L1413.4 819.4M1411.9 777.6L1446.6 800.7M1445.4 760.5L1480.7 781.9M1445.4 760.5L1446.6 800.7M1480.7 781.9L1514.7 762.1M1480.7 781.9L1446.6 800.7M1480.7 781.9L1481.6 822.3M1480.7 781.9L1515.6 802.7M1514.7 762.1L1549.6 782.9M1514.7 762.1L1515.6 802.7M1549.6 782.9L1583.5 763.1M1549.6 782.9L1515.6 802.7M1549.6 782.9L1550.4 823.7M1549.6 782.9L1584.3 803.8M1583.5 763.1L1618.3 784.1M1583.5 763.1L1584.3 803.8M1618.3 784.1L1652.3 764.6M1618.3 784.1L1584.3 803.8M1618.3 784.1L1619.1 824.8M1618.3 784.1L1653.2 805.1M1652.3 764.6L1687.4 785.7M1652.3 764.6L1653.2 805.1M1687.4 785.7L1721.9 766.4M1687.4 785.7L1653.2 805.1M1687.4 785.7L1688 826.1M1687.4 785.7L1722.4 806.6M1721.9 766.4L1757.1 787M1721.9 766.4L1722.4 806.6M1757.1 787L1791.9 767.3M1757.1 787L1722.4 806.6M1757.1 787L1757.4 827.2M1757.1 787L1792.1 807.4M1791.9 767.3L1826.9 787.4M1791.9 767.3L1792.1 807.4M1826.9 787.4L1861.8 767.2M1826.9 787.4L1792.1 807.4M1826.9 787.4L1827 827.6M1826.9 787.4L1861.7 807.4M1861.8 767.2L1896.5 787.1M1861.8 767.2L1861.7 807.4M1896.5 787.1L1861.7 807.4M593.6 799.3L627.7 817.8M593.6 799.3L593.1 840.5M627.7 817.8L661.8 796.5M627.7 817.8L593.1 840.5M627.7 817.8L628.2 857.7M627.7 817.8L662 836.7M661.8 796.5L695.8 816.5M661.8 796.5L662 836.7M695.8 816.5L729.7 796.5M695.8 816.5L662 836.7M695.8 816.5L696.8 856.6M695.8 816.5L730 836.7M729.7 796.5L763.6 816.5M729.7 796.5L730 836.7M763.6 816.5L797.1 795.5M763.6 816.5L730 836.7M763.6 816.5L763.6 857.1M763.6 816.5L797.1 836.1M797.1 795.5L830.4 814.2M797.1 795.5L797.1 836.1M830.4 814.2L797.1 836.1M830.4 814.2L830.2 855.4M830.4 814.2L863.4 832.6M1278.4 817.6L1311.8 797.9M1278.4 817.6L1246.6 837.9M1278.4 817.6L1280.6 859.2M1278.4 817.6L1313.2 838.8M1311.8 797.9L1346.2 818.3M1311.8 797.9L1313.2 838.8M1346.2 818.3L1379.1 798M1346.2 818.3L1313.2 838.8M1346.2 818.3L1347.4 859.8M1346.2 818.3L1380.4 839.6M1379.1 798L1413.4 819.4M1379.1 798L1380.4 839.6M1413.4 819.4L1446.6 800.7M1413.4 819.4L1380.4 839.6M1413.4 819.4L1414.6 861M1413.4 819.4L1447.9 841.6M1446.6 800.7L1481.6 822.3M1446.6 800.7L1447.9 841.6M1481.6 822.3L1515.6 802.7M1481.6 822.3L1447.9 841.6M1481.6 822.3L1482.6 863.1M1481.6 822.3L1516.4 843.4M1515.6 802.7L1550.4 823.7M1515.6 802.7L1516.4 843.4M1550.4 823.7L1584.3 803.8M1550.4 823.7L1516.4 843.4M1550.4 823.7L1551.1 864.4M1550.4 823.7L1585 844.6M1584.3 803.8L1619.1 824.8M1584.3 803.8L1585 844.6M1619.1 824.8L1653.2 805.1M1619.1 824.8L1585 844.6M1619.1 824.8L1619.7 865.6M1619.1 824.8L1653.8 845.8M1653.2 805.1L1688 826.1M1653.2 805.1L1653.8 845.8M1688 826.1L1722.4 806.6M1688 826.1L1653.8 845.8M1688 826.1L1688.6 866.7M1688 826.1L1722.9 846.9M1722.4 806.6L1757.4 827.2M1722.4 806.6L1722.9 846.9M1757.4 827.2L1792.1 807.4M1757.4 827.2L1722.9 846.9M1757.4 827.2L1757.7 867.6M1757.4 827.2L1792.3 847.6M1792.1 807.4L1827 827.6M1792.1 807.4L1792.3 847.6M1827 827.6L1861.7 807.4M1827 827.6L1792.3 847.6M1827 827.6L1827.1 868M1827 827.6L1861.8 847.8M1861.7 807.4L1896.5 827.5M1861.7 807.4L1861.8 847.8M1896.5 827.5L1861.8 847.8M593.1 840.5L628.2 857.7M593.1 840.5L593.5 880.3M628.2 857.7L662 836.7M628.2 857.7L593.5 880.3M628.2 857.7L631.3 896.5M628.2 857.7L663.9 876.5M662 836.7L696.8 856.6M662 836.7L663.9 876.5M696.8 856.6L730 836.7M696.8 856.6L663.9 876.5M696.8 856.6L697.2 897.5M696.8 856.6L730.3 877.4M730 836.7L763.6 857.1M730 836.7L730.3 877.4M763.6 857.1L797.1 836.1M763.6 857.1L730.3 877.4M763.6 857.1L763.4 898.1M763.6 857.1L796.8 877.1M797.1 836.1L830.2 855.4M797.1 836.1L796.8 877.1M830.2 855.4L863.4 832.6M830.2 855.4L796.8 877.1M830.2 855.4L829.2 897.3M830.2 855.4L862.1 875.2M863.4 832.6L894.4 852.4M863.4 832.6L862.1 875.2M894.4 852.4L862.1 875.2M894.4 852.4L892.9 896.2M894.4 852.4L924.3 873.9M955.3 854.2L924.3 873.9M955.3 854.2L954.9 897.4M955.3 854.2L986.9 876.9M1148.4 860.3L1116.1 879.7M1148.4 860.3L1149.5 901.6M1148.4 860.3L1182.4 881.1M1215 859L1246.6 837.9M1215 859L1182.4 881.1M1215 859L1215.9 901.1M1215 859L1248.3 880.1M1246.6 837.9L1280.6 859.2M1246.6 837.9L1248.3 880.1M1280.6 859.2L1313.2 838.8M1280.6 859.2L1248.3 880.1M1280.6 859.2L1282 901.1M1280.6 859.2L1314.6 880.4M1313.2 838.8L1347.4 859.8M1313.2 838.8L1314.6 880.4M1347.4 859.8L1380.4 839.6M1347.4 859.8L1314.6 880.4M1347.4 859.8L1348.5 901.5M1347.4 859.8L1381.5 881.1M1380.4 839.6L1414.6 861M1380.4 839.6L1381.5 881.1M1414.6 861L1447.9 841.6M1414.6 861L1381.5 881.1M1414.6 861L1415.6 902.5M1414.6 861L1449 882.7M1447.9 841.6L1482.6 863.1M1447.9 841.6L1449 882.7M1482.6 863.1L1516.4 843.4M1482.6 863.1L1449 882.7M1482.6 863.1L1483.4 904M1482.6 863.1L1517.2 884.2M1516.4 843.4L1551.1 864.4M1516.4 843.4L1517.2 884.2M1551.1 864.4L1585 844.6M1551.1 864.4L1517.2 884.2M1551.1 864.4L1551.7 905.3M1551.1 864.4L1585.7 885.4M1585 844.6L1619.7 865.6M1585 844.6L1585.7 885.4M1619.7 865.6L1653.8 845.8M1619.7 865.6L1585.7 885.4M1619.7 865.6L1620.2 906.3M1619.7 865.6L1654.3 886.5M1653.8 845.8L1688.6 866.7M1653.8 845.8L1654.3 886.5M1688.6 866.7L1722.9 846.9M1688.6 866.7L1654.3 886.5M1688.6 866.7L1689 907.3M1688.6 866.7L1723.3 887.4M1722.9 846.9L1757.7 867.6M1722.9 846.9L1723.3 887.4M1757.7 867.6L1792.3 847.6M1757.7 867.6L1723.3 887.4M1757.7 867.6L1758 908M1757.7 867.6L1792.5 888M1792.3 847.6L1827.1 868M1792.3 847.6L1792.5 888M1827.1 868L1861.8 847.8M1827.1 868L1792.5 888M1827.1 868L1827.2 908.4M1827.1 868L1861.8 888.2M1861.8 847.8L1896.4 867.9M1861.8 847.8L1861.8 888.2M1896.4 867.9L1861.8 888.2M593.5 880.3L631.3 896.5M593.5 880.3L598.3 916.2M631.3 896.5L663.9 876.5M631.3 896.5L598.3 916.2M631.3 896.5L630.9 937.2M631.3 896.5L664.2 917.5M663.9 876.5L697.2 897.5M663.9 876.5L664.2 917.5M697.2 897.5L730.3 877.4M697.2 897.5L664.2 917.5M697.2 897.5L696.8 938.7M697.2 897.5L730.1 918.6M730.3 877.4L763.4 898.1M730.3 877.4L730.1 918.6M763.4 898.1L796.8 877.1M763.4 898.1L730.1 918.6M763.4 898.1L762.6 939.5M763.4 898.1L795.9 918.7M796.8 877.1L829.2 897.3M796.8 877.1L795.9 918.7M829.2 897.3L862.1 875.2M829.2 897.3L795.9 918.7M829.2 897.3L827.8 939.5M829.2 897.3L860.6 918.1M862.1 875.2L892.9 896.2M862.1 875.2L860.6 918.1M892.9 896.2L924.3 873.9M892.9 896.2L860.6 918.1M892.9 896.2L891.5 939.6M892.9 896.2L923.4 918.1M924.3 873.9L954.9 897.4M924.3 873.9L923.4 918.1M954.9 897.4L986.9 876.9M954.9 897.4L923.4 918.1M954.9 897.4L954.5 940.5M954.9 897.4L986.6 919.7M986.9 876.9L1019.1 899.8M986.9 876.9L986.6 919.7M1019.1 899.8L1052.2 879.1M1019.1 899.8L986.6 919.7M1019.1 899.8L1018.8 941.9M1019.1 899.8L1051.6 921.2M1052.2 879.1L1084.2 900.1M1052.2 879.1L1051.6 921.2M1084.2 900.1L1116.1 879.7M1084.2 900.1L1051.6 921.2M1084.2 900.1L1084.2 942.4M1084.2 900.1L1116.8 921.8M1116.1 879.7L1149.5 901.6M1116.1 879.7L1116.8 921.8M1149.5 901.6L1182.4 881.1M1149.5 901.6L1116.8 921.8M1149.5 901.6L1150.1 943.2M1149.5 901.6L1183.1 922.5M1182.4 881.1L1215.9 901.1M1182.4 881.1L1183.1 922.5M1215.9 901.1L1248.3 880.1M1215.9 901.1L1183.1 922.5M1215.9 901.1L1216.5 942.9M1215.9 901.1L1249.3 922M1248.3 880.1L1282 901.1M1248.3 880.1L1249.3 922M1282 901.1L1314.6 880.4M1282 901.1L1249.3 922M1282 901.1L1282.8 942.9M1282 901.1L1315.7 922.1M1314.6 880.4L1348.5 901.5M1314.6 880.4L1315.7 922.1M1348.5 901.5L1381.5 881.1M1348.5 901.5L1315.7 922.1M1348.5 901.5L1349.4 943.2M1348.5 901.5L1382.5 922.7M1381.5 881.1L1415.6 902.5M1381.5 881.1L1382.5 922.7M1415.6 902.5L1449 882.7M1415.6 902.5L1382.5 922.7M1415.6 902.5L1416.5 943.9M1415.6 902.5L1449.8 923.9M1449 882.7L1483.4 904M1449 882.7L1449.8 923.9M1483.4 904L1517.2 884.2M1483.4 904L1449.8 923.9M1483.4 904L1484.1 945.1M1483.4 904L1517.8 925.2M1517.2 884.2L1551.7 905.3M1517.2 884.2L1517.8 925.2M1551.7 905.3L1585.7 885.4M1551.7 905.3L1517.8 925.2M1551.7 905.3L1552.3 946.2M1551.7 905.3L1586.2 926.3M1585.7 885.4L1620.2 906.3M1585.7 885.4L1586.2 926.3M1620.2 906.3L1654.3 886.5M1620.2 906.3L1586.2 926.3M1620.2 906.3L1620.7 947.2M1620.2 906.3L1654.8 927.2M1654.3 886.5L1689 907.3M1654.3 886.5L1654.8 927.2M1689 907.3L1723.3 887.4M1689 907.3L1654.8 927.2M1689 907.3L1689.4 948M1689 907.3L1723.7 928M1723.3 887.4L1758 908M1723.3 887.4L1723.7 928M1758 908L1792.5 888M1758 908L1723.7 928M1758 908L1758.3 948.6M1758 908L1792.7 928.5M1792.5 888L1827.2 908.4M1792.5 888L1792.7 928.5M1827.2 908.4L1861.8 888.2M1827.2 908.4L1792.7 928.5M1827.2 908.4L1827.4 948.9M1827.2 908.4L1861.9 928.7M1861.8 888.2L1896.5 908.4M1861.8 888.2L1861.9 928.7M1896.5 908.4L1861.9 928.7M598.3 916.2L630.9 937.2M598.3 916.2L592.6 951.8M630.9 937.2L664.2 917.5M630.9 937.2L592.6 951.8M630.9 937.2L626.9 975.8M630.9 937.2L663 958.5M664.2 917.5L696.8 938.7M664.2 917.5L663 958.5M696.8 938.7L730.1 918.6M696.8 938.7L663 958.5M696.8 938.7L695.4 979.8M696.8 938.7L729.2 960M730.1 918.6L762.6 939.5M730.1 918.6L729.2 960M762.6 939.5L795.9 918.7M762.6 939.5L729.2 960M762.6 939.5L761.4 981.2M762.6 939.5L794.7 960.6M795.9 918.7L827.8 939.5M795.9 918.7L794.7 960.6M827.8 939.5L860.6 918.1M827.8 939.5L794.7 960.6M827.8 939.5L826.2 982M827.8 939.5L859 961M860.6 918.1L891.5 939.6M860.6 918.1L859 961M891.5 939.6L923.4 918.1M891.5 939.6L859 961M891.5 939.6L890.1 982.7M891.5 939.6L922.4 961.5M923.4 918.1L954.5 940.5M923.4 918.1L922.4 961.5M954.5 940.5L986.6 919.7M954.5 940.5L922.4 961.5M954.5 940.5L953.9 983.3M954.5 940.5L986.3 962.4M986.6 919.7L1018.8 941.9M986.6 919.7L986.3 962.4M1018.8 941.9L1051.6 921.2M1018.8 941.9L986.3 962.4M1018.8 941.9L1018.6 984M1018.8 941.9L1051.4 963.2M1051.6 921.2L1084.2 942.4M1051.6 921.2L1051.4 963.2M1084.2 942.4L1116.8 921.8M1084.2 942.4L1051.4 963.2M1084.2 942.4L1084.3 984.3M1084.2 942.4L1117.2 963.7M1116.8 921.8L1150.1 943.2M1116.8 921.8L1117.2 963.7M1150.1 943.2L1183.1 922.5M1150.1 943.2L1117.2 963.7M1150.1 943.2L1150.4 984.7M1150.1 943.2L1183.5 964M1183.1 922.5L1216.5 942.9M1183.1 922.5L1183.5 964M1216.5 942.9L1249.3 922M1216.5 942.9L1183.5 964M1216.5 942.9L1216.9 984.6M1216.5 942.9L1249.9 963.7M1249.3 922L1282.8 942.9M1249.3 922L1249.9 963.7M1282.8 942.9L1315.7 922.1M1282.8 942.9L1249.9 963.7M1282.8 942.9L1283.4 984.6M1282.8 942.9L1316.4 963.9M1315.7 922.1L1349.4 943.2M1315.7 922.1L1316.4 963.9M1349.4 943.2L1382.5 922.7M1349.4 943.2L1316.4 963.9M1349.4 943.2L1350.1 984.8M1349.4 943.2L1383.3 964.3M1382.5 922.7L1416.5 943.9M1382.5 922.7L1383.3 964.3M1416.5 943.9L1449.8 923.9M1416.5 943.9L1383.3 964.3M1416.5 943.9L1417.2 985.4M1416.5 943.9L1450.6 965.2M1449.8 923.9L1484.1 945.1M1449.8 923.9L1450.6 965.2M1484.1 945.1L1517.8 925.2M1484.1 945.1L1450.6 965.2M1484.1 945.1L1484.8 986.3M1484.1 945.1L1518.5 966.2M1517.8 925.2L1552.3 946.2M1517.8 925.2L1518.5 966.2M1552.3 946.2L1586.2 926.3M1552.3 946.2L1518.5 966.2M1552.3 946.2L1552.8 987.2M1552.3 946.2L1586.7 967.2M1586.2 926.3L1620.7 947.2M1586.2 926.3L1586.7 967.2M1620.7 947.2L1654.8 927.2M1620.7 947.2L1586.7 967.2M1620.7 947.2L1621.2 988M1620.7 947.2L1655.2 968M1654.8 927.2L1689.4 948M1654.8 927.2L1655.2 968M1689.4 948L1723.7 928M1689.4 948L1655.2 968M1689.4 948L1689.8 988.7M1689.4 948L1724 968.7M1723.7 928L1758.3 948.6M1723.7 928L1724 968.7M1758.3 948.6L1792.7 928.5M1758.3 948.6L1724 968.7M1758.3 948.6L1758.6 989.3M1758.3 948.6L1793 969.1M1792.7 928.5L1827.4 948.9M1792.7 928.5L1793 969.1M1827.4 948.9L1861.9 928.7M1827.4 948.9L1793 969.1M1827.4 948.9L1827.6 989.5M1827.4 948.9L1862 969.2M1861.9 928.7L1896.5 948.9M1861.9 928.7L1862 969.2M1896.5 948.9L1862 969.2M592.6 951.8L626.9 975.8M592.6 951.8L591 991.3M626.9 975.8L663 958.5M626.9 975.8L591 991.3M626.9 975.8L625.1 1015.5M626.9 975.8L660.2 998.1M663 958.5L695.4 979.8M663 958.5L660.2 998.1M695.4 979.8L729.2 960M695.4 979.8L660.2 998.1M695.4 979.8L693.3 1020.2M695.4 979.8L727.7 1001.3M729.2 960L761.4 981.2M729.2 960L727.7 1001.3M761.4 981.2L794.7 960.6M761.4 981.2L727.7 1001.3M761.4 981.2L759.7 1023M761.4 981.2L793.1 1002.8M794.7 960.6L826.2 982M794.7 960.6L793.1 1002.8M826.2 982L859 961M826.2 982L793.1 1002.8M826.2 982L824.4 1024.5M826.2 982L857.4 1003.7M859 961L890.1 982.7M859 961L857.4 1003.7M890.1 982.7L922.4 961.5M890.1 982.7L857.4 1003.7M890.1 982.7L888.6 1025.4M890.1 982.7L921.3 1004.4M922.4 961.5L953.9 983.3M922.4 961.5L921.3 1004.4M953.9 983.3L986.3 962.4M953.9 983.3L921.3 1004.4M953.9 983.3L953.1 1025.8M953.9 983.3L985.9 1004.9M986.3 962.4L1018.6 984M986.3 962.4L985.9 1004.9M1018.6 984L1051.4 963.2M1018.6 984L985.9 1004.9M1018.6 984L1018.4 1026M1018.6 984L1051.3 1005.2M1051.4 963.2L1084.3 984.3M1051.4 963.2L1051.3 1005.2M1084.3 984.3L1117.2 963.7M1084.3 984.3L1051.3 1005.2M1084.3 984.3L1084.2 1026.1M1084.3 984.3L1117.3 1005.4M1117.2 963.7L1150.4 984.7M1117.2 963.7L1117.3 1005.4M1150.4 984.7L1183.5 964M1150.4 984.7L1117.3 1005.4M1150.4 984.7L1150.6 1026.3M1150.4 984.7L1183.8 1005.6M1183.5 964L1216.9 984.6M1183.5 964L1183.8 1005.6M1216.9 984.6L1249.9 963.7M1216.9 984.6L1183.8 1005.6M1216.9 984.6L1217.1 1026.2M1216.9 984.6L1250.3 1005.4M1249.9 963.7L1283.4 984.6M1249.9 963.7L1250.3 1005.4M1283.4 984.6L1316.4 963.9M1283.4 984.6L1250.3 1005.4M1283.4 984.6L1283.8 1026.2M1283.4 984.6L1317 1005.5M1316.4 963.9L1350.1 984.8M1316.4 963.9L1317 1005.5M1350.1 984.8L1383.3 964.3M1350.1 984.8L1317 1005.5M1350.1 984.8L1350.6 1026.4M1350.1 984.8L1383.9 1005.9M1383.3 964.3L1417.2 985.4M1383.3 964.3L1383.9 1005.9M1417.2 985.4L1450.6 965.2M1417.2 985.4L1383.9 1005.9M1417.2 985.4L1417.8 1026.8M1417.2 985.4L1451.2 1006.5M1450.6 965.2L1484.8 986.3M1450.6 965.2L1451.2 1006.5M1484.8 986.3L1518.5 966.2M1484.8 986.3L1451.2 1006.5M1484.8 986.3L1485.3 1027.5M1484.8 986.3L1519 1007.4M1518.5 966.2L1552.8 987.2M1518.5 966.2L1519 1007.4M1552.8 987.2L1586.7 967.2M1552.8 987.2L1519 1007.4M1552.8 987.2L1553.3 1028.2M1552.8 987.2L1587.2 1008.2M1586.7 967.2L1621.2 988M1586.7 967.2L1587.2 1008.2M1621.2 988L1655.2 968M1621.2 988L1587.2 1008.2M1621.2 988L1621.6 1028.9M1621.2 988L1655.6 1008.9M1655.2 968L1689.8 988.7M1655.2 968L1655.6 1008.9M1689.8 988.7L1724 968.7M1689.8 988.7L1655.6 1008.9M1689.8 988.7L1690.1 1029.5M1689.8 988.7L1724.3 1009.4M1724 968.7L1758.6 989.3M1724 968.7L1724.3 1009.4M1758.6 989.3L1793 969.1M1758.6 989.3L1724.3 1009.4M1758.6 989.3L1758.9 1029.9M1758.6 989.3L1793.2 1009.8M1793 969.1L1827.6 989.5M1793 969.1L1793.2 1009.8M1827.6 989.5L1862 969.2M1827.6 989.5L1793.2 1009.8M1827.6 989.5L1827.7 1030.1M1827.6 989.5L1862.1 1009.9M1862 969.2L1896.6 989.5M1862 969.2L1862.1 1009.9M1896.6 989.5L1862.1 1009.9M591 991.3L625.1 1015.5M591 991.3L589.9 1032.1M625.1 1015.5L660.2 998.1M625.1 1015.5L589.9 1032.1M625.1 1015.5L624 1055.7M625.1 1015.5L658.6 1038M660.2 998.1L693.3 1020.2M660.2 998.1L658.6 1038M693.3 1020.2L727.7 1001.3M693.3 1020.2L658.6 1038M693.3 1020.2L691.8 1060.9M693.3 1020.2L725.9 1042.5M727.7 1001.3L759.7 1023M727.7 1001.3L725.9 1042.5M759.7 1023L793.1 1002.8M759.7 1023L725.9 1042.5M759.7 1023L757.8 1064.8M759.7 1023L791.2 1045.1M793.1 1002.8L824.4 1024.5M793.1 1002.8L791.2 1045.1M824.4 1024.5L857.4 1003.7M824.4 1024.5L791.2 1045.1M824.4 1024.5L822.4 1067M824.4 1024.5L855.6 1046.4M857.4 1003.7L888.6 1025.4M857.4 1003.7L855.6 1046.4M888.6 1025.4L921.3 1004.4M888.6 1025.4L855.6 1046.4M888.6 1025.4L886.9 1067.8M888.6 1025.4L920.1 1046.9M921.3 1004.4L953.1 1025.8M921.3 1004.4L920.1 1046.9M953.1 1025.8L985.9 1004.9M953.1 1025.8L920.1 1046.9M953.1 1025.8L952.2 1067.9M953.1 1025.8L985.3 1047.1M985.9 1004.9L1018.4 1026M985.9 1004.9L985.3 1047.1M1018.4 1026L1051.3 1005.2M1018.4 1026L985.3 1047.1M1018.4 1026L1018 1067.8M1018.4 1026L1051.1 1047.1M1051.3 1005.2L1084.2 1026.1M1051.3 1005.2L1051.1 1047.1M1084.2 1026.1L1117.3 1005.4M1084.2 1026.1L1051.1 1047.1M1084.2 1026.1L1084.1 1067.8M1084.2 1026.1L1117.4 1047.1M1117.3 1005.4L1150.6 1026.3M1117.3 1005.4L1117.4 1047.1M1150.6 1026.3L1183.8 1005.6M1150.6 1026.3L1117.4 1047.1M1150.6 1026.3L1150.6 1067.8M1150.6 1026.3L1183.9 1047.2M1183.8 1005.6L1217.1 1026.2M1183.8 1005.6L1183.9 1047.2M1217.1 1026.2L1250.3 1005.4M1217.1 1026.2L1183.9 1047.2M1217.1 1026.2L1217.3 1067.7M1217.1 1026.2L1250.6 1047.1M1250.3 1005.4L1283.8 1026.2M1250.3 1005.4L1250.6 1047.1M1283.8 1026.2L1317 1005.5M1283.8 1026.2L1250.6 1047.1M1283.8 1026.2L1284.1 1067.7M1283.8 1026.2L1317.4 1047.2M1317 1005.5L1350.6 1026.4M1317 1005.5L1317.4 1047.2M1350.6 1026.4L1383.9 1005.9M1350.6 1026.4L1317.4 1047.2M1350.6 1026.4L1351 1067.9M1350.6 1026.4L1384.4 1047.4M1383.9 1005.9L1417.8 1026.8M1383.9 1005.9L1384.4 1047.4M1417.8 1026.8L1451.2 1006.5M1417.8 1026.8L1384.4 1047.4M1417.8 1026.8L1418.2 1068.2M1417.8 1026.8L1451.7 1047.9M1451.2 1006.5L1485.3 1027.5M1451.2 1006.5L1451.7 1047.9M1485.3 1027.5L1519 1007.4M1485.3 1027.5L1451.7 1047.9M1485.3 1027.5L1485.8 1068.7M1485.3 1027.5L1519.5 1048.5M1519 1007.4L1553.3 1028.2M1519 1007.4L1519.5 1048.5M1553.3 1028.2L1587.2 1008.2M1553.3 1028.2L1519.5 1048.5M1553.3 1028.2L1553.7 1069.2M1553.3 1028.2L1587.6 1049.2M1587.2 1008.2L1621.6 1028.9M1587.2 1008.2L1587.6 1049.2M1621.6 1028.9L1655.6 1008.9M1621.6 1028.9L1587.6 1049.2M1621.6 1028.9L1621.9 1069.8M1621.6 1028.9L1656 1049.8M1655.6 1008.9L1690.1 1029.5M1655.6 1008.9L1656 1049.8M1690.1 1029.5L1724.3 1009.4M1690.1 1029.5L1656 1049.8M1690.1 1029.5L1690.5 1070.3M1690.1 1029.5L1724.6 1050.2M1724.3 1009.4L1758.9 1029.9M1724.3 1009.4L1724.6 1050.2M1758.9 1029.9L1793.2 1009.8M1758.9 1029.9L1724.6 1050.2M1758.9 1029.9L1759.2 1070.6M1758.9 1029.9L1793.4 1050.6M1793.2 1009.8L1827.7 1030.1M1793.2 1009.8L1793.4 1050.6M1827.7 1030.1L1862.1 1009.9M1827.7 1030.1L1793.4 1050.6M1827.7 1030.1L1828 1070.8M1827.7 1030.1L1862.3 1050.6M1862.1 1009.9L1896.7 1030.1M1862.1 1009.9L1862.3 1050.6M1896.7 1030.1L1862.3 1050.6M589.9 1032.1L624 1055.7M589.9 1032.1L589.1 1073.4M624 1055.7L658.6 1038M624 1055.7L589.1 1073.4M624 1055.7L623.3 1096.3M624 1055.7L657.5 1078.2M658.6 1038L691.8 1060.9M658.6 1038L657.5 1078.2M691.8 1060.9L725.9 1042.5M691.8 1060.9L657.5 1078.2M691.8 1060.9L724.2 1084M725.9 1042.5L757.8 1064.8M725.9 1042.5L724.2 1084M757.8 1064.8L791.2 1045.1M757.8 1064.8L724.2 1084M757.8 1064.8L788.9 1087.5M791.2 1045.1L822.4 1067M791.2 1045.1L788.9 1087.5M822.4 1067L855.6 1046.4M822.4 1067L788.9 1087.5M855.6 1046.4L886.9 1067.8M855.6 1046.4L853.5 1089M886.9 1067.8L920.1 1046.9M920.1 1046.9L952.2 1067.9M920.1 1046.9L918.8 1089.2M952.2 1067.9L985.3 1047.1M985.3 1047.1L1018 1067.8M985.3 1047.1L984.7 1089M1018 1067.8L1051.1 1047.1M1051.1 1047.1L1084.1 1067.8M1051.1 1047.1L1050.9 1088.9M1084.1 1067.8L1117.4 1047.1M1117.4 1047.1L1150.6 1067.8M1117.4 1047.1L1117.3 1088.8M1150.6 1067.8L1183.9 1047.2M1183.9 1047.2L1217.3 1067.7M1183.9 1047.2L1184 1088.8M1217.3 1067.7L1250.6 1047.1M1250.6 1047.1L1284.1 1067.7M1250.6 1047.1L1250.7 1088.7M1284.1 1067.7L1317.4 1047.2M1317.4 1047.2L1351 1067.9M1317.4 1047.2L1317.6 1088.8M1351 1067.9L1384.4 1047.4M1384.4 1047.4L1418.2 1068.2M1384.4 1047.4L1384.7 1089M1418.2 1068.2L1451.7 1047.9M1451.7 1047.9L1485.8 1068.7M1451.7 1047.9L1452.1 1089.3M1485.8 1068.7L1519.5 1048.5M1519.5 1048.5L1553.7 1069.2M1519.5 1048.5L1519.9 1089.8M1553.7 1069.2L1587.6 1049.2M1587.6 1049.2L1621.9 1069.8M1587.6 1049.2L1588 1090.3M1621.9 1069.8L1656 1049.8M1656 1049.8L1690.5 1070.3M1656 1049.8L1656.3 1090.8M1690.5 1070.3L1724.6 1050.2M1724.6 1050.2L1759.2 1070.6M1724.6 1050.2L1724.9 1091.2M1759.2 1070.6L1793.4 1050.6M1793.4 1050.6L1828 1070.8M1793.4 1050.6L1793.7 1091.4M1828 1070.8L1862.3 1050.6M1862.3 1050.6L1896.8 1070.7M1862.3 1050.6L1862.5 1091.4"/>
<path fill="none" stroke="#000" stroke-opacity="0.7" stroke-width="1.7" d="M-21 373.3L9 373.3L39 373.3L69 373.3L99 373.3L129 373.3L159 373.3L189 373.3L219 373.3L249 373.3L279 373.3L309 373.3L339 373.3L369 373.3L396.8 374L423.6 375.9L449.4 379.4L474.8 384.6L499.6 391.5L523.7 400.3L546.9 410.9L569.3 423.3L590.9 437.5L611.6 453.2L631.4 470.3L650.3 488.7L668.4 508.3L686.6 529.2L705.5 550.9L725.7 572.8L748 594.1L771.5 613.5L795.7 631.3L820.4 647.6L845.2 662.9L870.8 677.7L897.6 691.5L925.7 703.8L955.3 713.9L985.8 721.3L1016.6 726L1047.6 728L1078.6 727.5L1109.4 724.5L1139.9 719.1L1170 711.2L1199.5 700.4L1228.1 686.9L1255.1 670.5L1280.1 652.1L1303.1 632.4L1324.7 612.1L1345.4 591.1L1365.2 569.5L1384.3 547.4L1402.6 525.3L1420.4 503.9L1438.1 483.6L1456.2 465L1475.2 448.4L1495.7 433.3L1517.4 419.9L1540.2 408.2L1563.9 398.1L1588.4 389.9L1613.4 383.3L1639 378.4L1664.9 375.2L1691.6 373.5L1719.9 373.3L1749.9 373.3L1779.9 373.3L1809.9 373.3L1839.9 373.3L1869.9 373.3L1899.9 373.3L1929.9 373.3L1959.9 373.3L1989.9 373.3L2019.9 373.3L2049.9 373.3M-21 373.3L-6 392.3L9 373.3M9 373.3L24 392.3L39 373.3M39 373.3L54 392.3L69 373.3M69 373.3L84 392.3L99 373.3M99 373.3L114 392.3L129 373.3M129 373.3L144 392.3L159 373.3M159 373.3L174 392.3L189 373.3M189 373.3L204 392.3L219 373.3M219 373.3L234 392.3L249 373.3M249 373.3L264 392.3L279 373.3M279 373.3L294 392.3L309 373.3M309 373.3L324 392.3L339 373.3M339 373.3L354 392.3L369 373.3M369 373.3L384 392.3L396.8 374M396.8 374L409.2 393.7L423.6 375.9M423.6 375.9L434 396.3L449.4 379.4M449.4 379.4L458.3 400.4L474.8 384.6M474.8 384.6L482.1 406.1L499.6 391.5M499.6 391.5L505.2 413.6L523.7 400.3M523.7 400.3L527.5 422.6L546.9 410.9M546.9 410.9L549 433.5L569.3 423.3M569.3 423.3L569.8 446.1L590.9 437.5M590.9 437.5L589.9 460.3L611.6 453.2M611.6 453.2L609.2 476L631.4 470.3M631.4 470.3L627.7 493L650.3 488.7M650.3 488.7L645.4 511.2L668.4 508.3M668.4 508.3L663.1 531.1L686.6 529.2M686.6 529.2L681.5 552.4L705.5 550.9M705.5 550.9L701.4 574.8L725.7 572.8M725.7 572.8L723.5 597.4L748 594.1M748 594.1L747.5 618.7L771.5 613.5M771.5 613.5L772.3 637.9L795.7 631.3M795.7 631.3L797.5 655.4L820.4 647.6M820.4 647.6L822.8 671.6L845.2 662.9M845.2 662.9L848.4 686.8L870.8 677.7M870.8 677.7L875.3 701.6L897.6 691.5M897.6 691.5L903.8 715.2L925.7 703.8M925.7 703.8L934.2 727.1L955.3 713.9M955.3 713.9L966 736.4L985.8 721.3M985.8 721.3L998.3 742.8L1016.6 726M1016.6 726L1030.9 746.3L1047.6 728M1047.6 728L1063.4 747.1L1078.6 727.5M1078.6 727.5L1095.9 745.2L1109.4 724.5M1109.4 724.5L1128 740.8L1139.9 719.1M1139.9 719.1L1159.9 733.8L1170 711.2M1170 711.2L1191.4 724L1199.5 700.4M1199.5 700.4L1222.1 711.2L1228.1 686.9M1228.1 686.9L1251.8 695.2L1255.1 670.5M1255.1 670.5L1279.2 676.8L1280.1 652.1M1280.1 652.1L1304.1 656.8L1303.1 632.4M1303.1 632.4L1327.1 636.1L1324.7 612.1M1324.7 612.1L1348.7 615L1345.4 591.1M1345.4 591.1L1369.4 593.2L1365.2 569.5M1365.2 569.5L1389.2 570.9L1384.3 547.4M1384.3 547.4L1408.2 548.5L1402.6 525.3M1402.6 525.3L1426.2 526.6L1420.4 503.9M1420.4 503.9L1443.5 506.1L1438.1 483.6M1438.1 483.6L1460.7 487.3L1456.2 465M1456.2 465L1478 470.8L1475.2 448.4M1475.2 448.4L1496.5 455.9L1495.7 433.3M1495.7 433.3L1516.4 442.6L1517.4 419.9M1517.4 419.9L1537.4 430.7L1540.2 408.2M1540.2 408.2L1559.4 420.4L1563.9 398.1M1563.9 398.1L1582.2 411.8L1588.4 389.9M1588.4 389.9L1605.6 404.8L1613.4 383.3M1613.4 383.3L1629.7 399.3L1639 378.4M1639 378.4L1654.3 395.5L1664.9 375.2M1664.9 375.2L1679.2 393.1L1691.6 373.5M1691.6 373.5L1700.8 392L1719.9 373.3M1719.9 373.3L1734.9 392.3L1749.9 373.3M1749.9 373.3L1764.9 392.3L1779.9 373.3M1779.9 373.3L1794.9 392.3L1809.9 373.3M1809.9 373.3L1824.9 392.3L1839.9 373.3M1839.9 373.3L1854.9 392.3L1869.9 373.3M1869.9 373.3L1884.9 392.3L1899.9 373.3M1899.9 373.3L1914.9 392.3L1929.9 373.3M1929.9 373.3L1944.9 392.3L1959.9 373.3M1959.9 373.3L1974.9 392.3L1989.9 373.3M1989.9 373.3L2004.9 392.3L2019.9 373.3M2019.9 373.3L2034.9 392.3L2049.9 373.3"/>
<path fill="none" stroke="#000" stroke-opacity="0.5" stroke-width="1.7" d="M-36 360.3L-21 373.3L-6 360.3M-6 360.3L9 373.3L24 360.3M24 360.3L39 373.3L54 360.3M54 360.3L69 373.3L84 360.3M84 360.3L99 373.3L114 360.3M114 360.3L129 373.3L144 360.3M144 360.3L159 373.3L174 360.3M174 360.3L189 373.3L204 360.3M204 360.3L219 373.3L234 360.3M234 360.3L249 373.3L264 360.3M264 360.3L279 373.3L294 360.3M294 360.3L309 373.3L324 360.3M324 360.3L339 373.3L354 360.3M354 360.3L369 373.3L384 360.3M384 360.3L396.8 374L411.5 361.8M411.5 361.8L423.6 375.9L438.3 364.6M438.3 364.6L449.4 379.4L464.7 369M464.7 369L474.8 384.6L490.8 375.3M490.8 375.3L499.6 391.5L516.2 383.5M516.2 383.5L523.7 400.3L540.8 393.5M540.8 393.5L546.9 410.9L564.5 405.5M564.5 405.5L569.3 423.3L587.3 419.3M587.3 419.3L590.9 437.5L609.2 434.8M609.2 434.8L611.6 453.2L630.1 451.8M630.1 451.8L631.4 470.3L650 470M650 470L650.3 488.7L668.9 489.5M668.9 489.5L668.4 508.3L687.3 510.1M687.3 510.1L686.6 529.2L705.7 531.5M705.7 531.5L705.5 550.9L724.9 553.1M724.9 553.1L725.7 572.8L745.6 574.2M745.6 574.2L748 594.1L767.9 594M767.9 594L771.5 613.5L791.2 612.1M791.2 612.1L795.7 631.3L815.2 628.8M815.2 628.8L820.4 647.6L839.6 644.3M839.6 644.3L845.2 662.9L864.4 659.1M864.4 659.1L870.8 677.7L890 673.2M890 673.2L897.6 691.5L916.7 685.9M916.7 685.9L925.7 703.8L944.6 696.9M944.6 696.9L955.3 713.9L973.6 705.3M973.6 705.3L985.8 721.3L1003.1 711.1M1003.1 711.1L1016.6 726L1033 714.3M1033 714.3L1047.6 728L1062.9 715.1M1062.9 715.1L1078.6 727.5L1092.8 713.4M1092.8 713.4L1109.4 724.5L1122.4 709.3M1122.4 709.3L1139.9 719.1L1151.7 702.9M1151.7 702.9L1170 711.2L1180.5 693.9M1180.5 693.9L1199.5 700.4L1208.4 682.3M1208.4 682.3L1228.1 686.9L1235.1 667.9M1235.1 667.9L1255.1 670.5L1260.1 651M1260.1 651L1280.1 652.1L1283.4 632.5M1283.4 632.5L1303.1 632.4L1305.2 612.9M1305.2 612.9L1324.7 612.1L1325.9 592.5M1325.9 592.5L1345.4 591.1L1345.8 571.5M1345.8 571.5L1365.2 569.5L1365 550M1365 550L1384.3 547.4L1383.6 528M1383.6 528L1402.6 525.3L1401.5 506.2M1401.5 506.2L1420.4 503.9L1419.4 485M1419.4 485L1438.1 483.6L1437.7 465M1437.7 465L1456.2 465L1456.9 446.7M1456.9 446.7L1475.2 448.4L1477.6 430.2M1477.6 430.2L1495.7 433.3L1499.6 415.3M1499.6 415.3L1517.4 419.9L1522.8 402.3M1522.8 402.3L1540.2 408.2L1546.9 391M1546.9 391L1563.9 398.1L1571.9 381.5M1571.9 381.5L1588.4 389.9L1597.5 373.8M1597.5 373.8L1613.4 383.3L1623.7 367.9M1623.7 367.9L1639 378.4L1650.3 363.7M1650.3 363.7L1664.9 375.2L1677.1 361.2M1677.1 361.2L1691.6 373.5L1703.3 360.1M1703.3 360.1L1719.9 373.3L1734.9 360.3M1734.9 360.3L1749.9 373.3L1764.9 360.3M1764.9 360.3L1779.9 373.3L1794.9 360.3M1794.9 360.3L1809.9 373.3L1824.9 360.3M1824.9 360.3L1839.9 373.3L1854.9 360.3M1854.9 360.3L1869.9 373.3L1884.9 360.3M1884.9 360.3L1899.9 373.3L1914.9 360.3M1914.9 360.3L1929.9 373.3L1944.9 360.3M1944.9 360.3L1959.9 373.3L1974.9 360.3M1974.9 360.3L1989.9 373.3L2004.9 360.3M2004.9 360.3L2019.9 373.3L2034.9 360.3M2034.9 360.3L2049.9 373.3L2064.9 360.3"/>
<polyline fill="none" stroke="#000" stroke-opacity="0.45" stroke-width="1.8" points="-36,342.8 -6,342.8 24,342.8 54,342.8 84,342.8 114,342.8 144,342.8 174,342.8 204,342.8 234,342.8 264,342.8 294,342.8 324,342.8 354,342.8 384,342.8 412.8,344.4 440.6,347.2 468.3,351.9 495.5,358.5 522.1,367 548,377.6 573,390.2 596.9,404.7 619.8,420.9 641.6,438.5 662.2,457.5 681.8,477.6 700.5,498.6 719,520 737.8,541.2 757.7,561.6 779,580.5 801.5,598 824.8,614.2 848.8,629.4 873.1,644 898,657.6 923.7,669.9 950.3,680.3 977.7,688.3 1005.7,693.8 1034.1,696.9 1062.6,697.6 1091.1,696 1119.4,692.1 1147.2,686 1174.5,677.5 1200.9,666.5 1226.1,652.9 1249.7,636.9 1272,619.2 1293.1,600.2 1313.4,580.3 1332.9,559.7 1351.8,538.5 1370.1,516.9 1388,495.1 1406.2,473.6 1425.2,452.9 1445.4,433.6 1467.2,416.1 1490.4,400.4 1514.8,386.7 1540.1,374.8 1566.3,364.9 1593.1,356.9 1620.4,350.7 1648.1,346.4 1676,343.7 1704.6,342.7 1734.9,342.8 1764.9,342.8 1794.9,342.8 1824.9,342.8 1854.9,342.8 1884.9,342.8 1914.9,342.8 1944.9,342.8 1974.9,342.8 2004.9,342.8 2034.9,342.8 2064.9,342.8"/>
<polyline fill="none" stroke="#000" stroke-opacity="0.62" stroke-width="1.8" points="-36,347.8 -6,347.8 24,347.8 54,347.8 84,347.8 114,347.8 144,347.8 174,347.8 204,347.8 234,347.8 264,347.8 294,347.8 324,347.8 354,347.8 384,347.8 412.4,349.3 440,352.2 467.3,356.8 494.1,363.3 520.4,371.7 545.9,382.1 570.6,394.6 594.2,408.9 616.8,424.9 638.3,442.3 658.7,461.1 678.1,481 696.7,501.9 715.2,523.3 734.1,544.6 754.2,565.2 775.8,584.4 798.6,602 822.1,618.3 846.1,633.7 870.6,648.3 895.7,662 921.7,674.5 948.7,685 976.5,693.2 1005,698.8 1033.8,701.9 1062.7,702.6 1091.6,700.9 1120.2,697 1148.5,690.8 1176.2,682.2 1203,671 1228.6,657.2 1252.7,641 1275.3,623 1296.6,603.8 1317,583.8 1336.6,563.1 1355.6,541.8 1373.9,520.1 1391.9,498.3 1410,476.8 1428.8,456.3 1448.7,437.3 1470.2,420.1 1493,404.7 1517,391.1 1542.1,379.5 1567.9,369.6 1594.4,361.7 1621.4,355.6 1648.7,351.3 1676.3,348.7 1704.3,347.7 1734.9,347.8 1764.9,347.8 1794.9,347.8 1824.9,347.8 1854.9,347.8 1884.9,347.8 1914.9,347.8 1944.9,347.8 1974.9,347.8 2004.9,347.8 2034.9,347.8 2064.9,347.8"/>
<polyline fill="none" stroke="#000" stroke-opacity="0.62" stroke-width="1.8" points="-36,353.8 -6,353.8 24,353.8 54,353.8 84,353.8 114,353.8 144,353.8 174,353.8 204,353.8 234,353.8 264,353.8 294,353.8 324,353.8 354,353.8 384,353.8 412,355.3 439.2,358.1 466.1,362.7 492.5,369.1 518.4,377.4 543.5,387.6 567.6,399.8 590.9,413.9 613.1,429.6 634.4,446.9 654.6,465.4 673.7,485.1 692.2,505.8 710.6,527.2 729.7,548.7 750.1,569.5 772,589 795,606.8 818.8,623.3 843,638.8 867.6,653.5 893,667.4 919.3,680 946.7,690.7 975.1,699 1004.1,704.7 1033.4,707.9 1062.8,708.6 1092.2,706.9 1121.3,702.9 1150,696.6 1178.2,687.8 1205.6,676.4 1231.8,662.3 1256.3,645.8 1279.2,627.6 1300.7,608.1 1321.2,588 1341,567.1 1360.1,545.7 1378.6,523.9 1396.5,502.1 1414.5,480.8 1433.1,460.5 1452.7,441.8 1473.7,424.9 1496.2,409.8 1519.8,396.5 1544.4,385 1569.8,375.3 1595.9,367.5 1622.5,361.5 1649.5,357.3 1676.7,354.7 1703.8,353.7 1734.9,353.8 1764.9,353.8 1794.9,353.8 1824.9,353.8 1854.9,353.8 1884.9,353.8 1914.9,353.8 1944.9,353.8 1974.9,353.8 2004.9,353.8 2034.9,353.8 2064.9,353.8"/>
<polyline fill="none" stroke="#000" stroke-opacity="0.62" stroke-width="1.8" points="-36,360.3 -6,360.3 24,360.3 54,360.3 84,360.3 114,360.3 144,360.3 174,360.3 204,360.3 234,360.3 264,360.3 294,360.3 324,360.3 354,360.3 384,360.3 411.5,361.8 438.3,364.6 464.7,369 490.8,375.3 516.2,383.5 540.8,393.5 564.5,405.5 587.3,419.3 609.2,434.8 630.1,451.8 650,470 668.9,489.5 687.3,510.1 705.7,531.5 724.9,553.1 745.6,574.2 767.9,594 791.2,612.1 815.2,628.8 839.6,644.3 864.4,659.1 890,673.2 916.7,685.9 944.6,696.9 973.6,705.3 1003.1,711.1 1033,714.3 1062.9,715.1 1092.8,713.4 1122.4,709.3 1151.7,702.9 1180.5,693.9 1208.4,682.3 1235.1,667.9 1260.1,651 1283.4,632.5 1305.2,612.9 1325.9,592.5 1345.8,571.5 1365,550 1383.6,528 1401.5,506.2 1419.4,485 1437.7,465 1456.9,446.7 1477.6,430.2 1499.6,415.3 1522.8,402.3 1546.9,391 1571.9,381.5 1597.5,373.8 1623.7,367.9 1650.3,363.7 1677.1,361.2 1703.3,360.1 1734.9,360.3 1764.9,360.3 1794.9,360.3 1824.9,360.3 1854.9,360.3 1884.9,360.3 1914.9,360.3 1944.9,360.3 1974.9,360.3 2004.9,360.3 2034.9,360.3 2064.9,360.3"/>
<path fill="none" stroke="#000" stroke-opacity="0.6" stroke-width="1.8" d="M-36 339.3L-36 360.3M-6 339.3L-6 360.3M24 339.3L24 360.3M54 339.3L54 360.3M84 339.3L84 360.3M114 339.3L114 360.3M144 339.3L144 360.3M174 339.3L174 360.3M204 339.3L204 360.3M234 339.3L234 360.3M264 339.3L264 360.3M294 339.3L294 360.3M324 339.3L324 360.3M354 339.3L354 360.3M384 339.3L384 360.3M413 340.9L411.5 361.8M441.1 343.7L438.3 364.6M469 348.5L464.7 369M496.4 355.1L490.8 375.3M523.3 363.7L516.2 383.5M549.5 374.4L540.8 393.5M574.7 387.1L564.5 405.5M598.9 401.8L587.3 419.3M621.9 418.1L609.2 434.8M643.9 435.9L630.1 451.8M664.7 455L650 470M684.4 475.2L668.9 489.5M703.2 496.3L687.3 510.1M721.6 517.7L705.7 531.5M740.4 538.9L724.9 553.1M760.1 559.1L745.6 574.2M781.2 577.8L767.9 594M803.6 595.1L791.2 612.1M826.8 611.2L815.2 628.8M850.6 626.4L839.6 644.3M874.9 640.9L864.4 659.1M899.6 654.5L890 673.2M925.1 666.7L916.7 685.9M951.4 677L944.6 696.9M978.5 684.9L973.6 705.3M1006.2 690.4L1003.1 711.1M1034.3 693.4L1033 714.3M1062.6 694.1L1062.9 715.1M1090.8 692.5L1092.8 713.4M1118.8 688.7L1122.4 709.3M1146.3 682.6L1151.7 702.9M1173.3 674.2L1180.5 693.9M1199.4 663.3L1208.4 682.3M1224.2 649.9L1235.1 667.9M1247.7 634.1L1260.1 651M1269.7 616.5L1283.4 632.5M1290.7 597.6L1305.2 612.9M1310.9 577.8L1325.9 592.5M1330.4 557.3L1345.8 571.5M1349.1 536.2L1365 550M1367.4 514.7L1383.6 528M1385.4 492.8L1401.5 506.2M1403.6 471.3L1419.4 485M1422.7 450.4L1437.7 465M1443.1 430.9L1456.9 446.7M1465.1 413.2L1477.6 430.2M1488.5 397.4L1499.6 415.3M1513.2 383.6L1522.8 402.3M1538.7 371.6L1546.9 391M1565.2 361.6L1571.9 381.5M1592.2 353.5L1597.5 373.8M1619.8 347.3L1623.7 367.9M1647.7 342.9L1650.3 363.7M1675.8 340.2L1677.1 361.2M1704.9 339.2L1703.3 360.1M1734.9 339.3L1734.9 360.3M1764.9 339.3L1764.9 360.3M1794.9 339.3L1794.9 360.3M1824.9 339.3L1824.9 360.3M1854.9 339.3L1854.9 360.3M1884.9 339.3L1884.9 360.3M1914.9 339.3L1914.9 360.3M1944.9 339.3L1944.9 360.3M1974.9 339.3L1974.9 360.3M2004.9 339.3L2004.9 360.3M2034.9 339.3L2034.9 360.3M2064.9 339.3L2064.9 360.3"/>
<polyline fill="none" stroke="#2a2a2a" stroke-width="2.5" points="-50,340.2 -46,340.2 -42,340.2 -38,340.2 -34,340.2 -30,340.2 -26,340.2 -22,340.2 -18,340.2 -14,340.2 -10,340.2 -6,340.2 -2,340.2 2,340.2 6,340.2 10,340.2 14,340.2 18,340.2 22,340.2 26,340.2 30,340.2 34,340.2 38,340.2 42,340.2 46,340.2 50,340.2 54,340.2 58,340.2 62,340.2 66,340.2 70,340.2 74,340.2 78,340.2 82,340.2 86,340.2 90,340.2 94,340.2 98,340.2 102,340.2 106,340.2 110,340.2 114,340.2 118,340.2 122,340.2 126,340.2 130,340.2 134,340.2 138,340.2 142,340.2 146,340.2 150,340.2 154,340.2 158,340.2 162,340.2 166,340.2 170,340.2 174,340.2 178,340.2 182,340.2 186,340.2 190,340.2 194,340.2 198,340.2 202,340.2 206,340.2 210,340.2 214,340.2 218,340.2 222,340.2 226,340.2 230,340.2 234,340.2 238,340.2 242,340.2 246,340.2 250,340.2 254,340.2 258,340.2 262,340.2 266,340.2 270,340.2 274,340.2 278,340.2 282,340.2 286,340.2 290,340.2 294,340.2 298,340.2 302,340.2 306,340.2 310,340.2 314,340.2 318,340.2 322,340.2 326,340.2 330,340.2 334,340.2 338,340.2 342,340.2 346,340.2 350,340.2 354,340.2 358,340.2 362,340.2 366,340.2 370,340.2 374,340.2 378,340.2 382,340.2 386,340.2 389.9,340.2 393.7,340.7 397.8,340.9 401.8,341.1 405.8,341.3 409.7,341.5 413.7,341.8 417.7,342.1 421.7,342.5 425.7,342.8 429.6,343.3 433.6,343.7 437.6,344.2 441.5,344.7 445.5,345.3 449.4,345.9 453.4,346.5 457.3,347.2 461.2,347.9 465.1,348.6 469.1,349.4 473,350.2 476.9,351.1 480.7,352 484.6,352.9 488.5,353.9 492.3,354.9 496.2,356 500,357.1 503.9,358.2 507.7,359.4 511.5,360.6 515.3,361.9 519,363.2 522.8,364.5 526.5,365.9 530.3,367.3 534,368.8 537.7,370.3 541.4,371.8 545,373.4 548.7,375 552.3,376.7 555.9,378.4 559.5,380.2 563,381.9 566.6,383.8 570.1,385.7 573.6,387.6 577.1,389.5 580.5,391.5 584,393.5 587.4,395.6 590.8,397.7 594.2,399.8 597.5,402 600.9,404.2 604.2,406.4 607.5,408.7 610.7,411 614,413.3 617.2,415.7 620.4,418 623.5,420.5 626.7,422.9 629.8,425.4 632.9,427.9 636,430.4 639.1,433 642.1,435.6 645.1,438.2 648.1,440.8 651.1,443.5 654.1,446.2 657,448.9 659.9,451.6 662.8,454.4 665.6,457.2 668.5,460 671.3,462.8 674.1,465.7 676.9,468.6 679.6,471.5 682.3,474.4 685,477.3 687.7,480.3 690.4,483.2 693.1,486.2 695.7,489.2 698.4,492.2 701,495.2 703.6,498.2 706.2,501.3 708.8,504.3 711.4,507.3 714,510.4 716.7,513.4 719.3,516.4 721.9,519.4 724.5,522.5 727.2,525.5 729.8,528.5 732.5,531.5 735.1,534.4 737.8,537.4 740.5,540.4 743.3,543.3 746,546.2 748.8,549.1 751.6,552 754.4,554.8 757.3,557.6 760.2,560.4 763.1,563.1 766.1,565.8 769,568.5 772,571.2 775.1,573.8 778.1,576.4 781.2,579 784.3,581.5 787.5,584 790.6,586.5 793.8,588.9 797,591.3 800.2,593.7 803.4,596.1 806.6,598.5 809.9,600.8 813.2,603.1 816.5,605.4 819.8,607.6 823.1,609.9 826.4,612.1 829.8,614.3 833.1,616.5 836.5,618.7 839.9,620.8 843.3,622.9 846.7,625.1 850.1,627.2 853.5,629.3 856.9,631.3 860.3,633.4 863.8,635.5 867.2,637.5 870.7,639.5 874.1,641.5 877.6,643.5 881.1,645.5 884.6,647.5 888.1,649.4 891.6,651.3 895.2,653.2 898.7,655 902.3,656.9 905.9,658.7 909.5,660.4 913.1,662.2 916.7,663.9 920.3,665.6 924,667.2 927.7,668.8 931.4,670.3 935.1,671.9 938.8,673.3 942.6,674.8 946.3,676.2 950.1,677.5 953.9,678.8 957.7,680 961.5,681.2 965.4,682.3 969.3,683.4 973.1,684.5 977,685.5 980.9,686.4 984.8,687.3 988.7,688.1 992.7,688.9 996.6,689.7 1000.6,690.4 1004.5,691 1008.5,691.6 1012.5,692.2 1016.5,692.7 1020.4,693.1 1024.4,693.5 1028.4,693.9 1032.4,694.2 1036.4,694.4 1040.4,694.6 1044.4,694.8 1048.4,694.9 1052.5,695 1056.5,695 1060.5,695 1064.5,694.9 1068.5,694.8 1072.5,694.7 1076.5,694.5 1080.5,694.2 1084.5,693.9 1088.5,693.6 1092.5,693.2 1096.5,692.8 1100.5,692.3 1104.4,691.8 1108.4,691.2 1112.4,690.6 1116.3,690 1120.3,689.3 1124.2,688.6 1128.2,687.8 1132.1,687 1136,686.1 1139.9,685.2 1143.8,684.2 1147.7,683.2 1151.5,682.1 1155.4,681 1159.2,679.8 1163.1,678.6 1166.9,677.4 1170.7,676.1 1174.4,674.7 1178.2,673.3 1181.9,671.9 1185.7,670.4 1189.4,668.8 1193,667.2 1196.7,665.6 1200.3,663.9 1203.9,662.1 1207.5,660.3 1211.1,658.4 1214.6,656.5 1218.1,654.6 1221.6,652.5 1225,650.5 1228.4,648.4 1231.8,646.2 1235.2,644 1238.5,641.8 1241.8,639.5 1245,637.1 1248.3,634.8 1251.5,632.4 1254.7,629.9 1257.8,627.5 1261,625 1264.1,622.4 1267.2,619.9 1270.2,617.3 1273.3,614.7 1276.3,612 1279.3,609.4 1282.3,606.7 1285.2,604 1288.2,601.3 1291.1,598.5 1294,595.8 1296.9,593 1299.7,590.2 1302.6,587.4 1305.4,584.6 1308.3,581.8 1311.1,578.9 1313.9,576.1 1316.7,573.2 1319.5,570.3 1322.2,567.4 1325,564.5 1327.7,561.5 1330.4,558.6 1333.1,555.7 1335.8,552.7 1338.5,549.7 1341.1,546.7 1343.8,543.7 1346.4,540.7 1349.1,537.7 1351.7,534.7 1354.3,531.6 1356.9,528.6 1359.5,525.5 1362.1,522.5 1364.6,519.4 1367.2,516.3 1369.7,513.2 1372.3,510.1 1374.8,507.1 1377.4,504 1379.9,500.9 1382.4,497.8 1385,494.7 1387.5,491.6 1390.1,488.5 1392.6,485.5 1395.2,482.4 1397.8,479.4 1400.4,476.3 1403,473.3 1405.6,470.3 1408.3,467.3 1410.9,464.3 1413.6,461.4 1416.3,458.4 1419,455.5 1421.8,452.6 1424.6,449.7 1427.4,446.9 1430.2,444.1 1433.1,441.3 1436,438.6 1438.9,435.9 1441.9,433.2 1444.9,430.6 1447.9,428 1451,425.4 1454,422.9 1457.2,420.4 1460.3,418 1463.5,415.6 1466.7,413.2 1469.9,410.9 1473.2,408.6 1476.5,406.3 1479.8,404.1 1483.2,401.9 1486.5,399.8 1489.9,397.7 1493.3,395.6 1496.8,393.6 1500.2,391.6 1503.7,389.6 1507.2,387.7 1510.7,385.8 1514.3,384 1517.8,382.2 1521.4,380.5 1525,378.7 1528.6,377.1 1532.3,375.4 1535.9,373.8 1539.6,372.2 1543.3,370.7 1547,369.2 1550.7,367.8 1554.4,366.4 1558.2,365 1561.9,363.6 1565.7,362.3 1569.5,361.1 1573.3,359.9 1577.1,358.7 1580.9,357.5 1584.8,356.4 1588.6,355.4 1592.5,354.3 1596.3,353.4 1600.2,352.4 1604.1,351.5 1608,350.6 1611.9,349.8 1615.8,349 1619.7,348.2 1623.7,347.5 1627.6,346.8 1631.5,346.1 1635.5,345.5 1639.4,344.9 1643.4,344.3 1647.3,343.8 1651.3,343.3 1655.3,342.9 1659.2,342.5 1663.2,342.1 1667.2,341.8 1671.2,341.5 1675.1,341.2 1679.1,340.9 1683.1,340.7 1687.1,340.5 1691.1,340.4 1695.1,340.2 1699.1,340.1 1703,340.1 1707,340.2 1711,340.2 1715,340.2 1719,340.2 1723,340.2 1727,340.2 1731,340.2 1735,340.2 1739,340.2 1743,340.2 1747,340.2 1751,340.2 1755,340.2 1759,340.2 1763,340.2 1767,340.2 1771,340.2 1775,340.2 1779,340.2 1783,340.2 1787,340.2 1791,340.2 1795,340.2 1799,340.2 1803,340.2 1807,340.2 1811,340.2 1815,340.2 1819,340.2 1823,340.2 1827,340.2 1831,340.2 1835,340.2 1839,340.2 1843,340.2 1847,340.2 1851,340.2 1855,340.2 1859,340.2 1863,340.2 1867,340.2 1871,340.2 1875,340.2 1879,340.2 1883,340.2 1887,340.2 1891,340.2 1895,340.2 1899,340.2 1903,340.2 1907,340.2 1911,340.2 1915,340.2 1919,340.2 1923,340.2 1927,340.2 1931,340.2 1935,340.2 1939,340.2 1943,340.2 1947,340.2 1951,340.2 1955,340.2 1959,340.2 1963,340.2 1967,340.2 1971,340.2 1975,340.2 1979,340.2 1983,340.2 1987,340.2 1991,340.2 1995,340.2 1999,340.2 2003,340.2 2007,340.2 2011,340.2 2015,340.2 2019,340.2 2023,340.2 2027,340.2 2031,340.2 2035,340.2 2039,340.2 2043,340.2 2047,340.2 2051,340.2 2055,340.2 2059,340.2 2063,340.2 2067,340.2 2071,340.2"/>
</g>
</g>
<g filter="url(#soft)">
<g fill="#000">
<rect x="173.3" y="116.2" width="2.7" height="923" fill="#000" fill-opacity="0.2"/>
<rect x="179.1" y="116.2" width="2.7" height="920" fill="#000" fill-opacity="0.4"/>
<rect x="176" y="113.5" width="3.1" height="925.6"/>
<rect x="1844.9" y="113.5" width="3" height="925.6" fill="#000" fill-opacity="0.4"/>
<rect x="1841.9" y="113.5" width="3" height="925.6"/>
<rect x="176" y="113.3" width="1669" height="2.9" fill="#000" fill-opacity="0.6"/>
<rect x="176" y="116.2" width="1669" height="2.9"/>
<rect x="176" y="1035.6" width="1669" height="3.5"/>
<rect x="224.1" y="119" width="2.9" height="24" fill="#000" fill-opacity="0.5"/>
<rect x="227" y="119" width="3.2" height="24"/>
<rect x="224.1" y="1012" width="2.9" height="24" fill="#000" fill-opacity="0.5"/>
<rect x="227" y="1012" width="3.2" height="24"/>
<rect x="579.1" y="119" width="2.9" height="24" fill="#000" fill-opacity="0.5"/>
<rect x="582" y="119" width="3.2" height="24"/>
<rect x="579.1" y="1012" width="2.9" height="24" fill="#000" fill-opacity="0.5"/>
<rect x="582" y="1012" width="3.2" height="24"/>
<rect x="934.1" y="119" width="2.9" height="24" fill="#000" fill-opacity="0.5"/>
<rect x="937" y="119" width="3.2" height="24"/>
<rect x="934.1" y="1012" width="2.9" height="24" fill="#000" fill-opacity="0.5"/>
<rect x="937" y="1012" width="3.2" height="24"/>
<rect x="1289.1" y="119" width="2.9" height="24" fill="#000" fill-opacity="0.5"/>
<rect x="1292" y="119" width="3.2" height="24"/>
<rect x="1289.1" y="1012" width="2.9" height="24" fill="#000" fill-opacity="0.5"/>
<rect x="1292" y="1012" width="3.2" height="24"/>
<rect x="1644.1" y="119" width="2.9" height="24" fill="#000" fill-opacity="0.5"/>
<rect x="1647" y="119" width="3.2" height="24"/>
<rect x="1644.1" y="1012" width="2.9" height="24" fill="#000" fill-opacity="0.5"/>
<rect x="1647" y="1012" width="3.2" height="24"/>
<rect x="179" y="978" width="27" height="3.1"/>
<rect x="179" y="981.1" width="27" height="2.9" fill="#000" fill-opacity="0.5"/>
<rect x="1816" y="978" width="27" height="3.1"/>
<rect x="1816" y="981.1" width="27" height="2.9" fill="#000" fill-opacity="0.5"/>
<rect x="179" y="906.9" width="27" height="3.1"/>
<rect x="179" y="910" width="27" height="2.9" fill="#000" fill-opacity="0.5"/>
<rect x="1816" y="906.9" width="27" height="3.1"/>
<rect x="1816" y="910" width="27" height="2.9" fill="#000" fill-opacity="0.5"/>
<rect x="179" y="835.8" width="27" height="3.1"/>
<rect x="179" y="838.9" width="27" height="2.9" fill="#000" fill-opacity="0.5"/>
<rect x="1816" y="835.8" width="27" height="3.1"/>
<rect x="1816" y="838.9" width="27" height="2.9" fill="#000" fill-opacity="0.5"/>
<rect x="179" y="764.7" width="27" height="3.1"/>
<rect x="179" y="767.8" width="27" height="2.9" fill="#000" fill-opacity="0.5"/>
<rect x="1816" y="764.7" width="27" height="3.1"/>
<rect x="1816" y="767.8" width="27" height="2.9" fill="#000" fill-opacity="0.5"/>
<rect x="179" y="693.6" width="27" height="3.1"/>
<rect x="179" y="696.7" width="27" height="2.9" fill="#000" fill-opacity="0.5"/>
<rect x="1816" y="693.6" width="27" height="3.1"/>
<rect x="1816" y="696.7" width="27" height="2.9" fill="#000" fill-opacity="0.5"/>
<rect x="179" y="622.5" width="27" height="3.1"/>
<rect x="179" y="625.6" width="27" height="2.9" fill="#000" fill-opacity="0.5"/>
<rect x="1816" y="622.5" width="27" height="3.1"/>
<rect x="1816" y="625.6" width="27" height="2.9" fill="#000" fill-opacity="0.5"/>
<rect x="179" y="551.4" width="27" height="3.1"/>
<rect x="179" y="554.5" width="27" height="2.9" fill="#000" fill-opacity="0.5"/>
<rect x="1816" y="551.4" width="27" height="3.1"/>
<rect x="1816" y="554.5" width="27" height="2.9" fill="#000" fill-opacity="0.5"/>
<rect x="179" y="480.3" width="27" height="3.1"/>
<rect x="179" y="483.4" width="27" height="2.9" fill="#000" fill-opacity="0.5"/>
<rect x="1816" y="480.3" width="27" height="3.1"/>
<rect x="1816" y="483.4" width="27" height="2.9" fill="#000" fill-opacity="0.5"/>
<rect x="179" y="409.2" width="27" height="3.1"/>
<rect x="179" y="412.3" width="27" height="2.9" fill="#000" fill-opacity="0.5"/>
<rect x="1816" y="409.2" width="27" height="3.1"/>
<rect x="1816" y="412.3" width="27" height="2.9" fill="#000" fill-opacity="0.5"/>
<rect x="179" y="267" width="27" height="3.1"/>
<rect x="179" y="270.1" width="27" height="2.9" fill="#000" fill-opacity="0.5"/>
<rect x="1816" y="267" width="27" height="3.1"/>
<rect x="1816" y="270.1" width="27" height="2.9" fill="#000" fill-opacity="0.5"/>
<rect x="179" y="195.9" width="27" height="3.1"/>
<rect x="179" y="199" width="27" height="2.9" fill="#000" fill-opacity="0.5"/>
<rect x="1816" y="195.9" width="27" height="3.1"/>
<rect x="1816" y="199" width="27" height="2.9" fill="#000" fill-opacity="0.5"/>
<rect x="179" y="124.8" width="27" height="3.1"/>
<rect x="179" y="127.9" width="27" height="2.9" fill="#000" fill-opacity="0.5"/>
<rect x="1816" y="124.8" width="27" height="3.1"/>
<rect x="1816" y="127.9" width="27" height="2.9" fill="#000" fill-opacity="0.5"/>
</g>
<rect x="1947" y="266" width="75" height="744" fill="url(#jet)"/>
<g fill="#000">
<rect x="1944.2" y="263.7" width="3.2" height="748.5"/>
<rect x="1947.4" y="266" width="2.8" height="744" fill-opacity="0.45"/>
<rect x="2019.1" y="263.7" width="3" height="748.5"/>
<rect x="2016.2" y="266" width="2.9" height="744" fill-opacity="0.45"/>
<rect x="2022.1" y="263.7" width="2.6" height="748.5" fill="#bbb"/>
<rect x="1944.2" y="266.5" width="78" height="3"/>
<rect x="1959" y="263.7" width="48" height="2.8" fill="#aaa"/>
<rect x="1944.2" y="263.7" width="14.8" height="2.8"/>
<rect x="2007" y="263.7" width="15" height="2.8"/>
<rect x="1944.2" y="1009" width="78" height="3.2"/>
<rect x="1947" y="1006.2" width="75" height="2.8" fill-opacity="0.45"/>
<rect x="1947" y="933.2" width="12" height="3"/>
<rect x="1947" y="936.2" width="12" height="2.8" fill-opacity="0.35"/>
<rect x="2007" y="933.2" width="12" height="3"/>
<rect x="2007" y="936.2" width="12" height="2.8" fill-opacity="0.35"/>
<rect x="1947" y="859" width="12" height="3"/>
<rect x="1947" y="862" width="12" height="2.8" fill-opacity="0.35"/>
<rect x="2007" y="859" width="12" height="3"/>
<rect x="2007" y="862" width="12" height="2.8" fill-opacity="0.35"/>
<rect x="1947" y="784.8" width="12" height="3"/>
<rect x="1947" y="787.8" width="12" height="2.8" fill-opacity="0.35"/>
<rect x="2007" y="784.8" width="12" height="3"/>
<rect x="2007" y="787.8" width="12" height="2.8" fill-opacity="0.35"/>
<rect x="1947" y="710.5" width="12" height="3"/>
<rect x="1947" y="713.5" width="12" height="2.8" fill-opacity="0.35"/>
<rect x="2007" y="710.5" width="12" height="3"/>
<rect x="2007" y="713.5" width="12" height="2.8" fill-opacity="0.35"/>
<rect x="1947" y="636.2" width="12" height="3"/>
<rect x="1947" y="639.2" width="12" height="2.8" fill-opacity="0.35"/>
<rect x="2007" y="636.2" width="12" height="3"/>
<rect x="2007" y="639.2" width="12" height="2.8" fill-opacity="0.35"/>
<rect x="1947" y="562" width="12" height="3"/>
<rect x="1947" y="565" width="12" height="2.8" fill-opacity="0.35"/>
<rect x="2007" y="562" width="12" height="3"/>
<rect x="2007" y="565" width="12" height="2.8" fill-opacity="0.35"/>
<rect x="1947" y="487.8" width="12" height="3"/>
<rect x="1947" y="490.8" width="12" height="2.8" fill-opacity="0.35"/>
<rect x="2007" y="487.8" width="12" height="3"/>
<rect x="2007" y="490.8" width="12" height="2.8" fill-opacity="0.35"/>
<rect x="1947" y="413.5" width="12" height="3"/>
<rect x="1947" y="416.5" width="12" height="2.8" fill-opacity="0.35"/>
<rect x="2007" y="413.5" width="12" height="3"/>
<rect x="2007" y="416.5" width="12" height="2.8" fill-opacity="0.35"/>
<rect x="1947" y="339.2" width="12" height="3"/>
<rect x="1947" y="342.2" width="12" height="2.8" fill-opacity="0.35"/>
<rect x="2007" y="339.2" width="12" height="3"/>
<rect x="2007" y="342.2" width="12" height="2.8" fill-opacity="0.35"/>
</g>
<g font-family="'DejaVu Sans', 'Liberation Sans', sans-serif" fill="#000">
<text transform="translate(163.4 1005.7) scale(1 1.04)" font-size="67" text-anchor="end" stroke="#fff" stroke-width="1.9">0.12</text>
<text transform="translate(163.4 934.6) scale(1 1.04)" font-size="67" text-anchor="end" stroke="#fff" stroke-width="1.9">0.14</text>
<text transform="translate(163.4 863.5) scale(1 1.04)" font-size="67" text-anchor="end" stroke="#fff" stroke-width="1.9">0.16</text>
<text transform="translate(163.4 792.4) scale(1 1.04)" font-size="67" text-anchor="end" stroke="#fff" stroke-width="1.9">0.18</text>
<text transform="translate(163.4 721.3) scale(1 1.04)" font-size="67" text-anchor="end" stroke="#fff" stroke-width="1.9">0.2</text>
<text transform="translate(163.4 650.2) scale(1 1.04)" font-size="67" text-anchor="end" stroke="#fff" stroke-width="1.9">0.22</text>
<text transform="translate(163.4 579.1) scale(1 1.04)" font-size="67" text-anchor="end" stroke="#fff" stroke-width="1.9">0.24</text>
<text transform="translate(163.4 508) scale(1 1.04)" font-size="67" text-anchor="end" stroke="#fff" stroke-width="1.9">0.26</text>
<text transform="translate(163.4 436.9) scale(1 1.04)" font-size="67" text-anchor="end" stroke="#fff" stroke-width="1.9">0.28</text>
<text transform="translate(163.4 365.8) scale(1 1.04)" font-size="67" text-anchor="end" stroke="#fff" stroke-width="1.9">0.3</text>
<text transform="translate(163.4 294.7) scale(1 1.04)" font-size="67" text-anchor="end" stroke="#fff" stroke-width="1.9">0.32</text>
<text transform="translate(163.4 223.6) scale(1 1.04)" font-size="67" text-anchor="end" stroke="#fff" stroke-width="1.9">0.34</text>
<text transform="translate(163.4 152.5) scale(1 1.04)" font-size="67" text-anchor="end" stroke="#fff" stroke-width="1.9">0.36</text>
<text transform="translate(225.9 1122.8) scale(1 1.04)" font-size="67" text-anchor="middle" stroke="#fff" stroke-width="1.9">1.2</text>
<text transform="translate(580.9 1122.8) scale(1 1.04)" font-size="67" text-anchor="middle" stroke="#fff" stroke-width="1.9">1.3</text>
<text transform="translate(935.9 1122.8) scale(1 1.04)" font-size="67" text-anchor="middle" stroke="#fff" stroke-width="1.9">1.4</text>
<text transform="translate(1290.9 1122.8) scale(1 1.04)" font-size="67" text-anchor="middle" stroke="#fff" stroke-width="1.9">1.5</text>
<text transform="translate(1645.9 1122.8) scale(1 1.04)" font-size="67" text-anchor="middle" stroke="#fff" stroke-width="1.9">1.6</text>
<text transform="translate(2053.8 1035.3) scale(1 1.07)" font-size="67.5" stroke="#fff" stroke-width="1.9">0</text>
<text transform="translate(2053.8 961) scale(1 1.07)" font-size="67.5" stroke="#fff" stroke-width="1.9">0.1</text>
<text transform="translate(2053.8 886.8) scale(1 1.07)" font-size="67.5" stroke="#fff" stroke-width="1.9">0.2</text>
<text transform="translate(2053.8 812.5) scale(1 1.07)" font-size="67.5" stroke="#fff" stroke-width="1.9">0.3</text>
<text transform="translate(2053.8 738.3) scale(1 1.07)" font-size="67.5" stroke="#fff" stroke-width="1.9">0.4</text>
<text transform="translate(2053.8 664) scale(1 1.07)" font-size="67.5" stroke="#fff" stroke-width="1.9">0.5</text>
<text transform="translate(2053.8 589.8) scale(1 1.07)" font-size="67.5" stroke="#fff" stroke-width="1.9">0.6</text>
<text transform="translate(2053.8 515.5) scale(1 1.07)" font-size="67.5" stroke="#fff" stroke-width="1.9">0.7</text>
<text transform="translate(2053.8 441.3) scale(1 1.07)" font-size="67.5" stroke="#fff" stroke-width="1.9">0.8</text>
<text transform="translate(2053.8 367.1) scale(1 1.07)" font-size="67.5" stroke="#fff" stroke-width="1.9">0.9</text>
<text transform="translate(2053.8 292.8) scale(1 1.07)" font-size="67.5" stroke="#fff" stroke-width="1.9">1</text>
<text transform="translate(1103.5 85.8) scale(1 1.055)" font-size="66.3" text-anchor="middle" stroke="#fff" stroke-width="0.9">Mesh</text>
</g>
</g>
</svg>
</body>
</html>
